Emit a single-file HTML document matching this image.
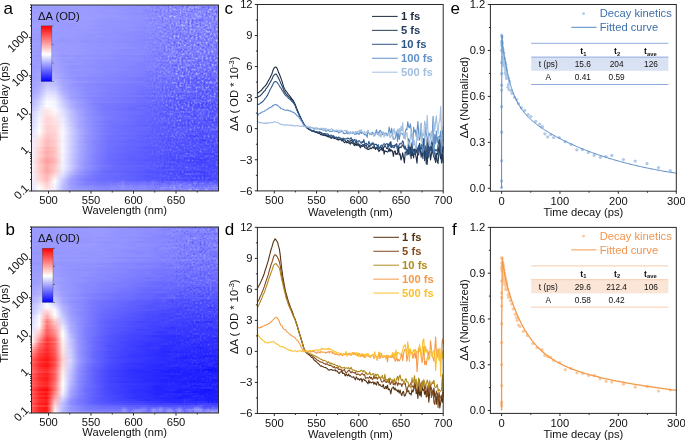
<!DOCTYPE html><html><head><meta charset="utf-8"><style>html,body{margin:0;padding:0;background:#fff;width:685px;height:441px;overflow:hidden}svg{display:block;will-change:transform}</style></head><body><svg width="685" height="441" viewBox="0 0 685 441" font-family='"Liberation Sans", sans-serif'>
<rect width="685" height="441" fill="#fff"/>
<defs><linearGradient id="ha0"><stop offset="0" stop-color="#9e9eff"/><stop offset=".042" stop-color="#9d9dff"/><stop offset=".083" stop-color="#9d9dff"/><stop offset=".125" stop-color="#9c9cff"/><stop offset=".167" stop-color="#9c9cff"/><stop offset=".208" stop-color="#9e9eff"/><stop offset=".25" stop-color="#9b9bff"/><stop offset=".292" stop-color="#9a9aff"/><stop offset=".333" stop-color="#9a9aff"/><stop offset=".375" stop-color="#9999ff"/><stop offset=".417" stop-color="#9797ff"/><stop offset=".458" stop-color="#9595ff"/><stop offset=".5" stop-color="#9595ff"/><stop offset=".542" stop-color="#9494ff"/><stop offset=".583" stop-color="#8e8eff"/><stop offset=".625" stop-color="#8e8eff"/><stop offset=".667" stop-color="#8787ff"/><stop offset=".708" stop-color="#8787ff"/><stop offset=".75" stop-color="#8383ff"/><stop offset=".792" stop-color="#8888ff"/><stop offset=".833" stop-color="#8282ff"/><stop offset=".875" stop-color="#8989ff"/><stop offset=".917" stop-color="#8888ff"/><stop offset=".958" stop-color="#8686ff"/><stop offset="1" stop-color="#7a7aff"/></linearGradient><linearGradient id="ha1"><stop offset="0" stop-color="#9d9dff"/><stop offset=".042" stop-color="#9b9bff"/><stop offset=".083" stop-color="#9c9cff"/><stop offset=".125" stop-color="#9b9bff"/><stop offset=".167" stop-color="#9a9aff"/><stop offset=".208" stop-color="#9c9cff"/><stop offset=".25" stop-color="#9a9aff"/><stop offset=".292" stop-color="#9a9aff"/><stop offset=".333" stop-color="#9a9aff"/><stop offset=".375" stop-color="#9797ff"/><stop offset=".417" stop-color="#9696ff"/><stop offset=".458" stop-color="#9595ff"/><stop offset=".5" stop-color="#9494ff"/><stop offset=".542" stop-color="#9090ff"/><stop offset=".583" stop-color="#9090ff"/><stop offset=".625" stop-color="#9191ff"/><stop offset=".667" stop-color="#8787ff"/><stop offset=".708" stop-color="#8d8dff"/><stop offset=".75" stop-color="#8a8aff"/><stop offset=".792" stop-color="#8585ff"/><stop offset=".833" stop-color="#9191ff"/><stop offset=".875" stop-color="#8a8aff"/><stop offset=".917" stop-color="#8080ff"/><stop offset=".958" stop-color="#8686ff"/><stop offset="1" stop-color="#8989ff"/></linearGradient><linearGradient id="ha2"><stop offset="0" stop-color="#9e9eff"/><stop offset=".042" stop-color="#9e9eff"/><stop offset=".083" stop-color="#9f9fff"/><stop offset=".125" stop-color="#9c9cff"/><stop offset=".167" stop-color="#9c9cff"/><stop offset=".208" stop-color="#9b9bff"/><stop offset=".25" stop-color="#9b9bff"/><stop offset=".292" stop-color="#9999ff"/><stop offset=".333" stop-color="#9898ff"/><stop offset=".375" stop-color="#9797ff"/><stop offset=".417" stop-color="#9898ff"/><stop offset=".458" stop-color="#9797ff"/><stop offset=".5" stop-color="#9292ff"/><stop offset=".542" stop-color="#9191ff"/><stop offset=".583" stop-color="#9191ff"/><stop offset=".625" stop-color="#8989ff"/><stop offset=".667" stop-color="#8b8bff"/><stop offset=".708" stop-color="#8a8aff"/><stop offset=".75" stop-color="#8e8eff"/><stop offset=".792" stop-color="#8b8bff"/><stop offset=".833" stop-color="#8686ff"/><stop offset=".875" stop-color="#8585ff"/><stop offset=".917" stop-color="#8484ff"/><stop offset=".958" stop-color="#8e8eff"/><stop offset="1" stop-color="#8484ff"/></linearGradient><linearGradient id="ha3"><stop offset="0" stop-color="#9d9dff"/><stop offset=".042" stop-color="#9d9dff"/><stop offset=".083" stop-color="#9b9bff"/><stop offset=".125" stop-color="#9c9cff"/><stop offset=".167" stop-color="#9b9bff"/><stop offset=".208" stop-color="#9d9dff"/><stop offset=".25" stop-color="#9c9cff"/><stop offset=".292" stop-color="#9a9aff"/><stop offset=".333" stop-color="#9999ff"/><stop offset=".375" stop-color="#9797ff"/><stop offset=".417" stop-color="#9797ff"/><stop offset=".458" stop-color="#9595ff"/><stop offset=".5" stop-color="#9494ff"/><stop offset=".542" stop-color="#9090ff"/><stop offset=".583" stop-color="#9090ff"/><stop offset=".625" stop-color="#8989ff"/><stop offset=".667" stop-color="#8585ff"/><stop offset=".708" stop-color="#8989ff"/><stop offset=".75" stop-color="#8585ff"/><stop offset=".792" stop-color="#8888ff"/><stop offset=".833" stop-color="#9292ff"/><stop offset=".875" stop-color="#8282ff"/><stop offset=".917" stop-color="#8282ff"/><stop offset=".958" stop-color="#8686ff"/><stop offset="1" stop-color="#8888ff"/></linearGradient><linearGradient id="ha4"><stop offset="0" stop-color="#9f9fff"/><stop offset=".042" stop-color="#9e9eff"/><stop offset=".083" stop-color="#9b9bff"/><stop offset=".125" stop-color="#9c9cff"/><stop offset=".167" stop-color="#9c9cff"/><stop offset=".208" stop-color="#9a9aff"/><stop offset=".25" stop-color="#9b9bff"/><stop offset=".292" stop-color="#9999ff"/><stop offset=".333" stop-color="#9a9aff"/><stop offset=".375" stop-color="#9797ff"/><stop offset=".417" stop-color="#9696ff"/><stop offset=".458" stop-color="#9494ff"/><stop offset=".5" stop-color="#9393ff"/><stop offset=".542" stop-color="#8e8eff"/><stop offset=".583" stop-color="#8d8dff"/><stop offset=".625" stop-color="#8e8eff"/><stop offset=".667" stop-color="#8585ff"/><stop offset=".708" stop-color="#8c8cff"/><stop offset=".75" stop-color="#8282ff"/><stop offset=".792" stop-color="#8b8bff"/><stop offset=".833" stop-color="#8282ff"/><stop offset=".875" stop-color="#8989ff"/><stop offset=".917" stop-color="#8686ff"/><stop offset=".958" stop-color="#7d7dff"/><stop offset="1" stop-color="#8b8bff"/></linearGradient><linearGradient id="ha5"><stop offset="0" stop-color="#a0a0ff"/><stop offset=".042" stop-color="#a0a0ff"/><stop offset=".083" stop-color="#9e9eff"/><stop offset=".125" stop-color="#a0a0ff"/><stop offset=".167" stop-color="#9d9dff"/><stop offset=".208" stop-color="#9e9eff"/><stop offset=".25" stop-color="#9c9cff"/><stop offset=".292" stop-color="#9b9bff"/><stop offset=".333" stop-color="#9999ff"/><stop offset=".375" stop-color="#9b9bff"/><stop offset=".417" stop-color="#9898ff"/><stop offset=".458" stop-color="#9898ff"/><stop offset=".5" stop-color="#9595ff"/><stop offset=".542" stop-color="#9393ff"/><stop offset=".583" stop-color="#9191ff"/><stop offset=".625" stop-color="#8e8eff"/><stop offset=".667" stop-color="#8d8dff"/><stop offset=".708" stop-color="#8a8aff"/><stop offset=".75" stop-color="#8989ff"/><stop offset=".792" stop-color="#8383ff"/><stop offset=".833" stop-color="#8585ff"/><stop offset=".875" stop-color="#9090ff"/><stop offset=".917" stop-color="#8484ff"/><stop offset=".958" stop-color="#8282ff"/><stop offset="1" stop-color="#8989ff"/></linearGradient><linearGradient id="ha6"><stop offset="0" stop-color="#a0a0ff"/><stop offset=".042" stop-color="#9f9fff"/><stop offset=".083" stop-color="#9d9dff"/><stop offset=".125" stop-color="#9f9fff"/><stop offset=".167" stop-color="#9e9eff"/><stop offset=".208" stop-color="#9e9eff"/><stop offset=".25" stop-color="#9c9cff"/><stop offset=".292" stop-color="#9c9cff"/><stop offset=".333" stop-color="#9a9aff"/><stop offset=".375" stop-color="#9999ff"/><stop offset=".417" stop-color="#9696ff"/><stop offset=".458" stop-color="#9595ff"/><stop offset=".5" stop-color="#9797ff"/><stop offset=".542" stop-color="#9393ff"/><stop offset=".583" stop-color="#9292ff"/><stop offset=".625" stop-color="#8f8fff"/><stop offset=".667" stop-color="#8b8bff"/><stop offset=".708" stop-color="#8989ff"/><stop offset=".75" stop-color="#8d8dff"/><stop offset=".792" stop-color="#8888ff"/><stop offset=".833" stop-color="#8787ff"/><stop offset=".875" stop-color="#8787ff"/><stop offset=".917" stop-color="#8c8cff"/><stop offset=".958" stop-color="#8a8aff"/><stop offset="1" stop-color="#8888ff"/></linearGradient><linearGradient id="ha7"><stop offset="0" stop-color="#9e9eff"/><stop offset=".042" stop-color="#9e9eff"/><stop offset=".083" stop-color="#9c9cff"/><stop offset=".125" stop-color="#9c9cff"/><stop offset=".167" stop-color="#9c9cff"/><stop offset=".208" stop-color="#9b9bff"/><stop offset=".25" stop-color="#9b9bff"/><stop offset=".292" stop-color="#9898ff"/><stop offset=".333" stop-color="#9999ff"/><stop offset=".375" stop-color="#9494ff"/><stop offset=".417" stop-color="#9595ff"/><stop offset=".458" stop-color="#9494ff"/><stop offset=".5" stop-color="#9393ff"/><stop offset=".542" stop-color="#9393ff"/><stop offset=".583" stop-color="#9191ff"/><stop offset=".625" stop-color="#8989ff"/><stop offset=".667" stop-color="#8484ff"/><stop offset=".708" stop-color="#8a8aff"/><stop offset=".75" stop-color="#8383ff"/><stop offset=".792" stop-color="#8686ff"/><stop offset=".833" stop-color="#8989ff"/><stop offset=".875" stop-color="#7b7bff"/><stop offset=".917" stop-color="#7878ff"/><stop offset=".958" stop-color="#8484ff"/><stop offset="1" stop-color="#8383ff"/></linearGradient><linearGradient id="ha8"><stop offset="0" stop-color="#9d9dff"/><stop offset=".042" stop-color="#9b9bff"/><stop offset=".083" stop-color="#9c9cff"/><stop offset=".125" stop-color="#9b9bff"/><stop offset=".167" stop-color="#9999ff"/><stop offset=".208" stop-color="#9b9bff"/><stop offset=".25" stop-color="#9a9aff"/><stop offset=".292" stop-color="#9999ff"/><stop offset=".333" stop-color="#9696ff"/><stop offset=".375" stop-color="#9595ff"/><stop offset=".417" stop-color="#9393ff"/><stop offset=".458" stop-color="#9292ff"/><stop offset=".5" stop-color="#9292ff"/><stop offset=".542" stop-color="#8f8fff"/><stop offset=".583" stop-color="#8f8fff"/><stop offset=".625" stop-color="#8c8cff"/><stop offset=".667" stop-color="#8f8fff"/><stop offset=".708" stop-color="#8383ff"/><stop offset=".75" stop-color="#8a8aff"/><stop offset=".792" stop-color="#8585ff"/><stop offset=".833" stop-color="#8585ff"/><stop offset=".875" stop-color="#7c7cff"/><stop offset=".917" stop-color="#8181ff"/><stop offset=".958" stop-color="#8787ff"/><stop offset="1" stop-color="#8383ff"/></linearGradient><linearGradient id="ha9"><stop offset="0" stop-color="#a0a0ff"/><stop offset=".042" stop-color="#9e9eff"/><stop offset=".083" stop-color="#9a9aff"/><stop offset=".125" stop-color="#9b9bff"/><stop offset=".167" stop-color="#9999ff"/><stop offset=".208" stop-color="#9797ff"/><stop offset=".25" stop-color="#9a9aff"/><stop offset=".292" stop-color="#9b9bff"/><stop offset=".333" stop-color="#9898ff"/><stop offset=".375" stop-color="#9595ff"/><stop offset=".417" stop-color="#9494ff"/><stop offset=".458" stop-color="#9595ff"/><stop offset=".5" stop-color="#9292ff"/><stop offset=".542" stop-color="#9090ff"/><stop offset=".583" stop-color="#8e8eff"/><stop offset=".625" stop-color="#8c8cff"/><stop offset=".667" stop-color="#8c8cff"/><stop offset=".708" stop-color="#8a8aff"/><stop offset=".75" stop-color="#8888ff"/><stop offset=".792" stop-color="#8181ff"/><stop offset=".833" stop-color="#8787ff"/><stop offset=".875" stop-color="#8080ff"/><stop offset=".917" stop-color="#8989ff"/><stop offset=".958" stop-color="#7d7dff"/><stop offset="1" stop-color="#8282ff"/></linearGradient><linearGradient id="ha10"><stop offset="0" stop-color="#a0a0ff"/><stop offset=".042" stop-color="#9f9fff"/><stop offset=".083" stop-color="#9c9cff"/><stop offset=".125" stop-color="#9d9dff"/><stop offset=".167" stop-color="#9c9cff"/><stop offset=".208" stop-color="#9797ff"/><stop offset=".25" stop-color="#9a9aff"/><stop offset=".292" stop-color="#9999ff"/><stop offset=".333" stop-color="#9797ff"/><stop offset=".375" stop-color="#9494ff"/><stop offset=".417" stop-color="#9494ff"/><stop offset=".458" stop-color="#9393ff"/><stop offset=".5" stop-color="#9393ff"/><stop offset=".542" stop-color="#9090ff"/><stop offset=".583" stop-color="#8e8eff"/><stop offset=".625" stop-color="#8f8fff"/><stop offset=".667" stop-color="#8787ff"/><stop offset=".708" stop-color="#8686ff"/><stop offset=".75" stop-color="#7f7fff"/><stop offset=".792" stop-color="#8c8cff"/><stop offset=".833" stop-color="#8989ff"/><stop offset=".875" stop-color="#8888ff"/><stop offset=".917" stop-color="#8686ff"/><stop offset=".958" stop-color="#8383ff"/><stop offset="1" stop-color="#8484ff"/></linearGradient><linearGradient id="ha11"><stop offset="0" stop-color="#9e9eff"/><stop offset=".042" stop-color="#9f9fff"/><stop offset=".083" stop-color="#9d9dff"/><stop offset=".125" stop-color="#9c9cff"/><stop offset=".167" stop-color="#9a9aff"/><stop offset=".208" stop-color="#9a9aff"/><stop offset=".25" stop-color="#9c9cff"/><stop offset=".292" stop-color="#9999ff"/><stop offset=".333" stop-color="#9797ff"/><stop offset=".375" stop-color="#9595ff"/><stop offset=".417" stop-color="#9292ff"/><stop offset=".458" stop-color="#9292ff"/><stop offset=".5" stop-color="#9292ff"/><stop offset=".542" stop-color="#8f8fff"/><stop offset=".583" stop-color="#8c8cff"/><stop offset=".625" stop-color="#8a8aff"/><stop offset=".667" stop-color="#8888ff"/><stop offset=".708" stop-color="#8181ff"/><stop offset=".75" stop-color="#8484ff"/><stop offset=".792" stop-color="#8181ff"/><stop offset=".833" stop-color="#8888ff"/><stop offset=".875" stop-color="#7e7eff"/><stop offset=".917" stop-color="#8585ff"/><stop offset=".958" stop-color="#8a8aff"/><stop offset="1" stop-color="#8080ff"/></linearGradient><linearGradient id="ha12"><stop offset="0" stop-color="#9d9dff"/><stop offset=".042" stop-color="#9b9bff"/><stop offset=".083" stop-color="#9c9cff"/><stop offset=".125" stop-color="#9e9eff"/><stop offset=".167" stop-color="#9a9aff"/><stop offset=".208" stop-color="#9999ff"/><stop offset=".25" stop-color="#9898ff"/><stop offset=".292" stop-color="#9898ff"/><stop offset=".333" stop-color="#9494ff"/><stop offset=".375" stop-color="#9393ff"/><stop offset=".417" stop-color="#9494ff"/><stop offset=".458" stop-color="#9090ff"/><stop offset=".5" stop-color="#9292ff"/><stop offset=".542" stop-color="#9191ff"/><stop offset=".583" stop-color="#8c8cff"/><stop offset=".625" stop-color="#8b8bff"/><stop offset=".667" stop-color="#8d8dff"/><stop offset=".708" stop-color="#8585ff"/><stop offset=".75" stop-color="#8282ff"/><stop offset=".792" stop-color="#7d7dff"/><stop offset=".833" stop-color="#8383ff"/><stop offset=".875" stop-color="#8989ff"/><stop offset=".917" stop-color="#8686ff"/><stop offset=".958" stop-color="#7c7cff"/><stop offset="1" stop-color="#7c7cff"/></linearGradient><linearGradient id="ha13"><stop offset="0" stop-color="#9d9dff"/><stop offset=".042" stop-color="#9d9dff"/><stop offset=".083" stop-color="#9c9cff"/><stop offset=".125" stop-color="#9b9bff"/><stop offset=".167" stop-color="#9a9aff"/><stop offset=".208" stop-color="#9a9aff"/><stop offset=".25" stop-color="#9999ff"/><stop offset=".292" stop-color="#9898ff"/><stop offset=".333" stop-color="#9898ff"/><stop offset=".375" stop-color="#9595ff"/><stop offset=".417" stop-color="#9393ff"/><stop offset=".458" stop-color="#8f8fff"/><stop offset=".5" stop-color="#9191ff"/><stop offset=".542" stop-color="#8b8bff"/><stop offset=".583" stop-color="#8989ff"/><stop offset=".625" stop-color="#8b8bff"/><stop offset=".667" stop-color="#8989ff"/><stop offset=".708" stop-color="#8585ff"/><stop offset=".75" stop-color="#7d7dff"/><stop offset=".792" stop-color="#8181ff"/><stop offset=".833" stop-color="#7f7fff"/><stop offset=".875" stop-color="#8484ff"/><stop offset=".917" stop-color="#8c8cff"/><stop offset=".958" stop-color="#8282ff"/><stop offset="1" stop-color="#7d7dff"/></linearGradient><linearGradient id="ha14"><stop offset="0" stop-color="#9c9cff"/><stop offset=".042" stop-color="#9a9aff"/><stop offset=".083" stop-color="#9b9bff"/><stop offset=".125" stop-color="#9999ff"/><stop offset=".167" stop-color="#9b9bff"/><stop offset=".208" stop-color="#9a9aff"/><stop offset=".25" stop-color="#9999ff"/><stop offset=".292" stop-color="#9696ff"/><stop offset=".333" stop-color="#9595ff"/><stop offset=".375" stop-color="#9393ff"/><stop offset=".417" stop-color="#9191ff"/><stop offset=".458" stop-color="#9090ff"/><stop offset=".5" stop-color="#8d8dff"/><stop offset=".542" stop-color="#8b8bff"/><stop offset=".583" stop-color="#8c8cff"/><stop offset=".625" stop-color="#8787ff"/><stop offset=".667" stop-color="#8686ff"/><stop offset=".708" stop-color="#8787ff"/><stop offset=".75" stop-color="#7c7cff"/><stop offset=".792" stop-color="#7e7eff"/><stop offset=".833" stop-color="#8181ff"/><stop offset=".875" stop-color="#8282ff"/><stop offset=".917" stop-color="#7d7dff"/><stop offset=".958" stop-color="#8484ff"/><stop offset="1" stop-color="#8080ff"/></linearGradient><linearGradient id="ha15"><stop offset="0" stop-color="#9d9dff"/><stop offset=".042" stop-color="#9c9cff"/><stop offset=".083" stop-color="#9898ff"/><stop offset=".125" stop-color="#9c9cff"/><stop offset=".167" stop-color="#9a9aff"/><stop offset=".208" stop-color="#9a9aff"/><stop offset=".25" stop-color="#9797ff"/><stop offset=".292" stop-color="#9696ff"/><stop offset=".333" stop-color="#9393ff"/><stop offset=".375" stop-color="#9696ff"/><stop offset=".417" stop-color="#9191ff"/><stop offset=".458" stop-color="#9292ff"/><stop offset=".5" stop-color="#8e8eff"/><stop offset=".542" stop-color="#8d8dff"/><stop offset=".583" stop-color="#8787ff"/><stop offset=".625" stop-color="#8787ff"/><stop offset=".667" stop-color="#8888ff"/><stop offset=".708" stop-color="#7f7fff"/><stop offset=".75" stop-color="#8686ff"/><stop offset=".792" stop-color="#8383ff"/><stop offset=".833" stop-color="#7b7bff"/><stop offset=".875" stop-color="#7d7dff"/><stop offset=".917" stop-color="#7c7cff"/><stop offset=".958" stop-color="#7e7eff"/><stop offset="1" stop-color="#7c7cff"/></linearGradient><linearGradient id="ha16"><stop offset="0" stop-color="#9b9bff"/><stop offset=".042" stop-color="#9a9aff"/><stop offset=".083" stop-color="#9b9bff"/><stop offset=".125" stop-color="#9c9cff"/><stop offset=".167" stop-color="#9898ff"/><stop offset=".208" stop-color="#9999ff"/><stop offset=".25" stop-color="#9797ff"/><stop offset=".292" stop-color="#9595ff"/><stop offset=".333" stop-color="#9696ff"/><stop offset=".375" stop-color="#9292ff"/><stop offset=".417" stop-color="#9393ff"/><stop offset=".458" stop-color="#8f8fff"/><stop offset=".5" stop-color="#8f8fff"/><stop offset=".542" stop-color="#8d8dff"/><stop offset=".583" stop-color="#8989ff"/><stop offset=".625" stop-color="#8989ff"/><stop offset=".667" stop-color="#8585ff"/><stop offset=".708" stop-color="#8585ff"/><stop offset=".75" stop-color="#8282ff"/><stop offset=".792" stop-color="#7c7cff"/><stop offset=".833" stop-color="#8080ff"/><stop offset=".875" stop-color="#8080ff"/><stop offset=".917" stop-color="#8484ff"/><stop offset=".958" stop-color="#7a7aff"/><stop offset="1" stop-color="#7e7eff"/></linearGradient><linearGradient id="ha17"><stop offset="0" stop-color="#9a9aff"/><stop offset=".042" stop-color="#9898ff"/><stop offset=".083" stop-color="#9a9aff"/><stop offset=".125" stop-color="#9a9aff"/><stop offset=".167" stop-color="#9696ff"/><stop offset=".208" stop-color="#9696ff"/><stop offset=".25" stop-color="#9696ff"/><stop offset=".292" stop-color="#9393ff"/><stop offset=".333" stop-color="#9393ff"/><stop offset=".375" stop-color="#9090ff"/><stop offset=".417" stop-color="#8f8fff"/><stop offset=".458" stop-color="#8f8fff"/><stop offset=".5" stop-color="#8c8cff"/><stop offset=".542" stop-color="#8c8cff"/><stop offset=".583" stop-color="#8787ff"/><stop offset=".625" stop-color="#8383ff"/><stop offset=".667" stop-color="#7e7eff"/><stop offset=".708" stop-color="#8888ff"/><stop offset=".75" stop-color="#7f7fff"/><stop offset=".792" stop-color="#8181ff"/><stop offset=".833" stop-color="#7e7eff"/><stop offset=".875" stop-color="#7e7eff"/><stop offset=".917" stop-color="#7d7dff"/><stop offset=".958" stop-color="#8787ff"/><stop offset="1" stop-color="#7878ff"/></linearGradient><linearGradient id="ha18"><stop offset="0" stop-color="#9a9aff"/><stop offset=".042" stop-color="#9b9bff"/><stop offset=".083" stop-color="#9b9bff"/><stop offset=".125" stop-color="#9898ff"/><stop offset=".167" stop-color="#9696ff"/><stop offset=".208" stop-color="#9797ff"/><stop offset=".25" stop-color="#9898ff"/><stop offset=".292" stop-color="#9191ff"/><stop offset=".333" stop-color="#9393ff"/><stop offset=".375" stop-color="#8f8fff"/><stop offset=".417" stop-color="#9191ff"/><stop offset=".458" stop-color="#8d8dff"/><stop offset=".5" stop-color="#8c8cff"/><stop offset=".542" stop-color="#8888ff"/><stop offset=".583" stop-color="#8686ff"/><stop offset=".625" stop-color="#8989ff"/><stop offset=".667" stop-color="#8585ff"/><stop offset=".708" stop-color="#8080ff"/><stop offset=".75" stop-color="#7c7cff"/><stop offset=".792" stop-color="#7676ff"/><stop offset=".833" stop-color="#7c7cff"/><stop offset=".875" stop-color="#7d7dff"/><stop offset=".917" stop-color="#7c7cff"/><stop offset=".958" stop-color="#7c7cff"/><stop offset="1" stop-color="#7676ff"/></linearGradient><linearGradient id="ha19"><stop offset="0" stop-color="#9f9fff"/><stop offset=".042" stop-color="#9f9fff"/><stop offset=".083" stop-color="#9c9cff"/><stop offset=".125" stop-color="#9a9aff"/><stop offset=".167" stop-color="#9a9aff"/><stop offset=".208" stop-color="#9898ff"/><stop offset=".25" stop-color="#9797ff"/><stop offset=".292" stop-color="#9797ff"/><stop offset=".333" stop-color="#9393ff"/><stop offset=".375" stop-color="#9393ff"/><stop offset=".417" stop-color="#9191ff"/><stop offset=".458" stop-color="#9090ff"/><stop offset=".5" stop-color="#8e8eff"/><stop offset=".542" stop-color="#8b8bff"/><stop offset=".583" stop-color="#8888ff"/><stop offset=".625" stop-color="#8787ff"/><stop offset=".667" stop-color="#8383ff"/><stop offset=".708" stop-color="#8383ff"/><stop offset=".75" stop-color="#8181ff"/><stop offset=".792" stop-color="#7a7aff"/><stop offset=".833" stop-color="#8080ff"/><stop offset=".875" stop-color="#7777ff"/><stop offset=".917" stop-color="#7a7aff"/><stop offset=".958" stop-color="#7c7cff"/><stop offset="1" stop-color="#7373ff"/></linearGradient><linearGradient id="ha20"><stop offset="0" stop-color="#9d9dff"/><stop offset=".042" stop-color="#9c9cff"/><stop offset=".083" stop-color="#9d9dff"/><stop offset=".125" stop-color="#9a9aff"/><stop offset=".167" stop-color="#9a9aff"/><stop offset=".208" stop-color="#9898ff"/><stop offset=".25" stop-color="#9898ff"/><stop offset=".292" stop-color="#9595ff"/><stop offset=".333" stop-color="#9595ff"/><stop offset=".375" stop-color="#9292ff"/><stop offset=".417" stop-color="#9191ff"/><stop offset=".458" stop-color="#8f8fff"/><stop offset=".5" stop-color="#8f8fff"/><stop offset=".542" stop-color="#8989ff"/><stop offset=".583" stop-color="#8a8aff"/><stop offset=".625" stop-color="#8787ff"/><stop offset=".667" stop-color="#8585ff"/><stop offset=".708" stop-color="#8383ff"/><stop offset=".75" stop-color="#7e7eff"/><stop offset=".792" stop-color="#7f7fff"/><stop offset=".833" stop-color="#8282ff"/><stop offset=".875" stop-color="#8080ff"/><stop offset=".917" stop-color="#7e7eff"/><stop offset=".958" stop-color="#7575ff"/><stop offset="1" stop-color="#7f7fff"/></linearGradient><linearGradient id="ha21"><stop offset="0" stop-color="#9f9fff"/><stop offset=".042" stop-color="#9c9cff"/><stop offset=".083" stop-color="#a1a1ff"/><stop offset=".125" stop-color="#9e9eff"/><stop offset=".167" stop-color="#9898ff"/><stop offset=".208" stop-color="#9b9bff"/><stop offset=".25" stop-color="#9898ff"/><stop offset=".292" stop-color="#9696ff"/><stop offset=".333" stop-color="#9595ff"/><stop offset=".375" stop-color="#9595ff"/><stop offset=".417" stop-color="#9191ff"/><stop offset=".458" stop-color="#9191ff"/><stop offset=".5" stop-color="#9191ff"/><stop offset=".542" stop-color="#8f8fff"/><stop offset=".583" stop-color="#8a8aff"/><stop offset=".625" stop-color="#8787ff"/><stop offset=".667" stop-color="#8181ff"/><stop offset=".708" stop-color="#8181ff"/><stop offset=".75" stop-color="#8383ff"/><stop offset=".792" stop-color="#8282ff"/><stop offset=".833" stop-color="#8080ff"/><stop offset=".875" stop-color="#8383ff"/><stop offset=".917" stop-color="#7979ff"/><stop offset=".958" stop-color="#7d7dff"/><stop offset="1" stop-color="#8181ff"/></linearGradient><linearGradient id="ha22"><stop offset="0" stop-color="#9e9eff"/><stop offset=".042" stop-color="#9c9cff"/><stop offset=".083" stop-color="#a0a0ff"/><stop offset=".125" stop-color="#9d9dff"/><stop offset=".167" stop-color="#9898ff"/><stop offset=".208" stop-color="#9a9aff"/><stop offset=".25" stop-color="#9898ff"/><stop offset=".292" stop-color="#9797ff"/><stop offset=".333" stop-color="#9292ff"/><stop offset=".375" stop-color="#9191ff"/><stop offset=".417" stop-color="#9090ff"/><stop offset=".458" stop-color="#8e8eff"/><stop offset=".5" stop-color="#8a8aff"/><stop offset=".542" stop-color="#8b8bff"/><stop offset=".583" stop-color="#8a8aff"/><stop offset=".625" stop-color="#8787ff"/><stop offset=".667" stop-color="#8282ff"/><stop offset=".708" stop-color="#8181ff"/><stop offset=".75" stop-color="#8383ff"/><stop offset=".792" stop-color="#7272ff"/><stop offset=".833" stop-color="#7d7dff"/><stop offset=".875" stop-color="#7f7fff"/><stop offset=".917" stop-color="#7f7fff"/><stop offset=".958" stop-color="#8484ff"/><stop offset="1" stop-color="#8181ff"/></linearGradient><linearGradient id="ha23"><stop offset="0" stop-color="#9d9dff"/><stop offset=".042" stop-color="#9b9bff"/><stop offset=".083" stop-color="#a0a0ff"/><stop offset=".125" stop-color="#a0a0ff"/><stop offset=".167" stop-color="#9c9cff"/><stop offset=".208" stop-color="#9898ff"/><stop offset=".25" stop-color="#9898ff"/><stop offset=".292" stop-color="#9696ff"/><stop offset=".333" stop-color="#9595ff"/><stop offset=".375" stop-color="#9191ff"/><stop offset=".417" stop-color="#9191ff"/><stop offset=".458" stop-color="#8d8dff"/><stop offset=".5" stop-color="#8c8cff"/><stop offset=".542" stop-color="#8a8aff"/><stop offset=".583" stop-color="#8989ff"/><stop offset=".625" stop-color="#8787ff"/><stop offset=".667" stop-color="#7e7eff"/><stop offset=".708" stop-color="#7d7dff"/><stop offset=".75" stop-color="#8080ff"/><stop offset=".792" stop-color="#7b7bff"/><stop offset=".833" stop-color="#7575ff"/><stop offset=".875" stop-color="#8080ff"/><stop offset=".917" stop-color="#7c7cff"/><stop offset=".958" stop-color="#7c7cff"/><stop offset="1" stop-color="#7777ff"/></linearGradient><linearGradient id="ha24"><stop offset="0" stop-color="#9f9fff"/><stop offset=".042" stop-color="#9b9bff"/><stop offset=".083" stop-color="#a1a1ff"/><stop offset=".125" stop-color="#a1a1ff"/><stop offset=".167" stop-color="#9999ff"/><stop offset=".208" stop-color="#9a9aff"/><stop offset=".25" stop-color="#9999ff"/><stop offset=".292" stop-color="#9595ff"/><stop offset=".333" stop-color="#9494ff"/><stop offset=".375" stop-color="#9191ff"/><stop offset=".417" stop-color="#9191ff"/><stop offset=".458" stop-color="#8d8dff"/><stop offset=".5" stop-color="#8c8cff"/><stop offset=".542" stop-color="#8d8dff"/><stop offset=".583" stop-color="#8c8cff"/><stop offset=".625" stop-color="#8a8aff"/><stop offset=".667" stop-color="#8383ff"/><stop offset=".708" stop-color="#8181ff"/><stop offset=".75" stop-color="#8585ff"/><stop offset=".792" stop-color="#7d7dff"/><stop offset=".833" stop-color="#7878ff"/><stop offset=".875" stop-color="#7b7bff"/><stop offset=".917" stop-color="#7c7cff"/><stop offset=".958" stop-color="#7676ff"/><stop offset="1" stop-color="#7272ff"/></linearGradient><linearGradient id="ha25"><stop offset="0" stop-color="#9898ff"/><stop offset=".042" stop-color="#9898ff"/><stop offset=".083" stop-color="#a0a0ff"/><stop offset=".125" stop-color="#9e9eff"/><stop offset=".167" stop-color="#9595ff"/><stop offset=".208" stop-color="#9696ff"/><stop offset=".25" stop-color="#9393ff"/><stop offset=".292" stop-color="#9292ff"/><stop offset=".333" stop-color="#8e8eff"/><stop offset=".375" stop-color="#8f8fff"/><stop offset=".417" stop-color="#8c8cff"/><stop offset=".458" stop-color="#8989ff"/><stop offset=".5" stop-color="#8888ff"/><stop offset=".542" stop-color="#8686ff"/><stop offset=".583" stop-color="#8585ff"/><stop offset=".625" stop-color="#7d7dff"/><stop offset=".667" stop-color="#7b7bff"/><stop offset=".708" stop-color="#7b7bff"/><stop offset=".75" stop-color="#8585ff"/><stop offset=".792" stop-color="#7d7dff"/><stop offset=".833" stop-color="#7777ff"/><stop offset=".875" stop-color="#7a7aff"/><stop offset=".917" stop-color="#8080ff"/><stop offset=".958" stop-color="#7474ff"/><stop offset="1" stop-color="#7373ff"/></linearGradient><linearGradient id="ha26"><stop offset="0" stop-color="#9e9eff"/><stop offset=".042" stop-color="#9d9dff"/><stop offset=".083" stop-color="#a7a7ff"/><stop offset=".125" stop-color="#a5a5ff"/><stop offset=".167" stop-color="#9b9bff"/><stop offset=".208" stop-color="#9a9aff"/><stop offset=".25" stop-color="#9595ff"/><stop offset=".292" stop-color="#9797ff"/><stop offset=".333" stop-color="#9393ff"/><stop offset=".375" stop-color="#9191ff"/><stop offset=".417" stop-color="#9090ff"/><stop offset=".458" stop-color="#8d8dff"/><stop offset=".5" stop-color="#8989ff"/><stop offset=".542" stop-color="#8a8aff"/><stop offset=".583" stop-color="#8686ff"/><stop offset=".625" stop-color="#8484ff"/><stop offset=".667" stop-color="#8080ff"/><stop offset=".708" stop-color="#7e7eff"/><stop offset=".75" stop-color="#7575ff"/><stop offset=".792" stop-color="#8282ff"/><stop offset=".833" stop-color="#7c7cff"/><stop offset=".875" stop-color="#7f7fff"/><stop offset=".917" stop-color="#8282ff"/><stop offset=".958" stop-color="#7878ff"/><stop offset="1" stop-color="#6f6fff"/></linearGradient><linearGradient id="ha27"><stop offset="0" stop-color="#9999ff"/><stop offset=".042" stop-color="#9b9bff"/><stop offset=".083" stop-color="#9f9fff"/><stop offset=".125" stop-color="#a1a1ff"/><stop offset=".167" stop-color="#9696ff"/><stop offset=".208" stop-color="#9696ff"/><stop offset=".25" stop-color="#9494ff"/><stop offset=".292" stop-color="#9292ff"/><stop offset=".333" stop-color="#8f8fff"/><stop offset=".375" stop-color="#8c8cff"/><stop offset=".417" stop-color="#8b8bff"/><stop offset=".458" stop-color="#8787ff"/><stop offset=".5" stop-color="#8888ff"/><stop offset=".542" stop-color="#8989ff"/><stop offset=".583" stop-color="#8787ff"/><stop offset=".625" stop-color="#8484ff"/><stop offset=".667" stop-color="#8080ff"/><stop offset=".708" stop-color="#7979ff"/><stop offset=".75" stop-color="#8080ff"/><stop offset=".792" stop-color="#7878ff"/><stop offset=".833" stop-color="#7676ff"/><stop offset=".875" stop-color="#7373ff"/><stop offset=".917" stop-color="#7474ff"/><stop offset=".958" stop-color="#7272ff"/><stop offset="1" stop-color="#7474ff"/></linearGradient><linearGradient id="ha28"><stop offset="0" stop-color="#9c9cff"/><stop offset=".042" stop-color="#9b9bff"/><stop offset=".083" stop-color="#a2a2ff"/><stop offset=".125" stop-color="#a2a2ff"/><stop offset=".167" stop-color="#9999ff"/><stop offset=".208" stop-color="#9393ff"/><stop offset=".25" stop-color="#9494ff"/><stop offset=".292" stop-color="#9393ff"/><stop offset=".333" stop-color="#8f8fff"/><stop offset=".375" stop-color="#8c8cff"/><stop offset=".417" stop-color="#8c8cff"/><stop offset=".458" stop-color="#8888ff"/><stop offset=".5" stop-color="#8787ff"/><stop offset=".542" stop-color="#8484ff"/><stop offset=".583" stop-color="#8585ff"/><stop offset=".625" stop-color="#7b7bff"/><stop offset=".667" stop-color="#7b7bff"/><stop offset=".708" stop-color="#7979ff"/><stop offset=".75" stop-color="#7c7cff"/><stop offset=".792" stop-color="#7a7aff"/><stop offset=".833" stop-color="#7c7cff"/><stop offset=".875" stop-color="#6c6cff"/><stop offset=".917" stop-color="#7676ff"/><stop offset=".958" stop-color="#7171ff"/><stop offset="1" stop-color="#6f6fff"/></linearGradient><linearGradient id="ha29"><stop offset="0" stop-color="#9898ff"/><stop offset=".042" stop-color="#9e9eff"/><stop offset=".083" stop-color="#a4a4ff"/><stop offset=".125" stop-color="#a3a3ff"/><stop offset=".167" stop-color="#9c9cff"/><stop offset=".208" stop-color="#9797ff"/><stop offset=".25" stop-color="#9898ff"/><stop offset=".292" stop-color="#9393ff"/><stop offset=".333" stop-color="#8f8fff"/><stop offset=".375" stop-color="#8d8dff"/><stop offset=".417" stop-color="#8b8bff"/><stop offset=".458" stop-color="#8989ff"/><stop offset=".5" stop-color="#8989ff"/><stop offset=".542" stop-color="#8686ff"/><stop offset=".583" stop-color="#8080ff"/><stop offset=".625" stop-color="#8383ff"/><stop offset=".667" stop-color="#7e7eff"/><stop offset=".708" stop-color="#7e7eff"/><stop offset=".75" stop-color="#7b7bff"/><stop offset=".792" stop-color="#7c7cff"/><stop offset=".833" stop-color="#7777ff"/><stop offset=".875" stop-color="#7b7bff"/><stop offset=".917" stop-color="#7676ff"/><stop offset=".958" stop-color="#7676ff"/><stop offset="1" stop-color="#7676ff"/></linearGradient><linearGradient id="ha30"><stop offset="0" stop-color="#9797ff"/><stop offset=".042" stop-color="#9d9dff"/><stop offset=".083" stop-color="#a2a2ff"/><stop offset=".125" stop-color="#a4a4ff"/><stop offset=".167" stop-color="#9a9aff"/><stop offset=".208" stop-color="#9292ff"/><stop offset=".25" stop-color="#9090ff"/><stop offset=".292" stop-color="#9090ff"/><stop offset=".333" stop-color="#8d8dff"/><stop offset=".375" stop-color="#8a8aff"/><stop offset=".417" stop-color="#8989ff"/><stop offset=".458" stop-color="#8686ff"/><stop offset=".5" stop-color="#8686ff"/><stop offset=".542" stop-color="#8282ff"/><stop offset=".583" stop-color="#8080ff"/><stop offset=".625" stop-color="#8080ff"/><stop offset=".667" stop-color="#8282ff"/><stop offset=".708" stop-color="#7575ff"/><stop offset=".75" stop-color="#7575ff"/><stop offset=".792" stop-color="#7171ff"/><stop offset=".833" stop-color="#7777ff"/><stop offset=".875" stop-color="#6b6bff"/><stop offset=".917" stop-color="#6e6eff"/><stop offset=".958" stop-color="#7070ff"/><stop offset="1" stop-color="#6b6bff"/></linearGradient><linearGradient id="ha31"><stop offset="0" stop-color="#9595ff"/><stop offset=".042" stop-color="#9d9dff"/><stop offset=".083" stop-color="#a5a5ff"/><stop offset=".125" stop-color="#a4a4ff"/><stop offset=".167" stop-color="#9b9bff"/><stop offset=".208" stop-color="#9292ff"/><stop offset=".25" stop-color="#9292ff"/><stop offset=".292" stop-color="#9292ff"/><stop offset=".333" stop-color="#8e8eff"/><stop offset=".375" stop-color="#8b8bff"/><stop offset=".417" stop-color="#8888ff"/><stop offset=".458" stop-color="#8888ff"/><stop offset=".5" stop-color="#8484ff"/><stop offset=".542" stop-color="#8181ff"/><stop offset=".583" stop-color="#7f7fff"/><stop offset=".625" stop-color="#8181ff"/><stop offset=".667" stop-color="#7c7cff"/><stop offset=".708" stop-color="#7d7dff"/><stop offset=".75" stop-color="#7575ff"/><stop offset=".792" stop-color="#7979ff"/><stop offset=".833" stop-color="#7070ff"/><stop offset=".875" stop-color="#7070ff"/><stop offset=".917" stop-color="#7c7cff"/><stop offset=".958" stop-color="#7474ff"/><stop offset="1" stop-color="#6d6dff"/></linearGradient><linearGradient id="ha32"><stop offset="0" stop-color="#9b9bff"/><stop offset=".042" stop-color="#a0a0ff"/><stop offset=".083" stop-color="#a7a7ff"/><stop offset=".125" stop-color="#a6a6ff"/><stop offset=".167" stop-color="#9e9eff"/><stop offset=".208" stop-color="#9595ff"/><stop offset=".25" stop-color="#9696ff"/><stop offset=".292" stop-color="#9292ff"/><stop offset=".333" stop-color="#9090ff"/><stop offset=".375" stop-color="#8a8aff"/><stop offset=".417" stop-color="#8b8bff"/><stop offset=".458" stop-color="#8a8aff"/><stop offset=".5" stop-color="#8787ff"/><stop offset=".542" stop-color="#8484ff"/><stop offset=".583" stop-color="#8181ff"/><stop offset=".625" stop-color="#8282ff"/><stop offset=".667" stop-color="#7979ff"/><stop offset=".708" stop-color="#7979ff"/><stop offset=".75" stop-color="#7979ff"/><stop offset=".792" stop-color="#7979ff"/><stop offset=".833" stop-color="#7171ff"/><stop offset=".875" stop-color="#7373ff"/><stop offset=".917" stop-color="#6f6fff"/><stop offset=".958" stop-color="#7171ff"/><stop offset="1" stop-color="#6f6fff"/></linearGradient><linearGradient id="ha33"><stop offset="0" stop-color="#9a9aff"/><stop offset=".042" stop-color="#9f9fff"/><stop offset=".083" stop-color="#aaaaff"/><stop offset=".125" stop-color="#a8a8ff"/><stop offset=".167" stop-color="#9b9bff"/><stop offset=".208" stop-color="#9494ff"/><stop offset=".25" stop-color="#9090ff"/><stop offset=".292" stop-color="#9191ff"/><stop offset=".333" stop-color="#8f8fff"/><stop offset=".375" stop-color="#8c8cff"/><stop offset=".417" stop-color="#8787ff"/><stop offset=".458" stop-color="#8686ff"/><stop offset=".5" stop-color="#8383ff"/><stop offset=".542" stop-color="#8181ff"/><stop offset=".583" stop-color="#8181ff"/><stop offset=".625" stop-color="#7878ff"/><stop offset=".667" stop-color="#7c7cff"/><stop offset=".708" stop-color="#7676ff"/><stop offset=".75" stop-color="#7a7aff"/><stop offset=".792" stop-color="#7373ff"/><stop offset=".833" stop-color="#6d6dff"/><stop offset=".875" stop-color="#7070ff"/><stop offset=".917" stop-color="#7171ff"/><stop offset=".958" stop-color="#6d6dff"/><stop offset="1" stop-color="#7070ff"/></linearGradient><linearGradient id="ha34"><stop offset="0" stop-color="#9c9cff"/><stop offset=".042" stop-color="#a3a3ff"/><stop offset=".083" stop-color="#afafff"/><stop offset=".125" stop-color="#ababff"/><stop offset=".167" stop-color="#a0a0ff"/><stop offset=".208" stop-color="#9595ff"/><stop offset=".25" stop-color="#9191ff"/><stop offset=".292" stop-color="#8f8fff"/><stop offset=".333" stop-color="#8e8eff"/><stop offset=".375" stop-color="#8888ff"/><stop offset=".417" stop-color="#8989ff"/><stop offset=".458" stop-color="#8484ff"/><stop offset=".5" stop-color="#8181ff"/><stop offset=".542" stop-color="#8282ff"/><stop offset=".583" stop-color="#7e7eff"/><stop offset=".625" stop-color="#7878ff"/><stop offset=".667" stop-color="#7777ff"/><stop offset=".708" stop-color="#7979ff"/><stop offset=".75" stop-color="#7979ff"/><stop offset=".792" stop-color="#7070ff"/><stop offset=".833" stop-color="#7272ff"/><stop offset=".875" stop-color="#7272ff"/><stop offset=".917" stop-color="#6969ff"/><stop offset=".958" stop-color="#6e6eff"/><stop offset="1" stop-color="#6d6dff"/></linearGradient><linearGradient id="ha35"><stop offset="0" stop-color="#9c9cff"/><stop offset=".042" stop-color="#a3a3ff"/><stop offset=".083" stop-color="#b1b1ff"/><stop offset=".125" stop-color="#aeaeff"/><stop offset=".167" stop-color="#a1a1ff"/><stop offset=".208" stop-color="#9797ff"/><stop offset=".25" stop-color="#9393ff"/><stop offset=".292" stop-color="#9090ff"/><stop offset=".333" stop-color="#8c8cff"/><stop offset=".375" stop-color="#8b8bff"/><stop offset=".417" stop-color="#8585ff"/><stop offset=".458" stop-color="#8585ff"/><stop offset=".5" stop-color="#8181ff"/><stop offset=".542" stop-color="#8282ff"/><stop offset=".583" stop-color="#8080ff"/><stop offset=".625" stop-color="#7575ff"/><stop offset=".667" stop-color="#7474ff"/><stop offset=".708" stop-color="#7777ff"/><stop offset=".75" stop-color="#7676ff"/><stop offset=".792" stop-color="#7474ff"/><stop offset=".833" stop-color="#6e6eff"/><stop offset=".875" stop-color="#6f6fff"/><stop offset=".917" stop-color="#6f6fff"/><stop offset=".958" stop-color="#6b6bff"/><stop offset="1" stop-color="#7171ff"/></linearGradient><linearGradient id="ha36"><stop offset="0" stop-color="#9999ff"/><stop offset=".042" stop-color="#a2a2ff"/><stop offset=".083" stop-color="#b1b1ff"/><stop offset=".125" stop-color="#adadff"/><stop offset=".167" stop-color="#9e9eff"/><stop offset=".208" stop-color="#9393ff"/><stop offset=".25" stop-color="#8d8dff"/><stop offset=".292" stop-color="#8a8aff"/><stop offset=".333" stop-color="#8888ff"/><stop offset=".375" stop-color="#8686ff"/><stop offset=".417" stop-color="#8484ff"/><stop offset=".458" stop-color="#8080ff"/><stop offset=".5" stop-color="#7f7fff"/><stop offset=".542" stop-color="#7b7bff"/><stop offset=".583" stop-color="#7878ff"/><stop offset=".625" stop-color="#7777ff"/><stop offset=".667" stop-color="#7676ff"/><stop offset=".708" stop-color="#6f6fff"/><stop offset=".75" stop-color="#6e6eff"/><stop offset=".792" stop-color="#6c6cff"/><stop offset=".833" stop-color="#6b6bff"/><stop offset=".875" stop-color="#6464ff"/><stop offset=".917" stop-color="#6d6dff"/><stop offset=".958" stop-color="#6565ff"/><stop offset="1" stop-color="#6a6aff"/></linearGradient><linearGradient id="ha37"><stop offset="0" stop-color="#9e9eff"/><stop offset=".042" stop-color="#a4a4ff"/><stop offset=".083" stop-color="#babaff"/><stop offset=".125" stop-color="#b4b4ff"/><stop offset=".167" stop-color="#a3a3ff"/><stop offset=".208" stop-color="#9999ff"/><stop offset=".25" stop-color="#8f8fff"/><stop offset=".292" stop-color="#8d8dff"/><stop offset=".333" stop-color="#8a8aff"/><stop offset=".375" stop-color="#8686ff"/><stop offset=".417" stop-color="#8484ff"/><stop offset=".458" stop-color="#8181ff"/><stop offset=".5" stop-color="#7d7dff"/><stop offset=".542" stop-color="#7c7cff"/><stop offset=".583" stop-color="#7575ff"/><stop offset=".625" stop-color="#7878ff"/><stop offset=".667" stop-color="#7272ff"/><stop offset=".708" stop-color="#6f6fff"/><stop offset=".75" stop-color="#6e6eff"/><stop offset=".792" stop-color="#6f6fff"/><stop offset=".833" stop-color="#6464ff"/><stop offset=".875" stop-color="#6161ff"/><stop offset=".917" stop-color="#6363ff"/><stop offset=".958" stop-color="#5e5eff"/><stop offset="1" stop-color="#6363ff"/></linearGradient><linearGradient id="ha38"><stop offset="0" stop-color="#a3a3ff"/><stop offset=".042" stop-color="#a8a8ff"/><stop offset=".083" stop-color="#c1c1ff"/><stop offset=".125" stop-color="#bbbbff"/><stop offset=".167" stop-color="#a5a5ff"/><stop offset=".208" stop-color="#9d9dff"/><stop offset=".25" stop-color="#9696ff"/><stop offset=".292" stop-color="#9191ff"/><stop offset=".333" stop-color="#8d8dff"/><stop offset=".375" stop-color="#8888ff"/><stop offset=".417" stop-color="#8787ff"/><stop offset=".458" stop-color="#8484ff"/><stop offset=".5" stop-color="#8383ff"/><stop offset=".542" stop-color="#7f7fff"/><stop offset=".583" stop-color="#7f7fff"/><stop offset=".625" stop-color="#7474ff"/><stop offset=".667" stop-color="#7575ff"/><stop offset=".708" stop-color="#7777ff"/><stop offset=".75" stop-color="#7070ff"/><stop offset=".792" stop-color="#6c6cff"/><stop offset=".833" stop-color="#6c6cff"/><stop offset=".875" stop-color="#6565ff"/><stop offset=".917" stop-color="#6b6bff"/><stop offset=".958" stop-color="#7777ff"/><stop offset="1" stop-color="#7070ff"/></linearGradient><linearGradient id="ha39"><stop offset="0" stop-color="#9e9eff"/><stop offset=".042" stop-color="#aaaaff"/><stop offset=".083" stop-color="#c2c2ff"/><stop offset=".125" stop-color="#bcbcff"/><stop offset=".167" stop-color="#a5a5ff"/><stop offset=".208" stop-color="#9a9aff"/><stop offset=".25" stop-color="#8f8fff"/><stop offset=".292" stop-color="#8a8aff"/><stop offset=".333" stop-color="#8686ff"/><stop offset=".375" stop-color="#8383ff"/><stop offset=".417" stop-color="#7f7fff"/><stop offset=".458" stop-color="#8080ff"/><stop offset=".5" stop-color="#7b7bff"/><stop offset=".542" stop-color="#7a7aff"/><stop offset=".583" stop-color="#7a7aff"/><stop offset=".625" stop-color="#7676ff"/><stop offset=".667" stop-color="#6d6dff"/><stop offset=".708" stop-color="#7171ff"/><stop offset=".75" stop-color="#7171ff"/><stop offset=".792" stop-color="#6767ff"/><stop offset=".833" stop-color="#6464ff"/><stop offset=".875" stop-color="#6666ff"/><stop offset=".917" stop-color="#5d5dff"/><stop offset=".958" stop-color="#6c6cff"/><stop offset="1" stop-color="#5959ff"/></linearGradient><linearGradient id="ha40"><stop offset="0" stop-color="#9f9fff"/><stop offset=".042" stop-color="#acacff"/><stop offset=".083" stop-color="#c9c9ff"/><stop offset=".125" stop-color="#c3c3ff"/><stop offset=".167" stop-color="#a8a8ff"/><stop offset=".208" stop-color="#9797ff"/><stop offset=".25" stop-color="#9090ff"/><stop offset=".292" stop-color="#8a8aff"/><stop offset=".333" stop-color="#8787ff"/><stop offset=".375" stop-color="#8383ff"/><stop offset=".417" stop-color="#7f7fff"/><stop offset=".458" stop-color="#7d7dff"/><stop offset=".5" stop-color="#7c7cff"/><stop offset=".542" stop-color="#7979ff"/><stop offset=".583" stop-color="#7474ff"/><stop offset=".625" stop-color="#7777ff"/><stop offset=".667" stop-color="#7676ff"/><stop offset=".708" stop-color="#6868ff"/><stop offset=".75" stop-color="#6c6cff"/><stop offset=".792" stop-color="#7474ff"/><stop offset=".833" stop-color="#6b6bff"/><stop offset=".875" stop-color="#6666ff"/><stop offset=".917" stop-color="#6363ff"/><stop offset=".958" stop-color="#6161ff"/><stop offset="1" stop-color="#6363ff"/></linearGradient><linearGradient id="ha41"><stop offset="0" stop-color="#a1a1ff"/><stop offset=".042" stop-color="#afafff"/><stop offset=".083" stop-color="#ceceff"/><stop offset=".125" stop-color="#cacaff"/><stop offset=".167" stop-color="#a9a9ff"/><stop offset=".208" stop-color="#9b9bff"/><stop offset=".25" stop-color="#9494ff"/><stop offset=".292" stop-color="#8c8cff"/><stop offset=".333" stop-color="#8888ff"/><stop offset=".375" stop-color="#8484ff"/><stop offset=".417" stop-color="#8080ff"/><stop offset=".458" stop-color="#7d7dff"/><stop offset=".5" stop-color="#7a7aff"/><stop offset=".542" stop-color="#7979ff"/><stop offset=".583" stop-color="#7373ff"/><stop offset=".625" stop-color="#7575ff"/><stop offset=".667" stop-color="#6f6fff"/><stop offset=".708" stop-color="#6a6aff"/><stop offset=".75" stop-color="#6868ff"/><stop offset=".792" stop-color="#6565ff"/><stop offset=".833" stop-color="#6767ff"/><stop offset=".875" stop-color="#6161ff"/><stop offset=".917" stop-color="#6969ff"/><stop offset=".958" stop-color="#5f5fff"/><stop offset="1" stop-color="#5858ff"/></linearGradient><linearGradient id="ha42"><stop offset="0" stop-color="#a2a2ff"/><stop offset=".042" stop-color="#b3b3ff"/><stop offset=".083" stop-color="#d5d5ff"/><stop offset=".125" stop-color="#ceceff"/><stop offset=".167" stop-color="#acacff"/><stop offset=".208" stop-color="#9e9eff"/><stop offset=".25" stop-color="#9393ff"/><stop offset=".292" stop-color="#8a8aff"/><stop offset=".333" stop-color="#8787ff"/><stop offset=".375" stop-color="#8585ff"/><stop offset=".417" stop-color="#8181ff"/><stop offset=".458" stop-color="#7c7cff"/><stop offset=".5" stop-color="#7a7aff"/><stop offset=".542" stop-color="#7777ff"/><stop offset=".583" stop-color="#7272ff"/><stop offset=".625" stop-color="#6e6eff"/><stop offset=".667" stop-color="#6d6dff"/><stop offset=".708" stop-color="#6767ff"/><stop offset=".75" stop-color="#6868ff"/><stop offset=".792" stop-color="#6767ff"/><stop offset=".833" stop-color="#7070ff"/><stop offset=".875" stop-color="#5e5eff"/><stop offset=".917" stop-color="#6161ff"/><stop offset=".958" stop-color="#6161ff"/><stop offset="1" stop-color="#6464ff"/></linearGradient><linearGradient id="ha43"><stop offset="0" stop-color="#a5a5ff"/><stop offset=".042" stop-color="#b6b6ff"/><stop offset=".083" stop-color="#dcdcff"/><stop offset=".125" stop-color="#d9d9ff"/><stop offset=".167" stop-color="#b3b3ff"/><stop offset=".208" stop-color="#9f9fff"/><stop offset=".25" stop-color="#9696ff"/><stop offset=".292" stop-color="#8c8cff"/><stop offset=".333" stop-color="#8989ff"/><stop offset=".375" stop-color="#8383ff"/><stop offset=".417" stop-color="#8181ff"/><stop offset=".458" stop-color="#7c7cff"/><stop offset=".5" stop-color="#7979ff"/><stop offset=".542" stop-color="#7a7aff"/><stop offset=".583" stop-color="#7171ff"/><stop offset=".625" stop-color="#7171ff"/><stop offset=".667" stop-color="#6f6fff"/><stop offset=".708" stop-color="#6b6bff"/><stop offset=".75" stop-color="#6767ff"/><stop offset=".792" stop-color="#6868ff"/><stop offset=".833" stop-color="#6666ff"/><stop offset=".875" stop-color="#6464ff"/><stop offset=".917" stop-color="#5959ff"/><stop offset=".958" stop-color="#6262ff"/><stop offset="1" stop-color="#5e5eff"/></linearGradient><linearGradient id="ha44"><stop offset="0" stop-color="#a5a5ff"/><stop offset=".042" stop-color="#bcbcff"/><stop offset=".083" stop-color="#e1e1ff"/><stop offset=".125" stop-color="#ddddff"/><stop offset=".167" stop-color="#b5b5ff"/><stop offset=".208" stop-color="#a0a0ff"/><stop offset=".25" stop-color="#9797ff"/><stop offset=".292" stop-color="#8989ff"/><stop offset=".333" stop-color="#8585ff"/><stop offset=".375" stop-color="#8282ff"/><stop offset=".417" stop-color="#7c7cff"/><stop offset=".458" stop-color="#7b7bff"/><stop offset=".5" stop-color="#7777ff"/><stop offset=".542" stop-color="#7474ff"/><stop offset=".583" stop-color="#6e6eff"/><stop offset=".625" stop-color="#6c6cff"/><stop offset=".667" stop-color="#6b6bff"/><stop offset=".708" stop-color="#6b6bff"/><stop offset=".75" stop-color="#6a6aff"/><stop offset=".792" stop-color="#6464ff"/><stop offset=".833" stop-color="#6161ff"/><stop offset=".875" stop-color="#5c5cff"/><stop offset=".917" stop-color="#6161ff"/><stop offset=".958" stop-color="#5e5eff"/><stop offset="1" stop-color="#6262ff"/></linearGradient><linearGradient id="ha45"><stop offset="0" stop-color="#a9a9ff"/><stop offset=".042" stop-color="#c3c3ff"/><stop offset=".083" stop-color="#eaeaff"/><stop offset=".125" stop-color="#e4e4ff"/><stop offset=".167" stop-color="#bfbfff"/><stop offset=".208" stop-color="#a4a4ff"/><stop offset=".25" stop-color="#9797ff"/><stop offset=".292" stop-color="#8e8eff"/><stop offset=".333" stop-color="#8989ff"/><stop offset=".375" stop-color="#8383ff"/><stop offset=".417" stop-color="#7f7fff"/><stop offset=".458" stop-color="#7d7dff"/><stop offset=".5" stop-color="#7a7aff"/><stop offset=".542" stop-color="#7878ff"/><stop offset=".583" stop-color="#7676ff"/><stop offset=".625" stop-color="#7373ff"/><stop offset=".667" stop-color="#7070ff"/><stop offset=".708" stop-color="#6f6fff"/><stop offset=".75" stop-color="#6b6bff"/><stop offset=".792" stop-color="#6060ff"/><stop offset=".833" stop-color="#6464ff"/><stop offset=".875" stop-color="#6464ff"/><stop offset=".917" stop-color="#5f5fff"/><stop offset=".958" stop-color="#6666ff"/><stop offset="1" stop-color="#5f5fff"/></linearGradient><linearGradient id="ha46"><stop offset="0" stop-color="#ababff"/><stop offset=".042" stop-color="#c7c7ff"/><stop offset=".083" stop-color="#efefff"/><stop offset=".125" stop-color="#eaeaff"/><stop offset=".167" stop-color="#c0c0ff"/><stop offset=".208" stop-color="#a0a0ff"/><stop offset=".25" stop-color="#9595ff"/><stop offset=".292" stop-color="#8989ff"/><stop offset=".333" stop-color="#8282ff"/><stop offset=".375" stop-color="#7f7fff"/><stop offset=".417" stop-color="#7d7dff"/><stop offset=".458" stop-color="#7777ff"/><stop offset=".5" stop-color="#7373ff"/><stop offset=".542" stop-color="#7474ff"/><stop offset=".583" stop-color="#6d6dff"/><stop offset=".625" stop-color="#6868ff"/><stop offset=".667" stop-color="#6868ff"/><stop offset=".708" stop-color="#6666ff"/><stop offset=".75" stop-color="#6060ff"/><stop offset=".792" stop-color="#6464ff"/><stop offset=".833" stop-color="#5d5dff"/><stop offset=".875" stop-color="#5858ff"/><stop offset=".917" stop-color="#5d5dff"/><stop offset=".958" stop-color="#6060ff"/><stop offset="1" stop-color="#5959ff"/></linearGradient><linearGradient id="ha47"><stop offset="0" stop-color="#b3b3ff"/><stop offset=".042" stop-color="#cdcdff"/><stop offset=".083" stop-color="#f7f7ff"/><stop offset=".125" stop-color="#efefff"/><stop offset=".167" stop-color="#c7c7ff"/><stop offset=".208" stop-color="#a9a9ff"/><stop offset=".25" stop-color="#9b9bff"/><stop offset=".292" stop-color="#8f8fff"/><stop offset=".333" stop-color="#8484ff"/><stop offset=".375" stop-color="#7f7fff"/><stop offset=".417" stop-color="#7b7bff"/><stop offset=".458" stop-color="#7979ff"/><stop offset=".5" stop-color="#7676ff"/><stop offset=".542" stop-color="#7474ff"/><stop offset=".583" stop-color="#7070ff"/><stop offset=".625" stop-color="#6e6eff"/><stop offset=".667" stop-color="#6d6dff"/><stop offset=".708" stop-color="#6666ff"/><stop offset=".75" stop-color="#5e5eff"/><stop offset=".792" stop-color="#5c5cff"/><stop offset=".833" stop-color="#5959ff"/><stop offset=".875" stop-color="#6666ff"/><stop offset=".917" stop-color="#5858ff"/><stop offset=".958" stop-color="#6363ff"/><stop offset="1" stop-color="#5f5fff"/></linearGradient><linearGradient id="ha48"><stop offset="0" stop-color="#b5b5ff"/><stop offset=".042" stop-color="#d5d5ff"/><stop offset=".083" stop-color="#fcfcff"/><stop offset=".125" stop-color="#f6f6ff"/><stop offset=".167" stop-color="#ceceff"/><stop offset=".208" stop-color="#aeaeff"/><stop offset=".25" stop-color="#9f9fff"/><stop offset=".292" stop-color="#8f8fff"/><stop offset=".333" stop-color="#8686ff"/><stop offset=".375" stop-color="#8080ff"/><stop offset=".417" stop-color="#7e7eff"/><stop offset=".458" stop-color="#7b7bff"/><stop offset=".5" stop-color="#7777ff"/><stop offset=".542" stop-color="#7575ff"/><stop offset=".583" stop-color="#6d6dff"/><stop offset=".625" stop-color="#7070ff"/><stop offset=".667" stop-color="#6868ff"/><stop offset=".708" stop-color="#6969ff"/><stop offset=".75" stop-color="#6666ff"/><stop offset=".792" stop-color="#5858ff"/><stop offset=".833" stop-color="#5d5dff"/><stop offset=".875" stop-color="#6060ff"/><stop offset=".917" stop-color="#6666ff"/><stop offset=".958" stop-color="#5f5fff"/><stop offset="1" stop-color="#5f5fff"/></linearGradient><linearGradient id="ha49"><stop offset="0" stop-color="#b6b6ff"/><stop offset=".042" stop-color="#d5d5ff"/><stop offset=".083" stop-color="#fafaff"/><stop offset=".125" stop-color="#f3f3ff"/><stop offset=".167" stop-color="#cfcfff"/><stop offset=".208" stop-color="#b0b0ff"/><stop offset=".25" stop-color="#9b9bff"/><stop offset=".292" stop-color="#9090ff"/><stop offset=".333" stop-color="#8282ff"/><stop offset=".375" stop-color="#7a7aff"/><stop offset=".417" stop-color="#7a7aff"/><stop offset=".458" stop-color="#7373ff"/><stop offset=".5" stop-color="#7171ff"/><stop offset=".542" stop-color="#6f6fff"/><stop offset=".583" stop-color="#6d6dff"/><stop offset=".625" stop-color="#6969ff"/><stop offset=".667" stop-color="#6666ff"/><stop offset=".708" stop-color="#5f5fff"/><stop offset=".75" stop-color="#5b5bff"/><stop offset=".792" stop-color="#5e5eff"/><stop offset=".833" stop-color="#5858ff"/><stop offset=".875" stop-color="#5353ff"/><stop offset=".917" stop-color="#5252ff"/><stop offset=".958" stop-color="#5656ff"/><stop offset="1" stop-color="#4f4fff"/></linearGradient><linearGradient id="ha50"><stop offset="0" stop-color="#bbbbff"/><stop offset=".042" stop-color="#dbdbff"/><stop offset=".083" stop-color="#ffffff"/><stop offset=".125" stop-color="#f6f6ff"/><stop offset=".167" stop-color="#d2d2ff"/><stop offset=".208" stop-color="#b1b1ff"/><stop offset=".25" stop-color="#9c9cff"/><stop offset=".292" stop-color="#8f8fff"/><stop offset=".333" stop-color="#8686ff"/><stop offset=".375" stop-color="#7b7bff"/><stop offset=".417" stop-color="#7676ff"/><stop offset=".458" stop-color="#7373ff"/><stop offset=".5" stop-color="#7272ff"/><stop offset=".542" stop-color="#6e6eff"/><stop offset=".583" stop-color="#6868ff"/><stop offset=".625" stop-color="#6565ff"/><stop offset=".667" stop-color="#6666ff"/><stop offset=".708" stop-color="#6363ff"/><stop offset=".75" stop-color="#5d5dff"/><stop offset=".792" stop-color="#6060ff"/><stop offset=".833" stop-color="#5e5eff"/><stop offset=".875" stop-color="#5050ff"/><stop offset=".917" stop-color="#5757ff"/><stop offset=".958" stop-color="#5a5aff"/><stop offset="1" stop-color="#5555ff"/></linearGradient><linearGradient id="ha51"><stop offset="0" stop-color="#c0c0ff"/><stop offset=".042" stop-color="#e1e1ff"/><stop offset=".083" stop-color="#fff2f2"/><stop offset=".125" stop-color="#f7f7ff"/><stop offset=".167" stop-color="#dadaff"/><stop offset=".208" stop-color="#b4b4ff"/><stop offset=".25" stop-color="#a0a0ff"/><stop offset=".292" stop-color="#9292ff"/><stop offset=".333" stop-color="#8686ff"/><stop offset=".375" stop-color="#7a7aff"/><stop offset=".417" stop-color="#7575ff"/><stop offset=".458" stop-color="#7474ff"/><stop offset=".5" stop-color="#6f6fff"/><stop offset=".542" stop-color="#6868ff"/><stop offset=".583" stop-color="#6e6eff"/><stop offset=".625" stop-color="#6767ff"/><stop offset=".667" stop-color="#6868ff"/><stop offset=".708" stop-color="#5d5dff"/><stop offset=".75" stop-color="#6464ff"/><stop offset=".792" stop-color="#6363ff"/><stop offset=".833" stop-color="#6161ff"/><stop offset=".875" stop-color="#5858ff"/><stop offset=".917" stop-color="#5050ff"/><stop offset=".958" stop-color="#5656ff"/><stop offset="1" stop-color="#4b4bff"/></linearGradient><linearGradient id="ha52"><stop offset="0" stop-color="#c4c4ff"/><stop offset=".042" stop-color="#e4e4ff"/><stop offset=".083" stop-color="#ffe8e8"/><stop offset=".125" stop-color="#fcfcff"/><stop offset=".167" stop-color="#dedeff"/><stop offset=".208" stop-color="#bdbdff"/><stop offset=".25" stop-color="#a3a3ff"/><stop offset=".292" stop-color="#9494ff"/><stop offset=".333" stop-color="#8686ff"/><stop offset=".375" stop-color="#7a7aff"/><stop offset=".417" stop-color="#7878ff"/><stop offset=".458" stop-color="#7171ff"/><stop offset=".5" stop-color="#6f6fff"/><stop offset=".542" stop-color="#6a6aff"/><stop offset=".583" stop-color="#6969ff"/><stop offset=".625" stop-color="#6a6aff"/><stop offset=".667" stop-color="#6060ff"/><stop offset=".708" stop-color="#6161ff"/><stop offset=".75" stop-color="#5a5aff"/><stop offset=".792" stop-color="#5757ff"/><stop offset=".833" stop-color="#5454ff"/><stop offset=".875" stop-color="#5f5fff"/><stop offset=".917" stop-color="#6363ff"/><stop offset=".958" stop-color="#5959ff"/><stop offset="1" stop-color="#5353ff"/></linearGradient><linearGradient id="ha53"><stop offset="0" stop-color="#cdcdff"/><stop offset=".042" stop-color="#ececff"/><stop offset=".083" stop-color="#ffe2e2"/><stop offset=".125" stop-color="#fff7f7"/><stop offset=".167" stop-color="#e3e3ff"/><stop offset=".208" stop-color="#c2c2ff"/><stop offset=".25" stop-color="#a7a7ff"/><stop offset=".292" stop-color="#9696ff"/><stop offset=".333" stop-color="#8888ff"/><stop offset=".375" stop-color="#7e7eff"/><stop offset=".417" stop-color="#7878ff"/><stop offset=".458" stop-color="#7676ff"/><stop offset=".5" stop-color="#7272ff"/><stop offset=".542" stop-color="#7070ff"/><stop offset=".583" stop-color="#6d6dff"/><stop offset=".625" stop-color="#6666ff"/><stop offset=".667" stop-color="#6363ff"/><stop offset=".708" stop-color="#6060ff"/><stop offset=".75" stop-color="#6464ff"/><stop offset=".792" stop-color="#6767ff"/><stop offset=".833" stop-color="#6161ff"/><stop offset=".875" stop-color="#5959ff"/><stop offset=".917" stop-color="#6161ff"/><stop offset=".958" stop-color="#5252ff"/><stop offset="1" stop-color="#6161ff"/></linearGradient><linearGradient id="ha54"><stop offset="0" stop-color="#d0d0ff"/><stop offset=".042" stop-color="#eeeeff"/><stop offset=".083" stop-color="#ffe2e2"/><stop offset=".125" stop-color="#fff1f1"/><stop offset=".167" stop-color="#e2e2ff"/><stop offset=".208" stop-color="#c2c2ff"/><stop offset=".25" stop-color="#a6a6ff"/><stop offset=".292" stop-color="#9494ff"/><stop offset=".333" stop-color="#8787ff"/><stop offset=".375" stop-color="#7c7cff"/><stop offset=".417" stop-color="#7878ff"/><stop offset=".458" stop-color="#7474ff"/><stop offset=".5" stop-color="#7272ff"/><stop offset=".542" stop-color="#6d6dff"/><stop offset=".583" stop-color="#6e6eff"/><stop offset=".625" stop-color="#6565ff"/><stop offset=".667" stop-color="#6464ff"/><stop offset=".708" stop-color="#5a5aff"/><stop offset=".75" stop-color="#5959ff"/><stop offset=".792" stop-color="#6262ff"/><stop offset=".833" stop-color="#5656ff"/><stop offset=".875" stop-color="#5b5bff"/><stop offset=".917" stop-color="#5757ff"/><stop offset=".958" stop-color="#5252ff"/><stop offset="1" stop-color="#5555ff"/></linearGradient><linearGradient id="ha55"><stop offset="0" stop-color="#cfcfff"/><stop offset=".042" stop-color="#efefff"/><stop offset=".083" stop-color="#ffdcdc"/><stop offset=".125" stop-color="#ffebeb"/><stop offset=".167" stop-color="#e5e5ff"/><stop offset=".208" stop-color="#c3c3ff"/><stop offset=".25" stop-color="#a8a8ff"/><stop offset=".292" stop-color="#9494ff"/><stop offset=".333" stop-color="#8a8aff"/><stop offset=".375" stop-color="#8080ff"/><stop offset=".417" stop-color="#7878ff"/><stop offset=".458" stop-color="#7373ff"/><stop offset=".5" stop-color="#7070ff"/><stop offset=".542" stop-color="#6b6bff"/><stop offset=".583" stop-color="#6868ff"/><stop offset=".625" stop-color="#6464ff"/><stop offset=".667" stop-color="#6262ff"/><stop offset=".708" stop-color="#5f5fff"/><stop offset=".75" stop-color="#6161ff"/><stop offset=".792" stop-color="#5a5aff"/><stop offset=".833" stop-color="#5959ff"/><stop offset=".875" stop-color="#5252ff"/><stop offset=".917" stop-color="#5f5fff"/><stop offset=".958" stop-color="#5a5aff"/><stop offset="1" stop-color="#6060ff"/></linearGradient><linearGradient id="ha56"><stop offset="0" stop-color="#d2d2ff"/><stop offset=".042" stop-color="#f4f4ff"/><stop offset=".083" stop-color="#ffd6d6"/><stop offset=".125" stop-color="#ffe5e5"/><stop offset=".167" stop-color="#ededff"/><stop offset=".208" stop-color="#c6c6ff"/><stop offset=".25" stop-color="#acacff"/><stop offset=".292" stop-color="#9999ff"/><stop offset=".333" stop-color="#8b8bff"/><stop offset=".375" stop-color="#8080ff"/><stop offset=".417" stop-color="#7a7aff"/><stop offset=".458" stop-color="#7474ff"/><stop offset=".5" stop-color="#7272ff"/><stop offset=".542" stop-color="#6d6dff"/><stop offset=".583" stop-color="#6a6aff"/><stop offset=".625" stop-color="#6666ff"/><stop offset=".667" stop-color="#6464ff"/><stop offset=".708" stop-color="#6262ff"/><stop offset=".75" stop-color="#6161ff"/><stop offset=".792" stop-color="#5757ff"/><stop offset=".833" stop-color="#6565ff"/><stop offset=".875" stop-color="#6060ff"/><stop offset=".917" stop-color="#5c5cff"/><stop offset=".958" stop-color="#5757ff"/><stop offset="1" stop-color="#5858ff"/></linearGradient><linearGradient id="ha57"><stop offset="0" stop-color="#d1d1ff"/><stop offset=".042" stop-color="#f6f6ff"/><stop offset=".083" stop-color="#ffd5d5"/><stop offset=".125" stop-color="#ffe2e2"/><stop offset=".167" stop-color="#efefff"/><stop offset=".208" stop-color="#c7c7ff"/><stop offset=".25" stop-color="#acacff"/><stop offset=".292" stop-color="#9797ff"/><stop offset=".333" stop-color="#8a8aff"/><stop offset=".375" stop-color="#8080ff"/><stop offset=".417" stop-color="#7676ff"/><stop offset=".458" stop-color="#7474ff"/><stop offset=".5" stop-color="#7373ff"/><stop offset=".542" stop-color="#6d6dff"/><stop offset=".583" stop-color="#6969ff"/><stop offset=".625" stop-color="#6767ff"/><stop offset=".667" stop-color="#6262ff"/><stop offset=".708" stop-color="#6666ff"/><stop offset=".75" stop-color="#5b5bff"/><stop offset=".792" stop-color="#6161ff"/><stop offset=".833" stop-color="#5555ff"/><stop offset=".875" stop-color="#5c5cff"/><stop offset=".917" stop-color="#5757ff"/><stop offset=".958" stop-color="#4a4aff"/><stop offset="1" stop-color="#5858ff"/></linearGradient><linearGradient id="ha58"><stop offset="0" stop-color="#d5d5ff"/><stop offset=".042" stop-color="#f3f3ff"/><stop offset=".083" stop-color="#ffd5d5"/><stop offset=".125" stop-color="#ffe0e0"/><stop offset=".167" stop-color="#eaeaff"/><stop offset=".208" stop-color="#cacaff"/><stop offset=".25" stop-color="#a9a9ff"/><stop offset=".292" stop-color="#9696ff"/><stop offset=".333" stop-color="#8888ff"/><stop offset=".375" stop-color="#7b7bff"/><stop offset=".417" stop-color="#7474ff"/><stop offset=".458" stop-color="#7373ff"/><stop offset=".5" stop-color="#6f6fff"/><stop offset=".542" stop-color="#6a6aff"/><stop offset=".583" stop-color="#6767ff"/><stop offset=".625" stop-color="#6363ff"/><stop offset=".667" stop-color="#5f5fff"/><stop offset=".708" stop-color="#6565ff"/><stop offset=".75" stop-color="#5c5cff"/><stop offset=".792" stop-color="#5555ff"/><stop offset=".833" stop-color="#5555ff"/><stop offset=".875" stop-color="#5a5aff"/><stop offset=".917" stop-color="#5858ff"/><stop offset=".958" stop-color="#5454ff"/><stop offset="1" stop-color="#5151ff"/></linearGradient><linearGradient id="ha59"><stop offset="0" stop-color="#d4d4ff"/><stop offset=".042" stop-color="#fafaff"/><stop offset=".083" stop-color="#ffd5d5"/><stop offset=".125" stop-color="#ffdfdf"/><stop offset=".167" stop-color="#efefff"/><stop offset=".208" stop-color="#cdcdff"/><stop offset=".25" stop-color="#adadff"/><stop offset=".292" stop-color="#9797ff"/><stop offset=".333" stop-color="#8a8aff"/><stop offset=".375" stop-color="#8181ff"/><stop offset=".417" stop-color="#7676ff"/><stop offset=".458" stop-color="#7272ff"/><stop offset=".5" stop-color="#7070ff"/><stop offset=".542" stop-color="#6c6cff"/><stop offset=".583" stop-color="#6666ff"/><stop offset=".625" stop-color="#6565ff"/><stop offset=".667" stop-color="#6161ff"/><stop offset=".708" stop-color="#5858ff"/><stop offset=".75" stop-color="#5c5cff"/><stop offset=".792" stop-color="#5a5aff"/><stop offset=".833" stop-color="#5757ff"/><stop offset=".875" stop-color="#4e4eff"/><stop offset=".917" stop-color="#5454ff"/><stop offset=".958" stop-color="#5656ff"/><stop offset="1" stop-color="#5656ff"/></linearGradient><linearGradient id="ha60"><stop offset="0" stop-color="#d5d5ff"/><stop offset=".042" stop-color="#f8f8ff"/><stop offset=".083" stop-color="#ffcfcf"/><stop offset=".125" stop-color="#ffd8d8"/><stop offset=".167" stop-color="#f2f2ff"/><stop offset=".208" stop-color="#cbcbff"/><stop offset=".25" stop-color="#aaaaff"/><stop offset=".292" stop-color="#9797ff"/><stop offset=".333" stop-color="#8888ff"/><stop offset=".375" stop-color="#7c7cff"/><stop offset=".417" stop-color="#7373ff"/><stop offset=".458" stop-color="#7171ff"/><stop offset=".5" stop-color="#6969ff"/><stop offset=".542" stop-color="#6868ff"/><stop offset=".583" stop-color="#6464ff"/><stop offset=".625" stop-color="#6060ff"/><stop offset=".667" stop-color="#5d5dff"/><stop offset=".708" stop-color="#5a5aff"/><stop offset=".75" stop-color="#5c5cff"/><stop offset=".792" stop-color="#5555ff"/><stop offset=".833" stop-color="#5757ff"/><stop offset=".875" stop-color="#5757ff"/><stop offset=".917" stop-color="#5050ff"/><stop offset=".958" stop-color="#5454ff"/><stop offset="1" stop-color="#5c5cff"/></linearGradient><linearGradient id="ha61"><stop offset="0" stop-color="#dadaff"/><stop offset=".042" stop-color="#fbfbff"/><stop offset=".083" stop-color="#ffd0d0"/><stop offset=".125" stop-color="#ffd8d8"/><stop offset=".167" stop-color="#f5f5ff"/><stop offset=".208" stop-color="#d2d2ff"/><stop offset=".25" stop-color="#adadff"/><stop offset=".292" stop-color="#9898ff"/><stop offset=".333" stop-color="#8c8cff"/><stop offset=".375" stop-color="#7e7eff"/><stop offset=".417" stop-color="#7575ff"/><stop offset=".458" stop-color="#7070ff"/><stop offset=".5" stop-color="#6d6dff"/><stop offset=".542" stop-color="#6a6aff"/><stop offset=".583" stop-color="#6c6cff"/><stop offset=".625" stop-color="#6363ff"/><stop offset=".667" stop-color="#5f5fff"/><stop offset=".708" stop-color="#5c5cff"/><stop offset=".75" stop-color="#5c5cff"/><stop offset=".792" stop-color="#5d5dff"/><stop offset=".833" stop-color="#5959ff"/><stop offset=".875" stop-color="#6161ff"/><stop offset=".917" stop-color="#5656ff"/><stop offset=".958" stop-color="#5d5dff"/><stop offset="1" stop-color="#5757ff"/></linearGradient><linearGradient id="ha62"><stop offset="0" stop-color="#ddddff"/><stop offset=".042" stop-color="#fefeff"/><stop offset=".083" stop-color="#ffd0d0"/><stop offset=".125" stop-color="#ffd7d7"/><stop offset=".167" stop-color="#f7f7ff"/><stop offset=".208" stop-color="#d0d0ff"/><stop offset=".25" stop-color="#b2b2ff"/><stop offset=".292" stop-color="#9999ff"/><stop offset=".333" stop-color="#8a8aff"/><stop offset=".375" stop-color="#7e7eff"/><stop offset=".417" stop-color="#7474ff"/><stop offset=".458" stop-color="#7272ff"/><stop offset=".5" stop-color="#6c6cff"/><stop offset=".542" stop-color="#6969ff"/><stop offset=".583" stop-color="#6868ff"/><stop offset=".625" stop-color="#6565ff"/><stop offset=".667" stop-color="#6060ff"/><stop offset=".708" stop-color="#5c5cff"/><stop offset=".75" stop-color="#5959ff"/><stop offset=".792" stop-color="#5a5aff"/><stop offset=".833" stop-color="#5e5eff"/><stop offset=".875" stop-color="#5151ff"/><stop offset=".917" stop-color="#5d5dff"/><stop offset=".958" stop-color="#5959ff"/><stop offset="1" stop-color="#5353ff"/></linearGradient><linearGradient id="ha63"><stop offset="0" stop-color="#dedeff"/><stop offset=".042" stop-color="#fffefe"/><stop offset=".083" stop-color="#ffcece"/><stop offset=".125" stop-color="#ffd6d6"/><stop offset=".167" stop-color="#f8f8ff"/><stop offset=".208" stop-color="#d4d4ff"/><stop offset=".25" stop-color="#b2b2ff"/><stop offset=".292" stop-color="#9a9aff"/><stop offset=".333" stop-color="#8b8bff"/><stop offset=".375" stop-color="#7c7cff"/><stop offset=".417" stop-color="#7575ff"/><stop offset=".458" stop-color="#6f6fff"/><stop offset=".5" stop-color="#6d6dff"/><stop offset=".542" stop-color="#6a6aff"/><stop offset=".583" stop-color="#6565ff"/><stop offset=".625" stop-color="#6161ff"/><stop offset=".667" stop-color="#5e5eff"/><stop offset=".708" stop-color="#5e5eff"/><stop offset=".75" stop-color="#5e5eff"/><stop offset=".792" stop-color="#5c5cff"/><stop offset=".833" stop-color="#5353ff"/><stop offset=".875" stop-color="#5252ff"/><stop offset=".917" stop-color="#5050ff"/><stop offset=".958" stop-color="#5757ff"/><stop offset="1" stop-color="#4a4aff"/></linearGradient><linearGradient id="ha64"><stop offset="0" stop-color="#e3e3ff"/><stop offset=".042" stop-color="#fff7f7"/><stop offset=".083" stop-color="#ffc8c8"/><stop offset=".125" stop-color="#ffd3d3"/><stop offset=".167" stop-color="#fafaff"/><stop offset=".208" stop-color="#d6d6ff"/><stop offset=".25" stop-color="#b3b3ff"/><stop offset=".292" stop-color="#9c9cff"/><stop offset=".333" stop-color="#8b8bff"/><stop offset=".375" stop-color="#8181ff"/><stop offset=".417" stop-color="#7676ff"/><stop offset=".458" stop-color="#7171ff"/><stop offset=".5" stop-color="#7070ff"/><stop offset=".542" stop-color="#6b6bff"/><stop offset=".583" stop-color="#6767ff"/><stop offset=".625" stop-color="#6262ff"/><stop offset=".667" stop-color="#6060ff"/><stop offset=".708" stop-color="#6161ff"/><stop offset=".75" stop-color="#5757ff"/><stop offset=".792" stop-color="#5d5dff"/><stop offset=".833" stop-color="#5959ff"/><stop offset=".875" stop-color="#5757ff"/><stop offset=".917" stop-color="#4949ff"/><stop offset=".958" stop-color="#5454ff"/><stop offset="1" stop-color="#5858ff"/></linearGradient><linearGradient id="ha65"><stop offset="0" stop-color="#e1e1ff"/><stop offset=".042" stop-color="#fff0f0"/><stop offset=".083" stop-color="#ffc4c4"/><stop offset=".125" stop-color="#ffd0d0"/><stop offset=".167" stop-color="#f7f7ff"/><stop offset=".208" stop-color="#d0d0ff"/><stop offset=".25" stop-color="#b0b0ff"/><stop offset=".292" stop-color="#9595ff"/><stop offset=".333" stop-color="#8989ff"/><stop offset=".375" stop-color="#7b7bff"/><stop offset=".417" stop-color="#7272ff"/><stop offset=".458" stop-color="#6c6cff"/><stop offset=".5" stop-color="#6969ff"/><stop offset=".542" stop-color="#6a6aff"/><stop offset=".583" stop-color="#6262ff"/><stop offset=".625" stop-color="#5e5eff"/><stop offset=".667" stop-color="#5c5cff"/><stop offset=".708" stop-color="#5757ff"/><stop offset=".75" stop-color="#5d5dff"/><stop offset=".792" stop-color="#5e5eff"/><stop offset=".833" stop-color="#5050ff"/><stop offset=".875" stop-color="#4949ff"/><stop offset=".917" stop-color="#5656ff"/><stop offset=".958" stop-color="#5656ff"/><stop offset="1" stop-color="#5555ff"/></linearGradient><linearGradient id="ha66"><stop offset="0" stop-color="#ebebff"/><stop offset=".042" stop-color="#ffeaea"/><stop offset=".083" stop-color="#ffc3c3"/><stop offset=".125" stop-color="#ffd1d1"/><stop offset=".167" stop-color="#f7f7ff"/><stop offset=".208" stop-color="#d2d2ff"/><stop offset=".25" stop-color="#b3b3ff"/><stop offset=".292" stop-color="#9999ff"/><stop offset=".333" stop-color="#8d8dff"/><stop offset=".375" stop-color="#7e7eff"/><stop offset=".417" stop-color="#7373ff"/><stop offset=".458" stop-color="#7171ff"/><stop offset=".5" stop-color="#6f6fff"/><stop offset=".542" stop-color="#6a6aff"/><stop offset=".583" stop-color="#6363ff"/><stop offset=".625" stop-color="#6363ff"/><stop offset=".667" stop-color="#6363ff"/><stop offset=".708" stop-color="#5b5bff"/><stop offset=".75" stop-color="#5757ff"/><stop offset=".792" stop-color="#5d5dff"/><stop offset=".833" stop-color="#5757ff"/><stop offset=".875" stop-color="#4e4eff"/><stop offset=".917" stop-color="#5151ff"/><stop offset=".958" stop-color="#4f4fff"/><stop offset="1" stop-color="#5454ff"/></linearGradient><linearGradient id="ha67"><stop offset="0" stop-color="#eeeeff"/><stop offset=".042" stop-color="#ffe1e1"/><stop offset=".083" stop-color="#ffbbbb"/><stop offset=".125" stop-color="#ffcccc"/><stop offset=".167" stop-color="#f5f5ff"/><stop offset=".208" stop-color="#d2d2ff"/><stop offset=".25" stop-color="#b1b1ff"/><stop offset=".292" stop-color="#9898ff"/><stop offset=".333" stop-color="#8989ff"/><stop offset=".375" stop-color="#7b7bff"/><stop offset=".417" stop-color="#7070ff"/><stop offset=".458" stop-color="#6f6fff"/><stop offset=".5" stop-color="#6969ff"/><stop offset=".542" stop-color="#6363ff"/><stop offset=".583" stop-color="#6565ff"/><stop offset=".625" stop-color="#5e5eff"/><stop offset=".667" stop-color="#5c5cff"/><stop offset=".708" stop-color="#5555ff"/><stop offset=".75" stop-color="#5353ff"/><stop offset=".792" stop-color="#5151ff"/><stop offset=".833" stop-color="#5252ff"/><stop offset=".875" stop-color="#5353ff"/><stop offset=".917" stop-color="#4444ff"/><stop offset=".958" stop-color="#5454ff"/><stop offset="1" stop-color="#4a4aff"/></linearGradient><linearGradient id="ha68"><stop offset="0" stop-color="#ececff"/><stop offset=".042" stop-color="#ffdfdf"/><stop offset=".083" stop-color="#ffb9b9"/><stop offset=".125" stop-color="#ffcbcb"/><stop offset=".167" stop-color="#f3f3ff"/><stop offset=".208" stop-color="#d2d2ff"/><stop offset=".25" stop-color="#acacff"/><stop offset=".292" stop-color="#9696ff"/><stop offset=".333" stop-color="#8686ff"/><stop offset=".375" stop-color="#7b7bff"/><stop offset=".417" stop-color="#6e6eff"/><stop offset=".458" stop-color="#6d6dff"/><stop offset=".5" stop-color="#6767ff"/><stop offset=".542" stop-color="#6666ff"/><stop offset=".583" stop-color="#5f5fff"/><stop offset=".625" stop-color="#5d5dff"/><stop offset=".667" stop-color="#6060ff"/><stop offset=".708" stop-color="#5959ff"/><stop offset=".75" stop-color="#5656ff"/><stop offset=".792" stop-color="#5d5dff"/><stop offset=".833" stop-color="#5353ff"/><stop offset=".875" stop-color="#4b4bff"/><stop offset=".917" stop-color="#5151ff"/><stop offset=".958" stop-color="#4747ff"/><stop offset="1" stop-color="#5353ff"/></linearGradient><linearGradient id="ha69"><stop offset="0" stop-color="#f0f0ff"/><stop offset=".042" stop-color="#ffdfdf"/><stop offset=".083" stop-color="#ffbaba"/><stop offset=".125" stop-color="#ffcccc"/><stop offset=".167" stop-color="#f9f9ff"/><stop offset=".208" stop-color="#d3d3ff"/><stop offset=".25" stop-color="#b0b0ff"/><stop offset=".292" stop-color="#9999ff"/><stop offset=".333" stop-color="#8686ff"/><stop offset=".375" stop-color="#7c7cff"/><stop offset=".417" stop-color="#7171ff"/><stop offset=".458" stop-color="#6e6eff"/><stop offset=".5" stop-color="#6b6bff"/><stop offset=".542" stop-color="#6565ff"/><stop offset=".583" stop-color="#6565ff"/><stop offset=".625" stop-color="#6060ff"/><stop offset=".667" stop-color="#5b5bff"/><stop offset=".708" stop-color="#5656ff"/><stop offset=".75" stop-color="#5353ff"/><stop offset=".792" stop-color="#5757ff"/><stop offset=".833" stop-color="#4f4fff"/><stop offset=".875" stop-color="#5252ff"/><stop offset=".917" stop-color="#5555ff"/><stop offset=".958" stop-color="#5555ff"/><stop offset="1" stop-color="#5858ff"/></linearGradient><linearGradient id="ha70"><stop offset="0" stop-color="#f0f0ff"/><stop offset=".042" stop-color="#ffdddd"/><stop offset=".083" stop-color="#ffb9b9"/><stop offset=".125" stop-color="#ffcbcb"/><stop offset=".167" stop-color="#f7f7ff"/><stop offset=".208" stop-color="#d2d2ff"/><stop offset=".25" stop-color="#aeaeff"/><stop offset=".292" stop-color="#9898ff"/><stop offset=".333" stop-color="#8787ff"/><stop offset=".375" stop-color="#7a7aff"/><stop offset=".417" stop-color="#7070ff"/><stop offset=".458" stop-color="#6c6cff"/><stop offset=".5" stop-color="#6868ff"/><stop offset=".542" stop-color="#6464ff"/><stop offset=".583" stop-color="#6363ff"/><stop offset=".625" stop-color="#5c5cff"/><stop offset=".667" stop-color="#5f5fff"/><stop offset=".708" stop-color="#5757ff"/><stop offset=".75" stop-color="#5959ff"/><stop offset=".792" stop-color="#5252ff"/><stop offset=".833" stop-color="#4f4fff"/><stop offset=".875" stop-color="#5959ff"/><stop offset=".917" stop-color="#4b4bff"/><stop offset=".958" stop-color="#4646ff"/><stop offset="1" stop-color="#4949ff"/></linearGradient><linearGradient id="ha71"><stop offset="0" stop-color="#f0f0ff"/><stop offset=".042" stop-color="#ffd5d5"/><stop offset=".083" stop-color="#ffacac"/><stop offset=".125" stop-color="#ffc1c1"/><stop offset=".167" stop-color="#f8f8ff"/><stop offset=".208" stop-color="#cfcfff"/><stop offset=".25" stop-color="#aeaeff"/><stop offset=".292" stop-color="#9797ff"/><stop offset=".333" stop-color="#8888ff"/><stop offset=".375" stop-color="#7878ff"/><stop offset=".417" stop-color="#6f6fff"/><stop offset=".458" stop-color="#6b6bff"/><stop offset=".5" stop-color="#6666ff"/><stop offset=".542" stop-color="#6363ff"/><stop offset=".583" stop-color="#5f5fff"/><stop offset=".625" stop-color="#5757ff"/><stop offset=".667" stop-color="#5b5bff"/><stop offset=".708" stop-color="#5858ff"/><stop offset=".75" stop-color="#5353ff"/><stop offset=".792" stop-color="#4c4cff"/><stop offset=".833" stop-color="#5757ff"/><stop offset=".875" stop-color="#4f4fff"/><stop offset=".917" stop-color="#5151ff"/><stop offset=".958" stop-color="#5353ff"/><stop offset="1" stop-color="#4949ff"/></linearGradient><linearGradient id="ha72"><stop offset="0" stop-color="#f3f3ff"/><stop offset=".042" stop-color="#ffd6d6"/><stop offset=".083" stop-color="#ffb1b1"/><stop offset=".125" stop-color="#ffc5c5"/><stop offset=".167" stop-color="#f8f8ff"/><stop offset=".208" stop-color="#d2d2ff"/><stop offset=".25" stop-color="#b1b1ff"/><stop offset=".292" stop-color="#9797ff"/><stop offset=".333" stop-color="#8787ff"/><stop offset=".375" stop-color="#7a7aff"/><stop offset=".417" stop-color="#7070ff"/><stop offset=".458" stop-color="#6b6bff"/><stop offset=".5" stop-color="#6767ff"/><stop offset=".542" stop-color="#6464ff"/><stop offset=".583" stop-color="#6060ff"/><stop offset=".625" stop-color="#5d5dff"/><stop offset=".667" stop-color="#5959ff"/><stop offset=".708" stop-color="#5f5fff"/><stop offset=".75" stop-color="#5b5bff"/><stop offset=".792" stop-color="#5555ff"/><stop offset=".833" stop-color="#5050ff"/><stop offset=".875" stop-color="#5959ff"/><stop offset=".917" stop-color="#4f4fff"/><stop offset=".958" stop-color="#4c4cff"/><stop offset="1" stop-color="#4e4eff"/></linearGradient><linearGradient id="ha73"><stop offset="0" stop-color="#f3f3ff"/><stop offset=".042" stop-color="#ffd0d0"/><stop offset=".083" stop-color="#ffa8a8"/><stop offset=".125" stop-color="#ffbfbf"/><stop offset=".167" stop-color="#fafaff"/><stop offset=".208" stop-color="#d0d0ff"/><stop offset=".25" stop-color="#afafff"/><stop offset=".292" stop-color="#9595ff"/><stop offset=".333" stop-color="#8888ff"/><stop offset=".375" stop-color="#7979ff"/><stop offset=".417" stop-color="#6e6eff"/><stop offset=".458" stop-color="#6c6cff"/><stop offset=".5" stop-color="#6868ff"/><stop offset=".542" stop-color="#6161ff"/><stop offset=".583" stop-color="#5f5fff"/><stop offset=".625" stop-color="#5959ff"/><stop offset=".667" stop-color="#5959ff"/><stop offset=".708" stop-color="#5656ff"/><stop offset=".75" stop-color="#5252ff"/><stop offset=".792" stop-color="#4e4eff"/><stop offset=".833" stop-color="#4d4dff"/><stop offset=".875" stop-color="#4949ff"/><stop offset=".917" stop-color="#4e4eff"/><stop offset=".958" stop-color="#5353ff"/><stop offset="1" stop-color="#4141ff"/></linearGradient><linearGradient id="ha74"><stop offset="0" stop-color="#f4f4ff"/><stop offset=".042" stop-color="#ffd1d1"/><stop offset=".083" stop-color="#ffacac"/><stop offset=".125" stop-color="#ffc2c2"/><stop offset=".167" stop-color="#f5f5ff"/><stop offset=".208" stop-color="#d0d0ff"/><stop offset=".25" stop-color="#acacff"/><stop offset=".292" stop-color="#9696ff"/><stop offset=".333" stop-color="#8585ff"/><stop offset=".375" stop-color="#7878ff"/><stop offset=".417" stop-color="#6d6dff"/><stop offset=".458" stop-color="#6969ff"/><stop offset=".5" stop-color="#6363ff"/><stop offset=".542" stop-color="#6262ff"/><stop offset=".583" stop-color="#5f5fff"/><stop offset=".625" stop-color="#5b5bff"/><stop offset=".667" stop-color="#5b5bff"/><stop offset=".708" stop-color="#5959ff"/><stop offset=".75" stop-color="#4e4eff"/><stop offset=".792" stop-color="#4d4dff"/><stop offset=".833" stop-color="#5555ff"/><stop offset=".875" stop-color="#5252ff"/><stop offset=".917" stop-color="#4646ff"/><stop offset=".958" stop-color="#4444ff"/><stop offset="1" stop-color="#4747ff"/></linearGradient><linearGradient id="ha75"><stop offset="0" stop-color="#f4f4ff"/><stop offset=".042" stop-color="#ffd1d1"/><stop offset=".083" stop-color="#ffaeae"/><stop offset=".125" stop-color="#ffc3c3"/><stop offset=".167" stop-color="#f4f4ff"/><stop offset=".208" stop-color="#ceceff"/><stop offset=".25" stop-color="#aeaeff"/><stop offset=".292" stop-color="#9393ff"/><stop offset=".333" stop-color="#8484ff"/><stop offset=".375" stop-color="#7878ff"/><stop offset=".417" stop-color="#6d6dff"/><stop offset=".458" stop-color="#6767ff"/><stop offset=".5" stop-color="#6464ff"/><stop offset=".542" stop-color="#5f5fff"/><stop offset=".583" stop-color="#6060ff"/><stop offset=".625" stop-color="#5b5bff"/><stop offset=".667" stop-color="#5353ff"/><stop offset=".708" stop-color="#5454ff"/><stop offset=".75" stop-color="#5454ff"/><stop offset=".792" stop-color="#5151ff"/><stop offset=".833" stop-color="#5555ff"/><stop offset=".875" stop-color="#5151ff"/><stop offset=".917" stop-color="#4646ff"/><stop offset=".958" stop-color="#4848ff"/><stop offset="1" stop-color="#4242ff"/></linearGradient><linearGradient id="ha76"><stop offset="0" stop-color="#f9f9ff"/><stop offset=".042" stop-color="#ffcbcb"/><stop offset=".083" stop-color="#ffa4a4"/><stop offset=".125" stop-color="#ffbcbc"/><stop offset=".167" stop-color="#f7f7ff"/><stop offset=".208" stop-color="#ceceff"/><stop offset=".25" stop-color="#adadff"/><stop offset=".292" stop-color="#9595ff"/><stop offset=".333" stop-color="#8383ff"/><stop offset=".375" stop-color="#7676ff"/><stop offset=".417" stop-color="#6c6cff"/><stop offset=".458" stop-color="#6969ff"/><stop offset=".5" stop-color="#6464ff"/><stop offset=".542" stop-color="#5f5fff"/><stop offset=".583" stop-color="#5f5fff"/><stop offset=".625" stop-color="#5959ff"/><stop offset=".667" stop-color="#5555ff"/><stop offset=".708" stop-color="#4f4fff"/><stop offset=".75" stop-color="#4e4eff"/><stop offset=".792" stop-color="#5252ff"/><stop offset=".833" stop-color="#4545ff"/><stop offset=".875" stop-color="#4a4aff"/><stop offset=".917" stop-color="#4c4cff"/><stop offset=".958" stop-color="#4747ff"/><stop offset="1" stop-color="#4a4aff"/></linearGradient><linearGradient id="ha77"><stop offset="0" stop-color="#f6f6ff"/><stop offset=".042" stop-color="#ffc5c5"/><stop offset=".083" stop-color="#ff9d9d"/><stop offset=".125" stop-color="#ffb7b7"/><stop offset=".167" stop-color="#f5f5ff"/><stop offset=".208" stop-color="#ccccff"/><stop offset=".25" stop-color="#aaaaff"/><stop offset=".292" stop-color="#9494ff"/><stop offset=".333" stop-color="#8484ff"/><stop offset=".375" stop-color="#7575ff"/><stop offset=".417" stop-color="#6b6bff"/><stop offset=".458" stop-color="#6565ff"/><stop offset=".5" stop-color="#6161ff"/><stop offset=".542" stop-color="#5e5eff"/><stop offset=".583" stop-color="#5b5bff"/><stop offset=".625" stop-color="#5454ff"/><stop offset=".667" stop-color="#5757ff"/><stop offset=".708" stop-color="#5656ff"/><stop offset=".75" stop-color="#4a4aff"/><stop offset=".792" stop-color="#4646ff"/><stop offset=".833" stop-color="#4b4bff"/><stop offset=".875" stop-color="#4444ff"/><stop offset=".917" stop-color="#3a3aff"/><stop offset=".958" stop-color="#4a4aff"/><stop offset="1" stop-color="#4646ff"/></linearGradient><linearGradient id="ha78"><stop offset="0" stop-color="#f6f6ff"/><stop offset=".042" stop-color="#ffc4c4"/><stop offset=".083" stop-color="#ff9b9b"/><stop offset=".125" stop-color="#ffb7b7"/><stop offset=".167" stop-color="#f3f3ff"/><stop offset=".208" stop-color="#ceceff"/><stop offset=".25" stop-color="#a9a9ff"/><stop offset=".292" stop-color="#9292ff"/><stop offset=".333" stop-color="#8383ff"/><stop offset=".375" stop-color="#7575ff"/><stop offset=".417" stop-color="#6a6aff"/><stop offset=".458" stop-color="#6969ff"/><stop offset=".5" stop-color="#6464ff"/><stop offset=".542" stop-color="#6060ff"/><stop offset=".583" stop-color="#5d5dff"/><stop offset=".625" stop-color="#5a5aff"/><stop offset=".667" stop-color="#5959ff"/><stop offset=".708" stop-color="#5252ff"/><stop offset=".75" stop-color="#5757ff"/><stop offset=".792" stop-color="#4949ff"/><stop offset=".833" stop-color="#4949ff"/><stop offset=".875" stop-color="#4141ff"/><stop offset=".917" stop-color="#4545ff"/><stop offset=".958" stop-color="#4949ff"/><stop offset="1" stop-color="#4e4eff"/></linearGradient><linearGradient id="ha79"><stop offset="0" stop-color="#f5f5ff"/><stop offset=".042" stop-color="#ffcaca"/><stop offset=".083" stop-color="#ffa4a4"/><stop offset=".125" stop-color="#ffc0c0"/><stop offset=".167" stop-color="#f2f2ff"/><stop offset=".208" stop-color="#cbcbff"/><stop offset=".25" stop-color="#a9a9ff"/><stop offset=".292" stop-color="#8f8fff"/><stop offset=".333" stop-color="#8282ff"/><stop offset=".375" stop-color="#7575ff"/><stop offset=".417" stop-color="#6a6aff"/><stop offset=".458" stop-color="#6565ff"/><stop offset=".5" stop-color="#6161ff"/><stop offset=".542" stop-color="#6262ff"/><stop offset=".583" stop-color="#5959ff"/><stop offset=".625" stop-color="#5c5cff"/><stop offset=".667" stop-color="#5757ff"/><stop offset=".708" stop-color="#5151ff"/><stop offset=".75" stop-color="#4b4bff"/><stop offset=".792" stop-color="#5252ff"/><stop offset=".833" stop-color="#5353ff"/><stop offset=".875" stop-color="#4343ff"/><stop offset=".917" stop-color="#4545ff"/><stop offset=".958" stop-color="#4c4cff"/><stop offset="1" stop-color="#4848ff"/></linearGradient><linearGradient id="ha80"><stop offset="0" stop-color="#fafaff"/><stop offset=".042" stop-color="#ffcccc"/><stop offset=".083" stop-color="#ffa8a8"/><stop offset=".125" stop-color="#ffc4c4"/><stop offset=".167" stop-color="#f4f4ff"/><stop offset=".208" stop-color="#d2d2ff"/><stop offset=".25" stop-color="#ababff"/><stop offset=".292" stop-color="#9292ff"/><stop offset=".333" stop-color="#8686ff"/><stop offset=".375" stop-color="#7878ff"/><stop offset=".417" stop-color="#7171ff"/><stop offset=".458" stop-color="#6a6aff"/><stop offset=".5" stop-color="#6666ff"/><stop offset=".542" stop-color="#6464ff"/><stop offset=".583" stop-color="#6262ff"/><stop offset=".625" stop-color="#5c5cff"/><stop offset=".667" stop-color="#5c5cff"/><stop offset=".708" stop-color="#5858ff"/><stop offset=".75" stop-color="#5252ff"/><stop offset=".792" stop-color="#5151ff"/><stop offset=".833" stop-color="#4f4fff"/><stop offset=".875" stop-color="#4747ff"/><stop offset=".917" stop-color="#5151ff"/><stop offset=".958" stop-color="#4343ff"/><stop offset="1" stop-color="#5050ff"/></linearGradient><linearGradient id="ha81"><stop offset="0" stop-color="#f6f6ff"/><stop offset=".042" stop-color="#ffcbcb"/><stop offset=".083" stop-color="#ffa7a7"/><stop offset=".125" stop-color="#ffc6c6"/><stop offset=".167" stop-color="#f1f1ff"/><stop offset=".208" stop-color="#ccccff"/><stop offset=".25" stop-color="#a9a9ff"/><stop offset=".292" stop-color="#9191ff"/><stop offset=".333" stop-color="#8484ff"/><stop offset=".375" stop-color="#7575ff"/><stop offset=".417" stop-color="#6d6dff"/><stop offset=".458" stop-color="#6767ff"/><stop offset=".5" stop-color="#6666ff"/><stop offset=".542" stop-color="#6161ff"/><stop offset=".583" stop-color="#5d5dff"/><stop offset=".625" stop-color="#5d5dff"/><stop offset=".667" stop-color="#5959ff"/><stop offset=".708" stop-color="#4b4bff"/><stop offset=".75" stop-color="#5252ff"/><stop offset=".792" stop-color="#4949ff"/><stop offset=".833" stop-color="#5252ff"/><stop offset=".875" stop-color="#5757ff"/><stop offset=".917" stop-color="#4646ff"/><stop offset=".958" stop-color="#4949ff"/><stop offset="1" stop-color="#4848ff"/></linearGradient><linearGradient id="ha82"><stop offset="0" stop-color="#f8f8ff"/><stop offset=".042" stop-color="#ffcbcb"/><stop offset=".083" stop-color="#ffa5a5"/><stop offset=".125" stop-color="#ffc7c7"/><stop offset=".167" stop-color="#ededff"/><stop offset=".208" stop-color="#c9c9ff"/><stop offset=".25" stop-color="#a3a3ff"/><stop offset=".292" stop-color="#8e8eff"/><stop offset=".333" stop-color="#8282ff"/><stop offset=".375" stop-color="#7373ff"/><stop offset=".417" stop-color="#6b6bff"/><stop offset=".458" stop-color="#6767ff"/><stop offset=".5" stop-color="#6363ff"/><stop offset=".542" stop-color="#6060ff"/><stop offset=".583" stop-color="#5f5fff"/><stop offset=".625" stop-color="#5757ff"/><stop offset=".667" stop-color="#5858ff"/><stop offset=".708" stop-color="#5656ff"/><stop offset=".75" stop-color="#5353ff"/><stop offset=".792" stop-color="#5151ff"/><stop offset=".833" stop-color="#5353ff"/><stop offset=".875" stop-color="#4c4cff"/><stop offset=".917" stop-color="#4c4cff"/><stop offset=".958" stop-color="#4b4bff"/><stop offset="1" stop-color="#5151ff"/></linearGradient><linearGradient id="ha83"><stop offset="0" stop-color="#f2f2ff"/><stop offset=".042" stop-color="#ffcaca"/><stop offset=".083" stop-color="#ffa4a4"/><stop offset=".125" stop-color="#ffc9c9"/><stop offset=".167" stop-color="#e8e8ff"/><stop offset=".208" stop-color="#bdbdff"/><stop offset=".25" stop-color="#9b9bff"/><stop offset=".292" stop-color="#8888ff"/><stop offset=".333" stop-color="#7979ff"/><stop offset=".375" stop-color="#6d6dff"/><stop offset=".417" stop-color="#6767ff"/><stop offset=".458" stop-color="#6666ff"/><stop offset=".5" stop-color="#6161ff"/><stop offset=".542" stop-color="#5c5cff"/><stop offset=".583" stop-color="#5858ff"/><stop offset=".625" stop-color="#5454ff"/><stop offset=".667" stop-color="#5050ff"/><stop offset=".708" stop-color="#4e4eff"/><stop offset=".75" stop-color="#4e4eff"/><stop offset=".792" stop-color="#4a4aff"/><stop offset=".833" stop-color="#4242ff"/><stop offset=".875" stop-color="#4545ff"/><stop offset=".917" stop-color="#4040ff"/><stop offset=".958" stop-color="#4545ff"/><stop offset="1" stop-color="#4e4eff"/></linearGradient><linearGradient id="ha84"><stop offset="0" stop-color="#f3f3ff"/><stop offset=".042" stop-color="#ffd1d1"/><stop offset=".083" stop-color="#ffafaf"/><stop offset=".125" stop-color="#ffd6d6"/><stop offset=".167" stop-color="#e3e3ff"/><stop offset=".208" stop-color="#b7b7ff"/><stop offset=".25" stop-color="#9c9cff"/><stop offset=".292" stop-color="#8888ff"/><stop offset=".333" stop-color="#7a7aff"/><stop offset=".375" stop-color="#7070ff"/><stop offset=".417" stop-color="#6c6cff"/><stop offset=".458" stop-color="#6a6aff"/><stop offset=".5" stop-color="#6464ff"/><stop offset=".542" stop-color="#6060ff"/><stop offset=".583" stop-color="#5c5cff"/><stop offset=".625" stop-color="#5c5cff"/><stop offset=".667" stop-color="#5454ff"/><stop offset=".708" stop-color="#5050ff"/><stop offset=".75" stop-color="#4c4cff"/><stop offset=".792" stop-color="#4949ff"/><stop offset=".833" stop-color="#4f4fff"/><stop offset=".875" stop-color="#5757ff"/><stop offset=".917" stop-color="#4343ff"/><stop offset=".958" stop-color="#4d4dff"/><stop offset="1" stop-color="#4a4aff"/></linearGradient><linearGradient id="ha85"><stop offset="0" stop-color="#f2f2ff"/><stop offset=".042" stop-color="#ffd4d4"/><stop offset=".083" stop-color="#ffb4b4"/><stop offset=".125" stop-color="#ffe1e1"/><stop offset=".167" stop-color="#dadaff"/><stop offset=".208" stop-color="#b0b0ff"/><stop offset=".25" stop-color="#8f8fff"/><stop offset=".292" stop-color="#8383ff"/><stop offset=".333" stop-color="#7474ff"/><stop offset=".375" stop-color="#6d6dff"/><stop offset=".417" stop-color="#6a6aff"/><stop offset=".458" stop-color="#6767ff"/><stop offset=".5" stop-color="#6262ff"/><stop offset=".542" stop-color="#5f5fff"/><stop offset=".583" stop-color="#5c5cff"/><stop offset=".625" stop-color="#5353ff"/><stop offset=".667" stop-color="#5858ff"/><stop offset=".708" stop-color="#5959ff"/><stop offset=".75" stop-color="#5353ff"/><stop offset=".792" stop-color="#5151ff"/><stop offset=".833" stop-color="#4343ff"/><stop offset=".875" stop-color="#4747ff"/><stop offset=".917" stop-color="#4242ff"/><stop offset=".958" stop-color="#4343ff"/><stop offset="1" stop-color="#4b4bff"/></linearGradient><linearGradient id="ha86"><stop offset="0" stop-color="#efefff"/><stop offset=".042" stop-color="#ffd6d6"/><stop offset=".083" stop-color="#ffb8b8"/><stop offset=".125" stop-color="#ffeded"/><stop offset=".167" stop-color="#d3d3ff"/><stop offset=".208" stop-color="#a5a5ff"/><stop offset=".25" stop-color="#8e8eff"/><stop offset=".292" stop-color="#7f7fff"/><stop offset=".333" stop-color="#7676ff"/><stop offset=".375" stop-color="#6d6dff"/><stop offset=".417" stop-color="#6969ff"/><stop offset=".458" stop-color="#6565ff"/><stop offset=".5" stop-color="#6464ff"/><stop offset=".542" stop-color="#6262ff"/><stop offset=".583" stop-color="#5c5cff"/><stop offset=".625" stop-color="#5656ff"/><stop offset=".667" stop-color="#5353ff"/><stop offset=".708" stop-color="#5555ff"/><stop offset=".75" stop-color="#4c4cff"/><stop offset=".792" stop-color="#5353ff"/><stop offset=".833" stop-color="#5151ff"/><stop offset=".875" stop-color="#4848ff"/><stop offset=".917" stop-color="#4949ff"/><stop offset=".958" stop-color="#4a4aff"/><stop offset="1" stop-color="#4e4eff"/></linearGradient><linearGradient id="ha87"><stop offset="0" stop-color="#f0f0ff"/><stop offset=".042" stop-color="#ffd7d7"/><stop offset=".083" stop-color="#ffb9b9"/><stop offset=".125" stop-color="#fff9f9"/><stop offset=".167" stop-color="#cacaff"/><stop offset=".208" stop-color="#9f9fff"/><stop offset=".25" stop-color="#8b8bff"/><stop offset=".292" stop-color="#7a7aff"/><stop offset=".333" stop-color="#7171ff"/><stop offset=".375" stop-color="#6d6dff"/><stop offset=".417" stop-color="#6c6cff"/><stop offset=".458" stop-color="#6868ff"/><stop offset=".5" stop-color="#6363ff"/><stop offset=".542" stop-color="#6060ff"/><stop offset=".583" stop-color="#5a5aff"/><stop offset=".625" stop-color="#5757ff"/><stop offset=".667" stop-color="#5555ff"/><stop offset=".708" stop-color="#4e4eff"/><stop offset=".75" stop-color="#4b4bff"/><stop offset=".792" stop-color="#4d4dff"/><stop offset=".833" stop-color="#4848ff"/><stop offset=".875" stop-color="#4242ff"/><stop offset=".917" stop-color="#4848ff"/><stop offset=".958" stop-color="#4444ff"/><stop offset="1" stop-color="#4b4bff"/></linearGradient><linearGradient id="ha88"><stop offset="0" stop-color="#ededff"/><stop offset=".042" stop-color="#ffe3e3"/><stop offset=".083" stop-color="#ffc6c6"/><stop offset=".125" stop-color="#fdfdff"/><stop offset=".167" stop-color="#c7c7ff"/><stop offset=".208" stop-color="#9e9eff"/><stop offset=".25" stop-color="#8f8fff"/><stop offset=".292" stop-color="#8080ff"/><stop offset=".333" stop-color="#7b7bff"/><stop offset=".375" stop-color="#7272ff"/><stop offset=".417" stop-color="#7171ff"/><stop offset=".458" stop-color="#6e6eff"/><stop offset=".5" stop-color="#6c6cff"/><stop offset=".542" stop-color="#6868ff"/><stop offset=".583" stop-color="#6565ff"/><stop offset=".625" stop-color="#6565ff"/><stop offset=".667" stop-color="#6161ff"/><stop offset=".708" stop-color="#5a5aff"/><stop offset=".75" stop-color="#6262ff"/><stop offset=".792" stop-color="#5f5fff"/><stop offset=".833" stop-color="#5555ff"/><stop offset=".875" stop-color="#5a5aff"/><stop offset=".917" stop-color="#5151ff"/><stop offset=".958" stop-color="#5b5bff"/><stop offset="1" stop-color="#5454ff"/></linearGradient><linearGradient id="ha89"><stop offset="0" stop-color="#e7e7ff"/><stop offset=".042" stop-color="#ffeded"/><stop offset=".083" stop-color="#ffcece"/><stop offset=".125" stop-color="#f9f9ff"/><stop offset=".167" stop-color="#c2c2ff"/><stop offset=".208" stop-color="#9c9cff"/><stop offset=".25" stop-color="#8d8dff"/><stop offset=".292" stop-color="#7e7eff"/><stop offset=".333" stop-color="#7d7dff"/><stop offset=".375" stop-color="#7676ff"/><stop offset=".417" stop-color="#7777ff"/><stop offset=".458" stop-color="#7676ff"/><stop offset=".5" stop-color="#7272ff"/><stop offset=".542" stop-color="#6f6fff"/><stop offset=".583" stop-color="#6e6eff"/><stop offset=".625" stop-color="#6c6cff"/><stop offset=".667" stop-color="#6868ff"/><stop offset=".708" stop-color="#6666ff"/><stop offset=".75" stop-color="#6363ff"/><stop offset=".792" stop-color="#6b6bff"/><stop offset=".833" stop-color="#6464ff"/><stop offset=".875" stop-color="#6767ff"/><stop offset=".917" stop-color="#6060ff"/><stop offset=".958" stop-color="#6262ff"/><stop offset="1" stop-color="#6161ff"/></linearGradient><linearGradient id="ha90"><stop offset="0" stop-color="#e7e7ff"/><stop offset=".042" stop-color="#fff6f6"/><stop offset=".083" stop-color="#ffd4d4"/><stop offset=".125" stop-color="#f5f5ff"/><stop offset=".167" stop-color="#bebeff"/><stop offset=".208" stop-color="#a1a1ff"/><stop offset=".25" stop-color="#9191ff"/><stop offset=".292" stop-color="#8989ff"/><stop offset=".333" stop-color="#8686ff"/><stop offset=".375" stop-color="#8181ff"/><stop offset=".417" stop-color="#7f7fff"/><stop offset=".458" stop-color="#7d7dff"/><stop offset=".5" stop-color="#7f7fff"/><stop offset=".542" stop-color="#7b7bff"/><stop offset=".583" stop-color="#7a7aff"/><stop offset=".625" stop-color="#7878ff"/><stop offset=".667" stop-color="#7373ff"/><stop offset=".708" stop-color="#7171ff"/><stop offset=".75" stop-color="#7676ff"/><stop offset=".792" stop-color="#7575ff"/><stop offset=".833" stop-color="#7171ff"/><stop offset=".875" stop-color="#6c6cff"/><stop offset=".917" stop-color="#6a6aff"/><stop offset=".958" stop-color="#6f6fff"/><stop offset="1" stop-color="#6969ff"/></linearGradient><linearGradient id="ha91"><stop offset="0" stop-color="#e8e8ff"/><stop offset=".042" stop-color="#ffffff"/><stop offset=".083" stop-color="#ffdcdc"/><stop offset=".125" stop-color="#f2f2ff"/><stop offset=".167" stop-color="#bcbcff"/><stop offset=".208" stop-color="#9f9fff"/><stop offset=".25" stop-color="#9696ff"/><stop offset=".292" stop-color="#9090ff"/><stop offset=".333" stop-color="#8c8cff"/><stop offset=".375" stop-color="#8787ff"/><stop offset=".417" stop-color="#8686ff"/><stop offset=".458" stop-color="#8484ff"/><stop offset=".5" stop-color="#8484ff"/><stop offset=".542" stop-color="#8585ff"/><stop offset=".583" stop-color="#8080ff"/><stop offset=".625" stop-color="#8080ff"/><stop offset=".667" stop-color="#7c7cff"/><stop offset=".708" stop-color="#8585ff"/><stop offset=".75" stop-color="#8484ff"/><stop offset=".792" stop-color="#8282ff"/><stop offset=".833" stop-color="#7878ff"/><stop offset=".875" stop-color="#7e7eff"/><stop offset=".917" stop-color="#7c7cff"/><stop offset=".958" stop-color="#7d7dff"/><stop offset="1" stop-color="#7c7cff"/></linearGradient><linearGradient id="ha92"><stop offset="0" stop-color="#e1e1ff"/><stop offset=".042" stop-color="#fcfcff"/><stop offset=".083" stop-color="#ffe8e8"/><stop offset=".125" stop-color="#ececff"/><stop offset=".167" stop-color="#bcbcff"/><stop offset=".208" stop-color="#a7a7ff"/><stop offset=".25" stop-color="#9d9dff"/><stop offset=".292" stop-color="#9696ff"/><stop offset=".333" stop-color="#9090ff"/><stop offset=".375" stop-color="#8a8aff"/><stop offset=".417" stop-color="#8888ff"/><stop offset=".458" stop-color="#8b8bff"/><stop offset=".5" stop-color="#8888ff"/><stop offset=".542" stop-color="#8a8aff"/><stop offset=".583" stop-color="#8a8aff"/><stop offset=".625" stop-color="#8585ff"/><stop offset=".667" stop-color="#8686ff"/><stop offset=".708" stop-color="#8787ff"/><stop offset=".75" stop-color="#8585ff"/><stop offset=".792" stop-color="#8383ff"/><stop offset=".833" stop-color="#8b8bff"/><stop offset=".875" stop-color="#8686ff"/><stop offset=".917" stop-color="#8989ff"/><stop offset=".958" stop-color="#8585ff"/><stop offset="1" stop-color="#8989ff"/></linearGradient></defs>
<rect x="31.5" y="5" width="187" height="2" fill="url(#ha0)"/><rect x="31.5" y="7" width="187" height="2" fill="url(#ha1)"/><rect x="31.5" y="9" width="187" height="2" fill="url(#ha2)"/><rect x="31.5" y="11" width="187" height="2" fill="url(#ha3)"/><rect x="31.5" y="13" width="187" height="2" fill="url(#ha4)"/><rect x="31.5" y="15" width="187" height="2" fill="url(#ha5)"/><rect x="31.5" y="17" width="187" height="2" fill="url(#ha6)"/><rect x="31.5" y="19" width="187" height="2" fill="url(#ha7)"/><rect x="31.5" y="21" width="187" height="2" fill="url(#ha8)"/><rect x="31.5" y="23" width="187" height="2" fill="url(#ha9)"/><rect x="31.5" y="25" width="187" height="2" fill="url(#ha10)"/><rect x="31.5" y="27" width="187" height="2" fill="url(#ha11)"/><rect x="31.5" y="29" width="187" height="2" fill="url(#ha12)"/><rect x="31.5" y="31" width="187" height="2" fill="url(#ha13)"/><rect x="31.5" y="33" width="187" height="2" fill="url(#ha14)"/><rect x="31.5" y="35" width="187" height="2" fill="url(#ha15)"/><rect x="31.5" y="37" width="187" height="2" fill="url(#ha16)"/><rect x="31.5" y="39" width="187" height="2" fill="url(#ha17)"/><rect x="31.5" y="41" width="187" height="2" fill="url(#ha18)"/><rect x="31.5" y="43" width="187" height="2" fill="url(#ha19)"/><rect x="31.5" y="45" width="187" height="2" fill="url(#ha20)"/><rect x="31.5" y="47" width="187" height="2" fill="url(#ha21)"/><rect x="31.5" y="49" width="187" height="2" fill="url(#ha22)"/><rect x="31.5" y="51" width="187" height="2" fill="url(#ha23)"/><rect x="31.5" y="53" width="187" height="2" fill="url(#ha24)"/><rect x="31.5" y="55" width="187" height="2" fill="url(#ha25)"/><rect x="31.5" y="57" width="187" height="2" fill="url(#ha26)"/><rect x="31.5" y="59" width="187" height="2" fill="url(#ha27)"/><rect x="31.5" y="61" width="187" height="2" fill="url(#ha28)"/><rect x="31.5" y="63" width="187" height="2" fill="url(#ha29)"/><rect x="31.5" y="65" width="187" height="2" fill="url(#ha30)"/><rect x="31.5" y="67" width="187" height="2" fill="url(#ha31)"/><rect x="31.5" y="69" width="187" height="2" fill="url(#ha32)"/><rect x="31.5" y="71" width="187" height="2" fill="url(#ha33)"/><rect x="31.5" y="73" width="187" height="2" fill="url(#ha34)"/><rect x="31.5" y="75" width="187" height="2" fill="url(#ha35)"/><rect x="31.5" y="77" width="187" height="2" fill="url(#ha36)"/><rect x="31.5" y="79" width="187" height="2" fill="url(#ha37)"/><rect x="31.5" y="81" width="187" height="2" fill="url(#ha38)"/><rect x="31.5" y="83" width="187" height="2" fill="url(#ha39)"/><rect x="31.5" y="85" width="187" height="2" fill="url(#ha40)"/><rect x="31.5" y="87" width="187" height="2" fill="url(#ha41)"/><rect x="31.5" y="89" width="187" height="2" fill="url(#ha42)"/><rect x="31.5" y="91" width="187" height="2" fill="url(#ha43)"/><rect x="31.5" y="93" width="187" height="2" fill="url(#ha44)"/><rect x="31.5" y="95" width="187" height="2" fill="url(#ha45)"/><rect x="31.5" y="97" width="187" height="2" fill="url(#ha46)"/><rect x="31.5" y="99" width="187" height="2" fill="url(#ha47)"/><rect x="31.5" y="101" width="187" height="2" fill="url(#ha48)"/><rect x="31.5" y="103" width="187" height="2" fill="url(#ha49)"/><rect x="31.5" y="105" width="187" height="2" fill="url(#ha50)"/><rect x="31.5" y="107" width="187" height="2" fill="url(#ha51)"/><rect x="31.5" y="109" width="187" height="2" fill="url(#ha52)"/><rect x="31.5" y="111" width="187" height="2" fill="url(#ha53)"/><rect x="31.5" y="113" width="187" height="2" fill="url(#ha54)"/><rect x="31.5" y="115" width="187" height="2" fill="url(#ha55)"/><rect x="31.5" y="117" width="187" height="2" fill="url(#ha56)"/><rect x="31.5" y="119" width="187" height="2" fill="url(#ha57)"/><rect x="31.5" y="121" width="187" height="2" fill="url(#ha58)"/><rect x="31.5" y="123" width="187" height="2" fill="url(#ha59)"/><rect x="31.5" y="125" width="187" height="2" fill="url(#ha60)"/><rect x="31.5" y="127" width="187" height="2" fill="url(#ha61)"/><rect x="31.5" y="129" width="187" height="2" fill="url(#ha62)"/><rect x="31.5" y="131" width="187" height="2" fill="url(#ha63)"/><rect x="31.5" y="133" width="187" height="2" fill="url(#ha64)"/><rect x="31.5" y="135" width="187" height="2" fill="url(#ha65)"/><rect x="31.5" y="137" width="187" height="2" fill="url(#ha66)"/><rect x="31.5" y="139" width="187" height="2" fill="url(#ha67)"/><rect x="31.5" y="141" width="187" height="2" fill="url(#ha68)"/><rect x="31.5" y="143" width="187" height="2" fill="url(#ha69)"/><rect x="31.5" y="145" width="187" height="2" fill="url(#ha70)"/><rect x="31.5" y="147" width="187" height="2" fill="url(#ha71)"/><rect x="31.5" y="149" width="187" height="2" fill="url(#ha72)"/><rect x="31.5" y="151" width="187" height="2" fill="url(#ha73)"/><rect x="31.5" y="153" width="187" height="2" fill="url(#ha74)"/><rect x="31.5" y="155" width="187" height="2" fill="url(#ha75)"/><rect x="31.5" y="157" width="187" height="2" fill="url(#ha76)"/><rect x="31.5" y="159" width="187" height="2" fill="url(#ha77)"/><rect x="31.5" y="161" width="187" height="2" fill="url(#ha78)"/><rect x="31.5" y="163" width="187" height="2" fill="url(#ha79)"/><rect x="31.5" y="165" width="187" height="2" fill="url(#ha80)"/><rect x="31.5" y="167" width="187" height="2" fill="url(#ha81)"/><rect x="31.5" y="169" width="187" height="2" fill="url(#ha82)"/><rect x="31.5" y="171" width="187" height="2" fill="url(#ha83)"/><rect x="31.5" y="173" width="187" height="2" fill="url(#ha84)"/><rect x="31.5" y="175" width="187" height="2" fill="url(#ha85)"/><rect x="31.5" y="177" width="187" height="2" fill="url(#ha86)"/><rect x="31.5" y="179" width="187" height="2" fill="url(#ha87)"/><rect x="31.5" y="181" width="187" height="2" fill="url(#ha88)"/><rect x="31.5" y="183" width="187" height="2" fill="url(#ha89)"/><rect x="31.5" y="185" width="187" height="2" fill="url(#ha90)"/><rect x="31.5" y="187" width="187" height="2" fill="url(#ha91)"/><rect x="31.5" y="189" width="187" height="2" fill="url(#ha92)"/>
<defs><linearGradient id="tma"><stop offset="0" stop-color="#fff" stop-opacity="0"/><stop offset="0.58" stop-color="#fff" stop-opacity="0"/><stop offset="0.78" stop-color="#fff" stop-opacity="1"/><stop offset="1" stop-color="#fff" stop-opacity="1"/></linearGradient><filter id="tla" x="0" y="0" width="1" height="1" color-interpolation-filters="sRGB"><feTurbulence type="fractalNoise" baseFrequency="0.5 0.45" numOctaves="2" seed="3"/><feColorMatrix type="matrix" values="0 0 0 0 1 0 0 0 0 1 0 0 0 0 1 1.6 0 0 0 -0.8320000000000001"/><feComposite in2="SourceGraphic" operator="in"/></filter><filter id="tda" x="0" y="0" width="1" height="1" color-interpolation-filters="sRGB"><feTurbulence type="fractalNoise" baseFrequency="0.5 0.45" numOctaves="2" seed="3"/><feColorMatrix type="matrix" values="0 0 0 0 0.1 0 0 0 0 0.1 0 0 0 0 0.9 -1.5 0 0 0 0.675"/><feComposite in2="SourceGraphic" operator="in"/></filter></defs>
<defs><linearGradient id="vga" x1="0" y1="0" x2="0" y2="1"><stop offset="0" stop-color="#fff" stop-opacity="1"/><stop offset="0.45" stop-color="#fff" stop-opacity="0.9"/><stop offset="0.75" stop-color="#fff" stop-opacity="0.55"/><stop offset="0.95" stop-color="#fff" stop-opacity="0.4"/><stop offset="1" stop-color="#fff" stop-opacity="0.6"/></linearGradient><mask id="vma" maskUnits="userSpaceOnUse" x="31.5" y="5" width="187" height="186"><rect x="31.5" y="5" width="187" height="186" fill="url(#vga)"/></mask></defs>
<g mask="url(#vma)">
<rect x="31.5" y="5" width="187" height="186" fill="url(#tma)" filter="url(#tla)"/>
<rect x="31.5" y="5" width="187" height="186" fill="url(#tma)" filter="url(#tda)"/>
</g>
<defs><filter id="bba" x="-0.5" y="-1" width="2" height="3"><feGaussianBlur stdDeviation="1.2"/></filter><clipPath id="cpa"><rect x="31.5" y="5" width="187" height="186"/></clipPath></defs>
<g clip-path="url(#cpa)"><g filter="url(#bba)"><rect x="110.6" y="182.4" width="1.2" height="7.5" fill="#fff" opacity="0.12"/><rect x="113.8" y="183.9" width="1.2" height="6.1" fill="#fff" opacity="0.12"/><rect x="117.9" y="182.7" width="1.2" height="5.0" fill="#fff" opacity="0.23"/><rect x="121.5" y="180.8" width="1.2" height="8.3" fill="#fff" opacity="0.24"/><rect x="123.4" y="180.7" width="1.2" height="8.8" fill="#fff" opacity="0.17"/><rect x="127.4" y="182.6" width="1.2" height="6.2" fill="#fff" opacity="0.10"/><rect x="130.5" y="181.9" width="1.2" height="7.8" fill="#fff" opacity="0.22"/><rect x="134.4" y="180.8" width="1.2" height="7.9" fill="#fff" opacity="0.14"/><rect x="138.4" y="182.0" width="1.2" height="6.8" fill="#fff" opacity="0.18"/><rect x="140.9" y="180.7" width="1.2" height="7.2" fill="#fff" opacity="0.16"/><rect x="144.0" y="180.8" width="1.2" height="8.6" fill="#fff" opacity="0.24"/><rect x="148.7" y="181.6" width="1.2" height="8.1" fill="#fff" opacity="0.15"/><rect x="152.3" y="180.0" width="1.2" height="7.2" fill="#fff" opacity="0.29"/><rect x="155.9" y="180.3" width="1.2" height="7.0" fill="#fff" opacity="0.16"/><rect x="159.8" y="180.1" width="1.2" height="4.1" fill="#fff" opacity="0.12"/><rect x="162.2" y="183.5" width="1.2" height="6.8" fill="#fff" opacity="0.23"/><rect x="165.1" y="180.7" width="1.2" height="5.9" fill="#fff" opacity="0.23"/><rect x="170.0" y="182.3" width="1.2" height="5.4" fill="#fff" opacity="0.14"/><rect x="172.8" y="181.0" width="1.2" height="7.8" fill="#fff" opacity="0.28"/><rect x="177.1" y="180.5" width="1.2" height="7.9" fill="#fff" opacity="0.10"/><rect x="179.3" y="182.8" width="1.2" height="5.6" fill="#fff" opacity="0.27"/><rect x="183.9" y="182.6" width="1.2" height="7.0" fill="#fff" opacity="0.28"/><rect x="187.7" y="180.1" width="1.2" height="8.9" fill="#fff" opacity="0.19"/><rect x="190.1" y="183.5" width="1.2" height="8.6" fill="#fff" opacity="0.25"/><rect x="194.4" y="180.0" width="1.2" height="5.4" fill="#fff" opacity="0.26"/><rect x="198.5" y="181.1" width="1.2" height="7.8" fill="#fff" opacity="0.12"/><rect x="201.5" y="181.4" width="1.2" height="4.4" fill="#fff" opacity="0.14"/><rect x="204.6" y="181.9" width="1.2" height="7.4" fill="#fff" opacity="0.17"/><rect x="208.2" y="181.5" width="1.2" height="7.8" fill="#fff" opacity="0.10"/><rect x="211.7" y="182.4" width="1.2" height="4.3" fill="#fff" opacity="0.25"/><rect x="215.3" y="183.8" width="1.2" height="4.9" fill="#fff" opacity="0.18"/></g></g>
<defs><linearGradient id="cba" x1="0" y1="0" x2="0" y2="1"><stop offset="0" stop-color="#ff0000"/><stop offset="0.51" stop-color="#ffffff"/><stop offset="1" stop-color="#0000ff"/></linearGradient></defs>
<rect x="41.1" y="25.9" width="10.8" height="55.6" fill="url(#cba)" stroke="#333" stroke-width="0.3"/>
<line x1="51.9" y1="25.9" x2="53.9" y2="25.9" stroke="#555" stroke-width="0.6" />
<line x1="51.9" y1="44.41" x2="53.9" y2="44.41" stroke="#555" stroke-width="0.6" />
<line x1="51.9" y1="62.99" x2="53.9" y2="62.99" stroke="#555" stroke-width="0.6" />
<line x1="51.9" y1="81.5" x2="53.9" y2="81.5" stroke="#555" stroke-width="0.6" />
<text x="38" y="19.6" font-size="11.2" fill="#111" >ΔA (OD)</text>
<rect x="31.5" y="5.0" width="187.0" height="186.0" fill="none" stroke="#2a2a2a" stroke-width="1"/>
<line x1="48.5" y1="191" x2="48.5" y2="193.6" stroke="#2a2a2a" stroke-width="1.0" />
<text x="48.5" y="204.2" font-size="11.2" text-anchor="middle" fill="#111" >500</text>
<line x1="69.75" y1="191" x2="69.75" y2="192.5" stroke="#2a2a2a" stroke-width="1.0" />
<line x1="91" y1="191" x2="91" y2="193.6" stroke="#2a2a2a" stroke-width="1.0" />
<text x="91" y="204.2" font-size="11.2" text-anchor="middle" fill="#111" >550</text>
<line x1="112.25" y1="191" x2="112.25" y2="192.5" stroke="#2a2a2a" stroke-width="1.0" />
<line x1="133.5" y1="191" x2="133.5" y2="193.6" stroke="#2a2a2a" stroke-width="1.0" />
<text x="133.5" y="204.2" font-size="11.2" text-anchor="middle" fill="#111" >600</text>
<line x1="154.75" y1="191" x2="154.75" y2="192.5" stroke="#2a2a2a" stroke-width="1.0" />
<line x1="176" y1="191" x2="176" y2="193.6" stroke="#2a2a2a" stroke-width="1.0" />
<text x="176" y="204.2" font-size="11.2" text-anchor="middle" fill="#111" >650</text>
<line x1="197.25" y1="191" x2="197.25" y2="192.5" stroke="#2a2a2a" stroke-width="1.0" />
<text x="124.7" y="214.4" font-size="11.2" text-anchor="middle" fill="#111" >Wavelength (nm)</text>
<line x1="28.9" y1="191" x2="31.5" y2="191" stroke="#2a2a2a" stroke-width="1.0" />
<line x1="30" y1="179.44" x2="31.5" y2="179.44" stroke="#2a2a2a" stroke-width="1.0" />
<line x1="30" y1="172.68" x2="31.5" y2="172.68" stroke="#2a2a2a" stroke-width="1.0" />
<line x1="30" y1="167.88" x2="31.5" y2="167.88" stroke="#2a2a2a" stroke-width="1.0" />
<line x1="30" y1="164.16" x2="31.5" y2="164.16" stroke="#2a2a2a" stroke-width="1.0" />
<line x1="30" y1="161.12" x2="31.5" y2="161.12" stroke="#2a2a2a" stroke-width="1.0" />
<line x1="30" y1="158.55" x2="31.5" y2="158.55" stroke="#2a2a2a" stroke-width="1.0" />
<line x1="30" y1="156.32" x2="31.5" y2="156.32" stroke="#2a2a2a" stroke-width="1.0" />
<line x1="30" y1="154.36" x2="31.5" y2="154.36" stroke="#2a2a2a" stroke-width="1.0" />
<line x1="28.9" y1="152.6" x2="31.5" y2="152.6" stroke="#2a2a2a" stroke-width="1.0" />
<line x1="30" y1="141.04" x2="31.5" y2="141.04" stroke="#2a2a2a" stroke-width="1.0" />
<line x1="30" y1="134.28" x2="31.5" y2="134.28" stroke="#2a2a2a" stroke-width="1.0" />
<line x1="30" y1="129.48" x2="31.5" y2="129.48" stroke="#2a2a2a" stroke-width="1.0" />
<line x1="30" y1="125.76" x2="31.5" y2="125.76" stroke="#2a2a2a" stroke-width="1.0" />
<line x1="30" y1="122.72" x2="31.5" y2="122.72" stroke="#2a2a2a" stroke-width="1.0" />
<line x1="30" y1="120.15" x2="31.5" y2="120.15" stroke="#2a2a2a" stroke-width="1.0" />
<line x1="30" y1="117.92" x2="31.5" y2="117.92" stroke="#2a2a2a" stroke-width="1.0" />
<line x1="30" y1="115.96" x2="31.5" y2="115.96" stroke="#2a2a2a" stroke-width="1.0" />
<line x1="28.9" y1="114.2" x2="31.5" y2="114.2" stroke="#2a2a2a" stroke-width="1.0" />
<line x1="30" y1="102.64" x2="31.5" y2="102.64" stroke="#2a2a2a" stroke-width="1.0" />
<line x1="30" y1="95.88" x2="31.5" y2="95.88" stroke="#2a2a2a" stroke-width="1.0" />
<line x1="30" y1="91.08" x2="31.5" y2="91.08" stroke="#2a2a2a" stroke-width="1.0" />
<line x1="30" y1="87.36" x2="31.5" y2="87.36" stroke="#2a2a2a" stroke-width="1.0" />
<line x1="30" y1="84.32" x2="31.5" y2="84.32" stroke="#2a2a2a" stroke-width="1.0" />
<line x1="30" y1="81.75" x2="31.5" y2="81.75" stroke="#2a2a2a" stroke-width="1.0" />
<line x1="30" y1="79.52" x2="31.5" y2="79.52" stroke="#2a2a2a" stroke-width="1.0" />
<line x1="30" y1="77.56" x2="31.5" y2="77.56" stroke="#2a2a2a" stroke-width="1.0" />
<line x1="28.9" y1="75.8" x2="31.5" y2="75.8" stroke="#2a2a2a" stroke-width="1.0" />
<line x1="30" y1="64.24" x2="31.5" y2="64.24" stroke="#2a2a2a" stroke-width="1.0" />
<line x1="30" y1="57.48" x2="31.5" y2="57.48" stroke="#2a2a2a" stroke-width="1.0" />
<line x1="30" y1="52.68" x2="31.5" y2="52.68" stroke="#2a2a2a" stroke-width="1.0" />
<line x1="30" y1="48.96" x2="31.5" y2="48.96" stroke="#2a2a2a" stroke-width="1.0" />
<line x1="30" y1="45.92" x2="31.5" y2="45.92" stroke="#2a2a2a" stroke-width="1.0" />
<line x1="30" y1="43.35" x2="31.5" y2="43.35" stroke="#2a2a2a" stroke-width="1.0" />
<line x1="30" y1="41.12" x2="31.5" y2="41.12" stroke="#2a2a2a" stroke-width="1.0" />
<line x1="30" y1="39.16" x2="31.5" y2="39.16" stroke="#2a2a2a" stroke-width="1.0" />
<line x1="28.9" y1="37.4" x2="31.5" y2="37.4" stroke="#2a2a2a" stroke-width="1.0" />
<line x1="30" y1="25.84" x2="31.5" y2="25.84" stroke="#2a2a2a" stroke-width="1.0" />
<line x1="30" y1="19.08" x2="31.5" y2="19.08" stroke="#2a2a2a" stroke-width="1.0" />
<line x1="30" y1="14.28" x2="31.5" y2="14.28" stroke="#2a2a2a" stroke-width="1.0" />
<line x1="30" y1="10.56" x2="31.5" y2="10.56" stroke="#2a2a2a" stroke-width="1.0" />
<line x1="30" y1="7.52" x2="31.5" y2="7.52" stroke="#2a2a2a" stroke-width="1.0" />
<line x1="30" y1="4.95" x2="31.5" y2="4.95" stroke="#2a2a2a" stroke-width="1.0" />
<text x="29.5" y="189" font-size="11.2" text-anchor="end" fill="#111" transform="rotate(-45 29.5 189)">0.1</text>
<text x="29.5" y="150.6" font-size="11.2" text-anchor="end" fill="#111" transform="rotate(-45 29.5 150.6)">1</text>
<text x="29.5" y="112.2" font-size="11.2" text-anchor="end" fill="#111" transform="rotate(-45 29.5 112.2)">10</text>
<text x="29.5" y="73.8" font-size="11.2" text-anchor="end" fill="#111" transform="rotate(-45 29.5 73.8)">100</text>
<text x="29.5" y="35.4" font-size="11.2" text-anchor="end" fill="#111" transform="rotate(-45 29.5 35.4)">1000</text>
<text x="8" y="101.4" font-size="11.2" text-anchor="middle" fill="#111" transform="rotate(-90 8 101.4)">Time Delay (ps)</text>
<defs><linearGradient id="hb0"><stop offset="0" stop-color="#9999ff"/><stop offset=".042" stop-color="#9898ff"/><stop offset=".083" stop-color="#9797ff"/><stop offset=".125" stop-color="#9696ff"/><stop offset=".167" stop-color="#9898ff"/><stop offset=".208" stop-color="#9898ff"/><stop offset=".25" stop-color="#9797ff"/><stop offset=".292" stop-color="#9797ff"/><stop offset=".333" stop-color="#9898ff"/><stop offset=".375" stop-color="#9b9bff"/><stop offset=".417" stop-color="#9696ff"/><stop offset=".458" stop-color="#9595ff"/><stop offset=".5" stop-color="#9494ff"/><stop offset=".542" stop-color="#8e8eff"/><stop offset=".583" stop-color="#9090ff"/><stop offset=".625" stop-color="#8c8cff"/><stop offset=".667" stop-color="#9090ff"/><stop offset=".708" stop-color="#8989ff"/><stop offset=".75" stop-color="#8484ff"/><stop offset=".792" stop-color="#8484ff"/><stop offset=".833" stop-color="#8383ff"/><stop offset=".875" stop-color="#7d7dff"/><stop offset=".917" stop-color="#7e7eff"/><stop offset=".958" stop-color="#7777ff"/><stop offset="1" stop-color="#7d7dff"/></linearGradient><linearGradient id="hb1"><stop offset="0" stop-color="#9b9bff"/><stop offset=".042" stop-color="#9a9aff"/><stop offset=".083" stop-color="#9c9cff"/><stop offset=".125" stop-color="#9b9bff"/><stop offset=".167" stop-color="#9c9cff"/><stop offset=".208" stop-color="#9b9bff"/><stop offset=".25" stop-color="#9a9aff"/><stop offset=".292" stop-color="#9a9aff"/><stop offset=".333" stop-color="#9a9aff"/><stop offset=".375" stop-color="#9a9aff"/><stop offset=".417" stop-color="#9898ff"/><stop offset=".458" stop-color="#9696ff"/><stop offset=".5" stop-color="#9393ff"/><stop offset=".542" stop-color="#9393ff"/><stop offset=".583" stop-color="#8e8eff"/><stop offset=".625" stop-color="#9090ff"/><stop offset=".667" stop-color="#8e8eff"/><stop offset=".708" stop-color="#8686ff"/><stop offset=".75" stop-color="#8c8cff"/><stop offset=".792" stop-color="#8b8bff"/><stop offset=".833" stop-color="#8585ff"/><stop offset=".875" stop-color="#8a8aff"/><stop offset=".917" stop-color="#8a8aff"/><stop offset=".958" stop-color="#7a7aff"/><stop offset="1" stop-color="#8686ff"/></linearGradient><linearGradient id="hb2"><stop offset="0" stop-color="#9b9bff"/><stop offset=".042" stop-color="#9999ff"/><stop offset=".083" stop-color="#9999ff"/><stop offset=".125" stop-color="#9898ff"/><stop offset=".167" stop-color="#9898ff"/><stop offset=".208" stop-color="#9999ff"/><stop offset=".25" stop-color="#9797ff"/><stop offset=".292" stop-color="#9898ff"/><stop offset=".333" stop-color="#9a9aff"/><stop offset=".375" stop-color="#9999ff"/><stop offset=".417" stop-color="#9898ff"/><stop offset=".458" stop-color="#9393ff"/><stop offset=".5" stop-color="#9393ff"/><stop offset=".542" stop-color="#9292ff"/><stop offset=".583" stop-color="#9191ff"/><stop offset=".625" stop-color="#8d8dff"/><stop offset=".667" stop-color="#8f8fff"/><stop offset=".708" stop-color="#8a8aff"/><stop offset=".75" stop-color="#8888ff"/><stop offset=".792" stop-color="#8686ff"/><stop offset=".833" stop-color="#8787ff"/><stop offset=".875" stop-color="#7f7fff"/><stop offset=".917" stop-color="#8585ff"/><stop offset=".958" stop-color="#8282ff"/><stop offset="1" stop-color="#8080ff"/></linearGradient><linearGradient id="hb3"><stop offset="0" stop-color="#9a9aff"/><stop offset=".042" stop-color="#9a9aff"/><stop offset=".083" stop-color="#9999ff"/><stop offset=".125" stop-color="#9a9aff"/><stop offset=".167" stop-color="#9999ff"/><stop offset=".208" stop-color="#9a9aff"/><stop offset=".25" stop-color="#9999ff"/><stop offset=".292" stop-color="#9696ff"/><stop offset=".333" stop-color="#9a9aff"/><stop offset=".375" stop-color="#9898ff"/><stop offset=".417" stop-color="#9595ff"/><stop offset=".458" stop-color="#9494ff"/><stop offset=".5" stop-color="#9292ff"/><stop offset=".542" stop-color="#9595ff"/><stop offset=".583" stop-color="#9191ff"/><stop offset=".625" stop-color="#8a8aff"/><stop offset=".667" stop-color="#8d8dff"/><stop offset=".708" stop-color="#8888ff"/><stop offset=".75" stop-color="#8f8fff"/><stop offset=".792" stop-color="#8080ff"/><stop offset=".833" stop-color="#7777ff"/><stop offset=".875" stop-color="#8080ff"/><stop offset=".917" stop-color="#7d7dff"/><stop offset=".958" stop-color="#7c7cff"/><stop offset="1" stop-color="#7474ff"/></linearGradient><linearGradient id="hb4"><stop offset="0" stop-color="#9797ff"/><stop offset=".042" stop-color="#9b9bff"/><stop offset=".083" stop-color="#9999ff"/><stop offset=".125" stop-color="#9c9cff"/><stop offset=".167" stop-color="#9a9aff"/><stop offset=".208" stop-color="#9999ff"/><stop offset=".25" stop-color="#9a9aff"/><stop offset=".292" stop-color="#9999ff"/><stop offset=".333" stop-color="#9898ff"/><stop offset=".375" stop-color="#9999ff"/><stop offset=".417" stop-color="#9696ff"/><stop offset=".458" stop-color="#9393ff"/><stop offset=".5" stop-color="#9696ff"/><stop offset=".542" stop-color="#9191ff"/><stop offset=".583" stop-color="#8f8fff"/><stop offset=".625" stop-color="#8f8fff"/><stop offset=".667" stop-color="#8787ff"/><stop offset=".708" stop-color="#8585ff"/><stop offset=".75" stop-color="#8585ff"/><stop offset=".792" stop-color="#8383ff"/><stop offset=".833" stop-color="#8383ff"/><stop offset=".875" stop-color="#8686ff"/><stop offset=".917" stop-color="#7c7cff"/><stop offset=".958" stop-color="#8181ff"/><stop offset="1" stop-color="#8282ff"/></linearGradient><linearGradient id="hb5"><stop offset="0" stop-color="#9696ff"/><stop offset=".042" stop-color="#9999ff"/><stop offset=".083" stop-color="#9898ff"/><stop offset=".125" stop-color="#9797ff"/><stop offset=".167" stop-color="#9595ff"/><stop offset=".208" stop-color="#9797ff"/><stop offset=".25" stop-color="#9696ff"/><stop offset=".292" stop-color="#9797ff"/><stop offset=".333" stop-color="#9696ff"/><stop offset=".375" stop-color="#9494ff"/><stop offset=".417" stop-color="#9595ff"/><stop offset=".458" stop-color="#9393ff"/><stop offset=".5" stop-color="#9090ff"/><stop offset=".542" stop-color="#9191ff"/><stop offset=".583" stop-color="#8c8cff"/><stop offset=".625" stop-color="#8a8aff"/><stop offset=".667" stop-color="#8989ff"/><stop offset=".708" stop-color="#8484ff"/><stop offset=".75" stop-color="#8383ff"/><stop offset=".792" stop-color="#8282ff"/><stop offset=".833" stop-color="#8787ff"/><stop offset=".875" stop-color="#8585ff"/><stop offset=".917" stop-color="#7b7bff"/><stop offset=".958" stop-color="#8484ff"/><stop offset="1" stop-color="#7c7cff"/></linearGradient><linearGradient id="hb6"><stop offset="0" stop-color="#9a9aff"/><stop offset=".042" stop-color="#9c9cff"/><stop offset=".083" stop-color="#9a9aff"/><stop offset=".125" stop-color="#9898ff"/><stop offset=".167" stop-color="#9b9bff"/><stop offset=".208" stop-color="#9898ff"/><stop offset=".25" stop-color="#9898ff"/><stop offset=".292" stop-color="#9494ff"/><stop offset=".333" stop-color="#9999ff"/><stop offset=".375" stop-color="#9898ff"/><stop offset=".417" stop-color="#9797ff"/><stop offset=".458" stop-color="#9595ff"/><stop offset=".5" stop-color="#9595ff"/><stop offset=".542" stop-color="#9191ff"/><stop offset=".583" stop-color="#9191ff"/><stop offset=".625" stop-color="#8b8bff"/><stop offset=".667" stop-color="#8a8aff"/><stop offset=".708" stop-color="#8c8cff"/><stop offset=".75" stop-color="#8888ff"/><stop offset=".792" stop-color="#7e7eff"/><stop offset=".833" stop-color="#8484ff"/><stop offset=".875" stop-color="#7f7fff"/><stop offset=".917" stop-color="#7a7aff"/><stop offset=".958" stop-color="#8080ff"/><stop offset="1" stop-color="#7c7cff"/></linearGradient><linearGradient id="hb7"><stop offset="0" stop-color="#9999ff"/><stop offset=".042" stop-color="#9494ff"/><stop offset=".083" stop-color="#9797ff"/><stop offset=".125" stop-color="#9797ff"/><stop offset=".167" stop-color="#9797ff"/><stop offset=".208" stop-color="#9494ff"/><stop offset=".25" stop-color="#9595ff"/><stop offset=".292" stop-color="#9595ff"/><stop offset=".333" stop-color="#9696ff"/><stop offset=".375" stop-color="#9393ff"/><stop offset=".417" stop-color="#9191ff"/><stop offset=".458" stop-color="#9292ff"/><stop offset=".5" stop-color="#9191ff"/><stop offset=".542" stop-color="#8e8eff"/><stop offset=".583" stop-color="#8a8aff"/><stop offset=".625" stop-color="#8a8aff"/><stop offset=".667" stop-color="#8888ff"/><stop offset=".708" stop-color="#8888ff"/><stop offset=".75" stop-color="#7e7eff"/><stop offset=".792" stop-color="#8181ff"/><stop offset=".833" stop-color="#7e7eff"/><stop offset=".875" stop-color="#7777ff"/><stop offset=".917" stop-color="#7c7cff"/><stop offset=".958" stop-color="#7b7bff"/><stop offset="1" stop-color="#7979ff"/></linearGradient><linearGradient id="hb8"><stop offset="0" stop-color="#9a9aff"/><stop offset=".042" stop-color="#9a9aff"/><stop offset=".083" stop-color="#9a9aff"/><stop offset=".125" stop-color="#9a9aff"/><stop offset=".167" stop-color="#9797ff"/><stop offset=".208" stop-color="#9797ff"/><stop offset=".25" stop-color="#9999ff"/><stop offset=".292" stop-color="#9898ff"/><stop offset=".333" stop-color="#9a9aff"/><stop offset=".375" stop-color="#9797ff"/><stop offset=".417" stop-color="#9494ff"/><stop offset=".458" stop-color="#9494ff"/><stop offset=".5" stop-color="#9191ff"/><stop offset=".542" stop-color="#8e8eff"/><stop offset=".583" stop-color="#9393ff"/><stop offset=".625" stop-color="#8d8dff"/><stop offset=".667" stop-color="#8c8cff"/><stop offset=".708" stop-color="#8a8aff"/><stop offset=".75" stop-color="#8d8dff"/><stop offset=".792" stop-color="#8585ff"/><stop offset=".833" stop-color="#8787ff"/><stop offset=".875" stop-color="#7a7aff"/><stop offset=".917" stop-color="#7676ff"/><stop offset=".958" stop-color="#8585ff"/><stop offset="1" stop-color="#8585ff"/></linearGradient><linearGradient id="hb9"><stop offset="0" stop-color="#9a9aff"/><stop offset=".042" stop-color="#9999ff"/><stop offset=".083" stop-color="#9b9bff"/><stop offset=".125" stop-color="#9a9aff"/><stop offset=".167" stop-color="#9999ff"/><stop offset=".208" stop-color="#9999ff"/><stop offset=".25" stop-color="#9a9aff"/><stop offset=".292" stop-color="#9999ff"/><stop offset=".333" stop-color="#9898ff"/><stop offset=".375" stop-color="#9595ff"/><stop offset=".417" stop-color="#9595ff"/><stop offset=".458" stop-color="#9696ff"/><stop offset=".5" stop-color="#9191ff"/><stop offset=".542" stop-color="#8f8fff"/><stop offset=".583" stop-color="#8f8fff"/><stop offset=".625" stop-color="#8e8eff"/><stop offset=".667" stop-color="#8b8bff"/><stop offset=".708" stop-color="#8282ff"/><stop offset=".75" stop-color="#8787ff"/><stop offset=".792" stop-color="#7e7eff"/><stop offset=".833" stop-color="#7d7dff"/><stop offset=".875" stop-color="#8181ff"/><stop offset=".917" stop-color="#7c7cff"/><stop offset=".958" stop-color="#8181ff"/><stop offset="1" stop-color="#8d8dff"/></linearGradient><linearGradient id="hb10"><stop offset="0" stop-color="#9999ff"/><stop offset=".042" stop-color="#9999ff"/><stop offset=".083" stop-color="#9898ff"/><stop offset=".125" stop-color="#9999ff"/><stop offset=".167" stop-color="#9898ff"/><stop offset=".208" stop-color="#9898ff"/><stop offset=".25" stop-color="#9898ff"/><stop offset=".292" stop-color="#9797ff"/><stop offset=".333" stop-color="#9696ff"/><stop offset=".375" stop-color="#9595ff"/><stop offset=".417" stop-color="#9595ff"/><stop offset=".458" stop-color="#9393ff"/><stop offset=".5" stop-color="#9393ff"/><stop offset=".542" stop-color="#9191ff"/><stop offset=".583" stop-color="#8d8dff"/><stop offset=".625" stop-color="#8d8dff"/><stop offset=".667" stop-color="#8585ff"/><stop offset=".708" stop-color="#8f8fff"/><stop offset=".75" stop-color="#8a8aff"/><stop offset=".792" stop-color="#8282ff"/><stop offset=".833" stop-color="#7b7bff"/><stop offset=".875" stop-color="#8181ff"/><stop offset=".917" stop-color="#7474ff"/><stop offset=".958" stop-color="#7979ff"/><stop offset="1" stop-color="#8181ff"/></linearGradient><linearGradient id="hb11"><stop offset="0" stop-color="#9a9aff"/><stop offset=".042" stop-color="#9797ff"/><stop offset=".083" stop-color="#9999ff"/><stop offset=".125" stop-color="#9898ff"/><stop offset=".167" stop-color="#9797ff"/><stop offset=".208" stop-color="#9898ff"/><stop offset=".25" stop-color="#9696ff"/><stop offset=".292" stop-color="#9999ff"/><stop offset=".333" stop-color="#9595ff"/><stop offset=".375" stop-color="#9898ff"/><stop offset=".417" stop-color="#9292ff"/><stop offset=".458" stop-color="#9292ff"/><stop offset=".5" stop-color="#8e8eff"/><stop offset=".542" stop-color="#8c8cff"/><stop offset=".583" stop-color="#8c8cff"/><stop offset=".625" stop-color="#8c8cff"/><stop offset=".667" stop-color="#8484ff"/><stop offset=".708" stop-color="#8a8aff"/><stop offset=".75" stop-color="#8181ff"/><stop offset=".792" stop-color="#8282ff"/><stop offset=".833" stop-color="#8181ff"/><stop offset=".875" stop-color="#8080ff"/><stop offset=".917" stop-color="#7373ff"/><stop offset=".958" stop-color="#8484ff"/><stop offset="1" stop-color="#7f7fff"/></linearGradient><linearGradient id="hb12"><stop offset="0" stop-color="#9696ff"/><stop offset=".042" stop-color="#9696ff"/><stop offset=".083" stop-color="#9a9aff"/><stop offset=".125" stop-color="#9797ff"/><stop offset=".167" stop-color="#9696ff"/><stop offset=".208" stop-color="#9696ff"/><stop offset=".25" stop-color="#9898ff"/><stop offset=".292" stop-color="#9595ff"/><stop offset=".333" stop-color="#9494ff"/><stop offset=".375" stop-color="#9696ff"/><stop offset=".417" stop-color="#9393ff"/><stop offset=".458" stop-color="#9191ff"/><stop offset=".5" stop-color="#8e8eff"/><stop offset=".542" stop-color="#8a8aff"/><stop offset=".583" stop-color="#8989ff"/><stop offset=".625" stop-color="#8888ff"/><stop offset=".667" stop-color="#8686ff"/><stop offset=".708" stop-color="#8686ff"/><stop offset=".75" stop-color="#8585ff"/><stop offset=".792" stop-color="#8282ff"/><stop offset=".833" stop-color="#7f7fff"/><stop offset=".875" stop-color="#7777ff"/><stop offset=".917" stop-color="#7070ff"/><stop offset=".958" stop-color="#7878ff"/><stop offset="1" stop-color="#7676ff"/></linearGradient><linearGradient id="hb13"><stop offset="0" stop-color="#9696ff"/><stop offset=".042" stop-color="#9696ff"/><stop offset=".083" stop-color="#9999ff"/><stop offset=".125" stop-color="#9797ff"/><stop offset=".167" stop-color="#9696ff"/><stop offset=".208" stop-color="#9797ff"/><stop offset=".25" stop-color="#9696ff"/><stop offset=".292" stop-color="#9494ff"/><stop offset=".333" stop-color="#9595ff"/><stop offset=".375" stop-color="#9696ff"/><stop offset=".417" stop-color="#9191ff"/><stop offset=".458" stop-color="#9191ff"/><stop offset=".5" stop-color="#9090ff"/><stop offset=".542" stop-color="#8e8eff"/><stop offset=".583" stop-color="#8888ff"/><stop offset=".625" stop-color="#8d8dff"/><stop offset=".667" stop-color="#8686ff"/><stop offset=".708" stop-color="#8383ff"/><stop offset=".75" stop-color="#8181ff"/><stop offset=".792" stop-color="#8282ff"/><stop offset=".833" stop-color="#7e7eff"/><stop offset=".875" stop-color="#7b7bff"/><stop offset=".917" stop-color="#8181ff"/><stop offset=".958" stop-color="#7777ff"/><stop offset="1" stop-color="#7575ff"/></linearGradient><linearGradient id="hb14"><stop offset="0" stop-color="#9c9cff"/><stop offset=".042" stop-color="#9999ff"/><stop offset=".083" stop-color="#9e9eff"/><stop offset=".125" stop-color="#9a9aff"/><stop offset=".167" stop-color="#9b9bff"/><stop offset=".208" stop-color="#9797ff"/><stop offset=".25" stop-color="#9898ff"/><stop offset=".292" stop-color="#9797ff"/><stop offset=".333" stop-color="#9494ff"/><stop offset=".375" stop-color="#9494ff"/><stop offset=".417" stop-color="#9595ff"/><stop offset=".458" stop-color="#9191ff"/><stop offset=".5" stop-color="#8f8fff"/><stop offset=".542" stop-color="#8f8fff"/><stop offset=".583" stop-color="#8e8eff"/><stop offset=".625" stop-color="#8c8cff"/><stop offset=".667" stop-color="#8585ff"/><stop offset=".708" stop-color="#8585ff"/><stop offset=".75" stop-color="#8888ff"/><stop offset=".792" stop-color="#7f7fff"/><stop offset=".833" stop-color="#7c7cff"/><stop offset=".875" stop-color="#8282ff"/><stop offset=".917" stop-color="#8484ff"/><stop offset=".958" stop-color="#7676ff"/><stop offset="1" stop-color="#6f6fff"/></linearGradient><linearGradient id="hb15"><stop offset="0" stop-color="#9797ff"/><stop offset=".042" stop-color="#9898ff"/><stop offset=".083" stop-color="#9a9aff"/><stop offset=".125" stop-color="#9696ff"/><stop offset=".167" stop-color="#9595ff"/><stop offset=".208" stop-color="#9494ff"/><stop offset=".25" stop-color="#9494ff"/><stop offset=".292" stop-color="#9393ff"/><stop offset=".333" stop-color="#9696ff"/><stop offset=".375" stop-color="#9393ff"/><stop offset=".417" stop-color="#8f8fff"/><stop offset=".458" stop-color="#8c8cff"/><stop offset=".5" stop-color="#8b8bff"/><stop offset=".542" stop-color="#8787ff"/><stop offset=".583" stop-color="#8686ff"/><stop offset=".625" stop-color="#8484ff"/><stop offset=".667" stop-color="#8686ff"/><stop offset=".708" stop-color="#8080ff"/><stop offset=".75" stop-color="#7d7dff"/><stop offset=".792" stop-color="#7878ff"/><stop offset=".833" stop-color="#7676ff"/><stop offset=".875" stop-color="#7979ff"/><stop offset=".917" stop-color="#7777ff"/><stop offset=".958" stop-color="#7e7eff"/><stop offset="1" stop-color="#7575ff"/></linearGradient><linearGradient id="hb16"><stop offset="0" stop-color="#9b9bff"/><stop offset=".042" stop-color="#9a9aff"/><stop offset=".083" stop-color="#9d9dff"/><stop offset=".125" stop-color="#9d9dff"/><stop offset=".167" stop-color="#9b9bff"/><stop offset=".208" stop-color="#9999ff"/><stop offset=".25" stop-color="#9999ff"/><stop offset=".292" stop-color="#9797ff"/><stop offset=".333" stop-color="#9696ff"/><stop offset=".375" stop-color="#9494ff"/><stop offset=".417" stop-color="#9494ff"/><stop offset=".458" stop-color="#9292ff"/><stop offset=".5" stop-color="#8f8fff"/><stop offset=".542" stop-color="#8d8dff"/><stop offset=".583" stop-color="#8c8cff"/><stop offset=".625" stop-color="#8a8aff"/><stop offset=".667" stop-color="#8585ff"/><stop offset=".708" stop-color="#8b8bff"/><stop offset=".75" stop-color="#8484ff"/><stop offset=".792" stop-color="#8181ff"/><stop offset=".833" stop-color="#8686ff"/><stop offset=".875" stop-color="#8282ff"/><stop offset=".917" stop-color="#7c7cff"/><stop offset=".958" stop-color="#7f7fff"/><stop offset="1" stop-color="#7777ff"/></linearGradient><linearGradient id="hb17"><stop offset="0" stop-color="#9999ff"/><stop offset=".042" stop-color="#9898ff"/><stop offset=".083" stop-color="#9d9dff"/><stop offset=".125" stop-color="#9898ff"/><stop offset=".167" stop-color="#9595ff"/><stop offset=".208" stop-color="#9595ff"/><stop offset=".25" stop-color="#9595ff"/><stop offset=".292" stop-color="#9595ff"/><stop offset=".333" stop-color="#9595ff"/><stop offset=".375" stop-color="#9292ff"/><stop offset=".417" stop-color="#9090ff"/><stop offset=".458" stop-color="#8c8cff"/><stop offset=".5" stop-color="#8c8cff"/><stop offset=".542" stop-color="#8989ff"/><stop offset=".583" stop-color="#8686ff"/><stop offset=".625" stop-color="#8484ff"/><stop offset=".667" stop-color="#8282ff"/><stop offset=".708" stop-color="#8181ff"/><stop offset=".75" stop-color="#8080ff"/><stop offset=".792" stop-color="#7a7aff"/><stop offset=".833" stop-color="#7777ff"/><stop offset=".875" stop-color="#7d7dff"/><stop offset=".917" stop-color="#6f6fff"/><stop offset=".958" stop-color="#7474ff"/><stop offset="1" stop-color="#7f7fff"/></linearGradient><linearGradient id="hb18"><stop offset="0" stop-color="#9696ff"/><stop offset=".042" stop-color="#9595ff"/><stop offset=".083" stop-color="#9d9dff"/><stop offset=".125" stop-color="#9393ff"/><stop offset=".167" stop-color="#9494ff"/><stop offset=".208" stop-color="#9494ff"/><stop offset=".25" stop-color="#9292ff"/><stop offset=".292" stop-color="#8f8fff"/><stop offset=".333" stop-color="#8f8fff"/><stop offset=".375" stop-color="#8b8bff"/><stop offset=".417" stop-color="#8b8bff"/><stop offset=".458" stop-color="#8787ff"/><stop offset=".5" stop-color="#8686ff"/><stop offset=".542" stop-color="#8585ff"/><stop offset=".583" stop-color="#8080ff"/><stop offset=".625" stop-color="#7f7fff"/><stop offset=".667" stop-color="#7e7eff"/><stop offset=".708" stop-color="#7777ff"/><stop offset=".75" stop-color="#7e7eff"/><stop offset=".792" stop-color="#7979ff"/><stop offset=".833" stop-color="#6e6eff"/><stop offset=".875" stop-color="#7373ff"/><stop offset=".917" stop-color="#6f6fff"/><stop offset=".958" stop-color="#6f6fff"/><stop offset="1" stop-color="#7373ff"/></linearGradient><linearGradient id="hb19"><stop offset="0" stop-color="#9898ff"/><stop offset=".042" stop-color="#9c9cff"/><stop offset=".083" stop-color="#9d9dff"/><stop offset=".125" stop-color="#9b9bff"/><stop offset=".167" stop-color="#9494ff"/><stop offset=".208" stop-color="#9393ff"/><stop offset=".25" stop-color="#9292ff"/><stop offset=".292" stop-color="#9393ff"/><stop offset=".333" stop-color="#9191ff"/><stop offset=".375" stop-color="#9191ff"/><stop offset=".417" stop-color="#8e8eff"/><stop offset=".458" stop-color="#8a8aff"/><stop offset=".5" stop-color="#8787ff"/><stop offset=".542" stop-color="#8686ff"/><stop offset=".583" stop-color="#8383ff"/><stop offset=".625" stop-color="#8484ff"/><stop offset=".667" stop-color="#8181ff"/><stop offset=".708" stop-color="#7a7aff"/><stop offset=".75" stop-color="#7878ff"/><stop offset=".792" stop-color="#7f7fff"/><stop offset=".833" stop-color="#7878ff"/><stop offset=".875" stop-color="#7474ff"/><stop offset=".917" stop-color="#7a7aff"/><stop offset=".958" stop-color="#7272ff"/><stop offset="1" stop-color="#7272ff"/></linearGradient><linearGradient id="hb20"><stop offset="0" stop-color="#9b9bff"/><stop offset=".042" stop-color="#9a9aff"/><stop offset=".083" stop-color="#9d9dff"/><stop offset=".125" stop-color="#9a9aff"/><stop offset=".167" stop-color="#9797ff"/><stop offset=".208" stop-color="#9494ff"/><stop offset=".25" stop-color="#9393ff"/><stop offset=".292" stop-color="#8f8fff"/><stop offset=".333" stop-color="#8f8fff"/><stop offset=".375" stop-color="#8b8bff"/><stop offset=".417" stop-color="#8b8bff"/><stop offset=".458" stop-color="#8989ff"/><stop offset=".5" stop-color="#8686ff"/><stop offset=".542" stop-color="#8787ff"/><stop offset=".583" stop-color="#8383ff"/><stop offset=".625" stop-color="#8181ff"/><stop offset=".667" stop-color="#7d7dff"/><stop offset=".708" stop-color="#7a7aff"/><stop offset=".75" stop-color="#7d7dff"/><stop offset=".792" stop-color="#7c7cff"/><stop offset=".833" stop-color="#6f6fff"/><stop offset=".875" stop-color="#7979ff"/><stop offset=".917" stop-color="#7575ff"/><stop offset=".958" stop-color="#7777ff"/><stop offset="1" stop-color="#7575ff"/></linearGradient><linearGradient id="hb21"><stop offset="0" stop-color="#9b9bff"/><stop offset=".042" stop-color="#9b9bff"/><stop offset=".083" stop-color="#9b9bff"/><stop offset=".125" stop-color="#9a9aff"/><stop offset=".167" stop-color="#9494ff"/><stop offset=".208" stop-color="#9090ff"/><stop offset=".25" stop-color="#8e8eff"/><stop offset=".292" stop-color="#8d8dff"/><stop offset=".333" stop-color="#8d8dff"/><stop offset=".375" stop-color="#8b8bff"/><stop offset=".417" stop-color="#8888ff"/><stop offset=".458" stop-color="#8686ff"/><stop offset=".5" stop-color="#8484ff"/><stop offset=".542" stop-color="#7e7eff"/><stop offset=".583" stop-color="#7e7eff"/><stop offset=".625" stop-color="#7a7aff"/><stop offset=".667" stop-color="#7676ff"/><stop offset=".708" stop-color="#7676ff"/><stop offset=".75" stop-color="#7575ff"/><stop offset=".792" stop-color="#7373ff"/><stop offset=".833" stop-color="#6b6bff"/><stop offset=".875" stop-color="#6e6eff"/><stop offset=".917" stop-color="#7979ff"/><stop offset=".958" stop-color="#6a6aff"/><stop offset="1" stop-color="#6767ff"/></linearGradient><linearGradient id="hb22"><stop offset="0" stop-color="#9c9cff"/><stop offset=".042" stop-color="#9c9cff"/><stop offset=".083" stop-color="#a1a1ff"/><stop offset=".125" stop-color="#9c9cff"/><stop offset=".167" stop-color="#9696ff"/><stop offset=".208" stop-color="#9393ff"/><stop offset=".25" stop-color="#9393ff"/><stop offset=".292" stop-color="#9292ff"/><stop offset=".333" stop-color="#8f8fff"/><stop offset=".375" stop-color="#8c8cff"/><stop offset=".417" stop-color="#8a8aff"/><stop offset=".458" stop-color="#8787ff"/><stop offset=".5" stop-color="#8585ff"/><stop offset=".542" stop-color="#7f7fff"/><stop offset=".583" stop-color="#7c7cff"/><stop offset=".625" stop-color="#7e7eff"/><stop offset=".667" stop-color="#7676ff"/><stop offset=".708" stop-color="#7777ff"/><stop offset=".75" stop-color="#7676ff"/><stop offset=".792" stop-color="#7272ff"/><stop offset=".833" stop-color="#7070ff"/><stop offset=".875" stop-color="#7878ff"/><stop offset=".917" stop-color="#6363ff"/><stop offset=".958" stop-color="#7474ff"/><stop offset="1" stop-color="#7b7bff"/></linearGradient><linearGradient id="hb23"><stop offset="0" stop-color="#9d9dff"/><stop offset=".042" stop-color="#a0a0ff"/><stop offset=".083" stop-color="#9f9fff"/><stop offset=".125" stop-color="#9d9dff"/><stop offset=".167" stop-color="#9797ff"/><stop offset=".208" stop-color="#9393ff"/><stop offset=".25" stop-color="#9292ff"/><stop offset=".292" stop-color="#9090ff"/><stop offset=".333" stop-color="#8c8cff"/><stop offset=".375" stop-color="#8a8aff"/><stop offset=".417" stop-color="#8686ff"/><stop offset=".458" stop-color="#8484ff"/><stop offset=".5" stop-color="#8282ff"/><stop offset=".542" stop-color="#7f7fff"/><stop offset=".583" stop-color="#7b7bff"/><stop offset=".625" stop-color="#7e7eff"/><stop offset=".667" stop-color="#7777ff"/><stop offset=".708" stop-color="#7171ff"/><stop offset=".75" stop-color="#7878ff"/><stop offset=".792" stop-color="#6f6fff"/><stop offset=".833" stop-color="#7373ff"/><stop offset=".875" stop-color="#6e6eff"/><stop offset=".917" stop-color="#6f6fff"/><stop offset=".958" stop-color="#6e6eff"/><stop offset="1" stop-color="#6a6aff"/></linearGradient><linearGradient id="hb24"><stop offset="0" stop-color="#9a9aff"/><stop offset=".042" stop-color="#9e9eff"/><stop offset=".083" stop-color="#a3a3ff"/><stop offset=".125" stop-color="#9c9cff"/><stop offset=".167" stop-color="#9696ff"/><stop offset=".208" stop-color="#9595ff"/><stop offset=".25" stop-color="#9191ff"/><stop offset=".292" stop-color="#9191ff"/><stop offset=".333" stop-color="#8c8cff"/><stop offset=".375" stop-color="#8989ff"/><stop offset=".417" stop-color="#8686ff"/><stop offset=".458" stop-color="#8484ff"/><stop offset=".5" stop-color="#8282ff"/><stop offset=".542" stop-color="#7e7eff"/><stop offset=".583" stop-color="#7b7bff"/><stop offset=".625" stop-color="#7979ff"/><stop offset=".667" stop-color="#7a7aff"/><stop offset=".708" stop-color="#7676ff"/><stop offset=".75" stop-color="#6e6eff"/><stop offset=".792" stop-color="#6d6dff"/><stop offset=".833" stop-color="#7070ff"/><stop offset=".875" stop-color="#6969ff"/><stop offset=".917" stop-color="#6a6aff"/><stop offset=".958" stop-color="#6767ff"/><stop offset="1" stop-color="#6a6aff"/></linearGradient><linearGradient id="hb25"><stop offset="0" stop-color="#9e9eff"/><stop offset=".042" stop-color="#a2a2ff"/><stop offset=".083" stop-color="#a5a5ff"/><stop offset=".125" stop-color="#a2a2ff"/><stop offset=".167" stop-color="#9a9aff"/><stop offset=".208" stop-color="#9494ff"/><stop offset=".25" stop-color="#9191ff"/><stop offset=".292" stop-color="#8b8bff"/><stop offset=".333" stop-color="#8b8bff"/><stop offset=".375" stop-color="#8888ff"/><stop offset=".417" stop-color="#8787ff"/><stop offset=".458" stop-color="#8080ff"/><stop offset=".5" stop-color="#8282ff"/><stop offset=".542" stop-color="#7c7cff"/><stop offset=".583" stop-color="#7b7bff"/><stop offset=".625" stop-color="#7171ff"/><stop offset=".667" stop-color="#7575ff"/><stop offset=".708" stop-color="#7171ff"/><stop offset=".75" stop-color="#7373ff"/><stop offset=".792" stop-color="#6f6fff"/><stop offset=".833" stop-color="#6767ff"/><stop offset=".875" stop-color="#7070ff"/><stop offset=".917" stop-color="#6e6eff"/><stop offset=".958" stop-color="#6d6dff"/><stop offset="1" stop-color="#6f6fff"/></linearGradient><linearGradient id="hb26"><stop offset="0" stop-color="#9d9dff"/><stop offset=".042" stop-color="#9f9fff"/><stop offset=".083" stop-color="#aaaaff"/><stop offset=".125" stop-color="#a1a1ff"/><stop offset=".167" stop-color="#9a9aff"/><stop offset=".208" stop-color="#9494ff"/><stop offset=".25" stop-color="#9292ff"/><stop offset=".292" stop-color="#8f8fff"/><stop offset=".333" stop-color="#8a8aff"/><stop offset=".375" stop-color="#8686ff"/><stop offset=".417" stop-color="#8787ff"/><stop offset=".458" stop-color="#8282ff"/><stop offset=".5" stop-color="#7e7eff"/><stop offset=".542" stop-color="#7a7aff"/><stop offset=".583" stop-color="#7878ff"/><stop offset=".625" stop-color="#7878ff"/><stop offset=".667" stop-color="#7676ff"/><stop offset=".708" stop-color="#7070ff"/><stop offset=".75" stop-color="#7070ff"/><stop offset=".792" stop-color="#6c6cff"/><stop offset=".833" stop-color="#6767ff"/><stop offset=".875" stop-color="#7171ff"/><stop offset=".917" stop-color="#6b6bff"/><stop offset=".958" stop-color="#7676ff"/><stop offset="1" stop-color="#6666ff"/></linearGradient><linearGradient id="hb27"><stop offset="0" stop-color="#9d9dff"/><stop offset=".042" stop-color="#9f9fff"/><stop offset=".083" stop-color="#a7a7ff"/><stop offset=".125" stop-color="#a0a0ff"/><stop offset=".167" stop-color="#9999ff"/><stop offset=".208" stop-color="#9393ff"/><stop offset=".25" stop-color="#9090ff"/><stop offset=".292" stop-color="#8d8dff"/><stop offset=".333" stop-color="#8888ff"/><stop offset=".375" stop-color="#8484ff"/><stop offset=".417" stop-color="#8181ff"/><stop offset=".458" stop-color="#7f7fff"/><stop offset=".5" stop-color="#7c7cff"/><stop offset=".542" stop-color="#7878ff"/><stop offset=".583" stop-color="#7676ff"/><stop offset=".625" stop-color="#7272ff"/><stop offset=".667" stop-color="#6b6bff"/><stop offset=".708" stop-color="#6a6aff"/><stop offset=".75" stop-color="#6f6fff"/><stop offset=".792" stop-color="#6c6cff"/><stop offset=".833" stop-color="#7070ff"/><stop offset=".875" stop-color="#6767ff"/><stop offset=".917" stop-color="#6a6aff"/><stop offset=".958" stop-color="#6c6cff"/><stop offset="1" stop-color="#6b6bff"/></linearGradient><linearGradient id="hb28"><stop offset="0" stop-color="#9e9eff"/><stop offset=".042" stop-color="#a1a1ff"/><stop offset=".083" stop-color="#ababff"/><stop offset=".125" stop-color="#a3a3ff"/><stop offset=".167" stop-color="#9797ff"/><stop offset=".208" stop-color="#9595ff"/><stop offset=".25" stop-color="#8d8dff"/><stop offset=".292" stop-color="#8a8aff"/><stop offset=".333" stop-color="#8686ff"/><stop offset=".375" stop-color="#8181ff"/><stop offset=".417" stop-color="#7f7fff"/><stop offset=".458" stop-color="#7c7cff"/><stop offset=".5" stop-color="#7b7bff"/><stop offset=".542" stop-color="#7777ff"/><stop offset=".583" stop-color="#7474ff"/><stop offset=".625" stop-color="#6f6fff"/><stop offset=".667" stop-color="#6969ff"/><stop offset=".708" stop-color="#6a6aff"/><stop offset=".75" stop-color="#6565ff"/><stop offset=".792" stop-color="#6b6bff"/><stop offset=".833" stop-color="#6565ff"/><stop offset=".875" stop-color="#6c6cff"/><stop offset=".917" stop-color="#6767ff"/><stop offset=".958" stop-color="#6767ff"/><stop offset="1" stop-color="#6464ff"/></linearGradient><linearGradient id="hb29"><stop offset="0" stop-color="#a0a0ff"/><stop offset=".042" stop-color="#a5a5ff"/><stop offset=".083" stop-color="#aeaeff"/><stop offset=".125" stop-color="#a9a9ff"/><stop offset=".167" stop-color="#9a9aff"/><stop offset=".208" stop-color="#9494ff"/><stop offset=".25" stop-color="#8d8dff"/><stop offset=".292" stop-color="#8989ff"/><stop offset=".333" stop-color="#8888ff"/><stop offset=".375" stop-color="#8282ff"/><stop offset=".417" stop-color="#7f7fff"/><stop offset=".458" stop-color="#7e7eff"/><stop offset=".5" stop-color="#7c7cff"/><stop offset=".542" stop-color="#7474ff"/><stop offset=".583" stop-color="#7474ff"/><stop offset=".625" stop-color="#7171ff"/><stop offset=".667" stop-color="#6d6dff"/><stop offset=".708" stop-color="#6b6bff"/><stop offset=".75" stop-color="#6868ff"/><stop offset=".792" stop-color="#6e6eff"/><stop offset=".833" stop-color="#6868ff"/><stop offset=".875" stop-color="#6565ff"/><stop offset=".917" stop-color="#6969ff"/><stop offset=".958" stop-color="#6767ff"/><stop offset="1" stop-color="#6565ff"/></linearGradient><linearGradient id="hb30"><stop offset="0" stop-color="#a2a2ff"/><stop offset=".042" stop-color="#a9a9ff"/><stop offset=".083" stop-color="#b2b2ff"/><stop offset=".125" stop-color="#a7a7ff"/><stop offset=".167" stop-color="#9999ff"/><stop offset=".208" stop-color="#9494ff"/><stop offset=".25" stop-color="#8f8fff"/><stop offset=".292" stop-color="#8787ff"/><stop offset=".333" stop-color="#8585ff"/><stop offset=".375" stop-color="#8282ff"/><stop offset=".417" stop-color="#7e7eff"/><stop offset=".458" stop-color="#7979ff"/><stop offset=".5" stop-color="#7979ff"/><stop offset=".542" stop-color="#7373ff"/><stop offset=".583" stop-color="#6e6eff"/><stop offset=".625" stop-color="#6b6bff"/><stop offset=".667" stop-color="#6a6aff"/><stop offset=".708" stop-color="#6b6bff"/><stop offset=".75" stop-color="#6b6bff"/><stop offset=".792" stop-color="#6666ff"/><stop offset=".833" stop-color="#5d5dff"/><stop offset=".875" stop-color="#5e5eff"/><stop offset=".917" stop-color="#5c5cff"/><stop offset=".958" stop-color="#6060ff"/><stop offset="1" stop-color="#5858ff"/></linearGradient><linearGradient id="hb31"><stop offset="0" stop-color="#a3a3ff"/><stop offset=".042" stop-color="#ababff"/><stop offset=".083" stop-color="#b7b7ff"/><stop offset=".125" stop-color="#a8a8ff"/><stop offset=".167" stop-color="#9999ff"/><stop offset=".208" stop-color="#9696ff"/><stop offset=".25" stop-color="#9090ff"/><stop offset=".292" stop-color="#8888ff"/><stop offset=".333" stop-color="#8585ff"/><stop offset=".375" stop-color="#7f7fff"/><stop offset=".417" stop-color="#7e7eff"/><stop offset=".458" stop-color="#7979ff"/><stop offset=".5" stop-color="#7474ff"/><stop offset=".542" stop-color="#7373ff"/><stop offset=".583" stop-color="#6d6dff"/><stop offset=".625" stop-color="#6969ff"/><stop offset=".667" stop-color="#6464ff"/><stop offset=".708" stop-color="#6666ff"/><stop offset=".75" stop-color="#6464ff"/><stop offset=".792" stop-color="#6262ff"/><stop offset=".833" stop-color="#5f5fff"/><stop offset=".875" stop-color="#6767ff"/><stop offset=".917" stop-color="#5c5cff"/><stop offset=".958" stop-color="#5b5bff"/><stop offset="1" stop-color="#6565ff"/></linearGradient><linearGradient id="hb32"><stop offset="0" stop-color="#a5a5ff"/><stop offset=".042" stop-color="#aeaeff"/><stop offset=".083" stop-color="#c1c1ff"/><stop offset=".125" stop-color="#aeaeff"/><stop offset=".167" stop-color="#a0a0ff"/><stop offset=".208" stop-color="#9595ff"/><stop offset=".25" stop-color="#9191ff"/><stop offset=".292" stop-color="#8888ff"/><stop offset=".333" stop-color="#8686ff"/><stop offset=".375" stop-color="#7f7fff"/><stop offset=".417" stop-color="#7d7dff"/><stop offset=".458" stop-color="#7878ff"/><stop offset=".5" stop-color="#7373ff"/><stop offset=".542" stop-color="#7070ff"/><stop offset=".583" stop-color="#6d6dff"/><stop offset=".625" stop-color="#6868ff"/><stop offset=".667" stop-color="#6b6bff"/><stop offset=".708" stop-color="#6a6aff"/><stop offset=".75" stop-color="#6565ff"/><stop offset=".792" stop-color="#5e5eff"/><stop offset=".833" stop-color="#6060ff"/><stop offset=".875" stop-color="#5c5cff"/><stop offset=".917" stop-color="#6666ff"/><stop offset=".958" stop-color="#6060ff"/><stop offset="1" stop-color="#6161ff"/></linearGradient><linearGradient id="hb33"><stop offset="0" stop-color="#a6a6ff"/><stop offset=".042" stop-color="#afafff"/><stop offset=".083" stop-color="#c4c4ff"/><stop offset=".125" stop-color="#b0b0ff"/><stop offset=".167" stop-color="#9c9cff"/><stop offset=".208" stop-color="#9393ff"/><stop offset=".25" stop-color="#8f8fff"/><stop offset=".292" stop-color="#8484ff"/><stop offset=".333" stop-color="#7f7fff"/><stop offset=".375" stop-color="#7a7aff"/><stop offset=".417" stop-color="#7676ff"/><stop offset=".458" stop-color="#7373ff"/><stop offset=".5" stop-color="#7171ff"/><stop offset=".542" stop-color="#6f6fff"/><stop offset=".583" stop-color="#6666ff"/><stop offset=".625" stop-color="#6666ff"/><stop offset=".667" stop-color="#6262ff"/><stop offset=".708" stop-color="#6060ff"/><stop offset=".75" stop-color="#5e5eff"/><stop offset=".792" stop-color="#5c5cff"/><stop offset=".833" stop-color="#6060ff"/><stop offset=".875" stop-color="#5858ff"/><stop offset=".917" stop-color="#5959ff"/><stop offset=".958" stop-color="#5959ff"/><stop offset="1" stop-color="#5a5aff"/></linearGradient><linearGradient id="hb34"><stop offset="0" stop-color="#a9a9ff"/><stop offset=".042" stop-color="#b7b7ff"/><stop offset=".083" stop-color="#cdcdff"/><stop offset=".125" stop-color="#b5b5ff"/><stop offset=".167" stop-color="#9e9eff"/><stop offset=".208" stop-color="#9292ff"/><stop offset=".25" stop-color="#8d8dff"/><stop offset=".292" stop-color="#8383ff"/><stop offset=".333" stop-color="#7d7dff"/><stop offset=".375" stop-color="#7a7aff"/><stop offset=".417" stop-color="#7676ff"/><stop offset=".458" stop-color="#7070ff"/><stop offset=".5" stop-color="#7070ff"/><stop offset=".542" stop-color="#6b6bff"/><stop offset=".583" stop-color="#6767ff"/><stop offset=".625" stop-color="#6666ff"/><stop offset=".667" stop-color="#6060ff"/><stop offset=".708" stop-color="#5c5cff"/><stop offset=".75" stop-color="#6565ff"/><stop offset=".792" stop-color="#5656ff"/><stop offset=".833" stop-color="#5959ff"/><stop offset=".875" stop-color="#5d5dff"/><stop offset=".917" stop-color="#5252ff"/><stop offset=".958" stop-color="#5757ff"/><stop offset="1" stop-color="#5959ff"/></linearGradient><linearGradient id="hb35"><stop offset="0" stop-color="#afafff"/><stop offset=".042" stop-color="#c1c1ff"/><stop offset=".083" stop-color="#dbdbff"/><stop offset=".125" stop-color="#bebeff"/><stop offset=".167" stop-color="#a6a6ff"/><stop offset=".208" stop-color="#9898ff"/><stop offset=".25" stop-color="#9292ff"/><stop offset=".292" stop-color="#8989ff"/><stop offset=".333" stop-color="#8282ff"/><stop offset=".375" stop-color="#7c7cff"/><stop offset=".417" stop-color="#7878ff"/><stop offset=".458" stop-color="#7272ff"/><stop offset=".5" stop-color="#7070ff"/><stop offset=".542" stop-color="#6d6dff"/><stop offset=".583" stop-color="#6868ff"/><stop offset=".625" stop-color="#6666ff"/><stop offset=".667" stop-color="#5f5fff"/><stop offset=".708" stop-color="#6565ff"/><stop offset=".75" stop-color="#6767ff"/><stop offset=".792" stop-color="#5b5bff"/><stop offset=".833" stop-color="#5d5dff"/><stop offset=".875" stop-color="#5959ff"/><stop offset=".917" stop-color="#6060ff"/><stop offset=".958" stop-color="#5b5bff"/><stop offset="1" stop-color="#5a5aff"/></linearGradient><linearGradient id="hb36"><stop offset="0" stop-color="#aeaeff"/><stop offset=".042" stop-color="#c2c2ff"/><stop offset=".083" stop-color="#e1e1ff"/><stop offset=".125" stop-color="#c3c3ff"/><stop offset=".167" stop-color="#a4a4ff"/><stop offset=".208" stop-color="#9595ff"/><stop offset=".25" stop-color="#8d8dff"/><stop offset=".292" stop-color="#8484ff"/><stop offset=".333" stop-color="#7a7aff"/><stop offset=".375" stop-color="#7777ff"/><stop offset=".417" stop-color="#7272ff"/><stop offset=".458" stop-color="#6e6eff"/><stop offset=".5" stop-color="#6a6aff"/><stop offset=".542" stop-color="#6868ff"/><stop offset=".583" stop-color="#5f5fff"/><stop offset=".625" stop-color="#6060ff"/><stop offset=".667" stop-color="#5757ff"/><stop offset=".708" stop-color="#5d5dff"/><stop offset=".75" stop-color="#5050ff"/><stop offset=".792" stop-color="#5252ff"/><stop offset=".833" stop-color="#4d4dff"/><stop offset=".875" stop-color="#5c5cff"/><stop offset=".917" stop-color="#4c4cff"/><stop offset=".958" stop-color="#5454ff"/><stop offset="1" stop-color="#5050ff"/></linearGradient><linearGradient id="hb37"><stop offset="0" stop-color="#b3b3ff"/><stop offset=".042" stop-color="#c8c8ff"/><stop offset=".083" stop-color="#f4f4ff"/><stop offset=".125" stop-color="#c9c9ff"/><stop offset=".167" stop-color="#a3a3ff"/><stop offset=".208" stop-color="#9292ff"/><stop offset=".25" stop-color="#8b8bff"/><stop offset=".292" stop-color="#8282ff"/><stop offset=".333" stop-color="#7878ff"/><stop offset=".375" stop-color="#7272ff"/><stop offset=".417" stop-color="#6d6dff"/><stop offset=".458" stop-color="#6969ff"/><stop offset=".5" stop-color="#6767ff"/><stop offset=".542" stop-color="#6060ff"/><stop offset=".583" stop-color="#5c5cff"/><stop offset=".625" stop-color="#5a5aff"/><stop offset=".667" stop-color="#5555ff"/><stop offset=".708" stop-color="#5b5bff"/><stop offset=".75" stop-color="#4a4aff"/><stop offset=".792" stop-color="#5353ff"/><stop offset=".833" stop-color="#5454ff"/><stop offset=".875" stop-color="#4949ff"/><stop offset=".917" stop-color="#4b4bff"/><stop offset=".958" stop-color="#5151ff"/><stop offset="1" stop-color="#5757ff"/></linearGradient><linearGradient id="hb38"><stop offset="0" stop-color="#b9b9ff"/><stop offset=".042" stop-color="#d3d3ff"/><stop offset=".083" stop-color="#fafaff"/><stop offset=".125" stop-color="#d2d2ff"/><stop offset=".167" stop-color="#ababff"/><stop offset=".208" stop-color="#9595ff"/><stop offset=".25" stop-color="#8d8dff"/><stop offset=".292" stop-color="#8181ff"/><stop offset=".333" stop-color="#7777ff"/><stop offset=".375" stop-color="#7171ff"/><stop offset=".417" stop-color="#6f6fff"/><stop offset=".458" stop-color="#6b6bff"/><stop offset=".5" stop-color="#6262ff"/><stop offset=".542" stop-color="#5f5fff"/><stop offset=".583" stop-color="#6060ff"/><stop offset=".625" stop-color="#5858ff"/><stop offset=".667" stop-color="#5252ff"/><stop offset=".708" stop-color="#5353ff"/><stop offset=".75" stop-color="#5252ff"/><stop offset=".792" stop-color="#5050ff"/><stop offset=".833" stop-color="#4d4dff"/><stop offset=".875" stop-color="#4d4dff"/><stop offset=".917" stop-color="#4b4bff"/><stop offset=".958" stop-color="#4f4fff"/><stop offset="1" stop-color="#4949ff"/></linearGradient><linearGradient id="hb39"><stop offset="0" stop-color="#bebeff"/><stop offset=".042" stop-color="#d8d8ff"/><stop offset=".083" stop-color="#fdfdff"/><stop offset=".125" stop-color="#dfdfff"/><stop offset=".167" stop-color="#afafff"/><stop offset=".208" stop-color="#9a9aff"/><stop offset=".25" stop-color="#8d8dff"/><stop offset=".292" stop-color="#8484ff"/><stop offset=".333" stop-color="#7878ff"/><stop offset=".375" stop-color="#7070ff"/><stop offset=".417" stop-color="#6c6cff"/><stop offset=".458" stop-color="#6969ff"/><stop offset=".5" stop-color="#6464ff"/><stop offset=".542" stop-color="#5f5fff"/><stop offset=".583" stop-color="#5959ff"/><stop offset=".625" stop-color="#5454ff"/><stop offset=".667" stop-color="#5555ff"/><stop offset=".708" stop-color="#5555ff"/><stop offset=".75" stop-color="#5454ff"/><stop offset=".792" stop-color="#4a4aff"/><stop offset=".833" stop-color="#5353ff"/><stop offset=".875" stop-color="#4a4aff"/><stop offset=".917" stop-color="#4e4eff"/><stop offset=".958" stop-color="#4e4eff"/><stop offset="1" stop-color="#4848ff"/></linearGradient><linearGradient id="hb40"><stop offset="0" stop-color="#bdbdff"/><stop offset=".042" stop-color="#d9d9ff"/><stop offset=".083" stop-color="#fff7f7"/><stop offset=".125" stop-color="#ebebff"/><stop offset=".167" stop-color="#b3b3ff"/><stop offset=".208" stop-color="#9b9bff"/><stop offset=".25" stop-color="#8c8cff"/><stop offset=".292" stop-color="#8080ff"/><stop offset=".333" stop-color="#7676ff"/><stop offset=".375" stop-color="#6e6eff"/><stop offset=".417" stop-color="#6b6bff"/><stop offset=".458" stop-color="#6666ff"/><stop offset=".5" stop-color="#6060ff"/><stop offset=".542" stop-color="#5d5dff"/><stop offset=".583" stop-color="#5959ff"/><stop offset=".625" stop-color="#5454ff"/><stop offset=".667" stop-color="#5454ff"/><stop offset=".708" stop-color="#5555ff"/><stop offset=".75" stop-color="#4c4cff"/><stop offset=".792" stop-color="#4b4bff"/><stop offset=".833" stop-color="#4141ff"/><stop offset=".875" stop-color="#4a4aff"/><stop offset=".917" stop-color="#4747ff"/><stop offset=".958" stop-color="#3f3fff"/><stop offset="1" stop-color="#4b4bff"/></linearGradient><linearGradient id="hb41"><stop offset="0" stop-color="#c2c2ff"/><stop offset=".042" stop-color="#dfdfff"/><stop offset=".083" stop-color="#ffe1e1"/><stop offset=".125" stop-color="#f9f9ff"/><stop offset=".167" stop-color="#b6b6ff"/><stop offset=".208" stop-color="#9c9cff"/><stop offset=".25" stop-color="#9090ff"/><stop offset=".292" stop-color="#8383ff"/><stop offset=".333" stop-color="#7777ff"/><stop offset=".375" stop-color="#6e6eff"/><stop offset=".417" stop-color="#6868ff"/><stop offset=".458" stop-color="#6565ff"/><stop offset=".5" stop-color="#6161ff"/><stop offset=".542" stop-color="#5b5bff"/><stop offset=".583" stop-color="#5959ff"/><stop offset=".625" stop-color="#5858ff"/><stop offset=".667" stop-color="#5454ff"/><stop offset=".708" stop-color="#4949ff"/><stop offset=".75" stop-color="#4949ff"/><stop offset=".792" stop-color="#4545ff"/><stop offset=".833" stop-color="#5050ff"/><stop offset=".875" stop-color="#4d4dff"/><stop offset=".917" stop-color="#4d4dff"/><stop offset=".958" stop-color="#4545ff"/><stop offset="1" stop-color="#4343ff"/></linearGradient><linearGradient id="hb42"><stop offset="0" stop-color="#c4c4ff"/><stop offset=".042" stop-color="#e6e6ff"/><stop offset=".083" stop-color="#ffcccc"/><stop offset=".125" stop-color="#fcfcff"/><stop offset=".167" stop-color="#bbbbff"/><stop offset=".208" stop-color="#9c9cff"/><stop offset=".25" stop-color="#8a8aff"/><stop offset=".292" stop-color="#8181ff"/><stop offset=".333" stop-color="#7575ff"/><stop offset=".375" stop-color="#6c6cff"/><stop offset=".417" stop-color="#6767ff"/><stop offset=".458" stop-color="#6262ff"/><stop offset=".5" stop-color="#5f5fff"/><stop offset=".542" stop-color="#5959ff"/><stop offset=".583" stop-color="#5656ff"/><stop offset=".625" stop-color="#4f4fff"/><stop offset=".667" stop-color="#4c4cff"/><stop offset=".708" stop-color="#4c4cff"/><stop offset=".75" stop-color="#4646ff"/><stop offset=".792" stop-color="#4343ff"/><stop offset=".833" stop-color="#4646ff"/><stop offset=".875" stop-color="#4d4dff"/><stop offset=".917" stop-color="#4747ff"/><stop offset=".958" stop-color="#4e4eff"/><stop offset="1" stop-color="#4545ff"/></linearGradient><linearGradient id="hb43"><stop offset="0" stop-color="#c8c8ff"/><stop offset=".042" stop-color="#eeeeff"/><stop offset=".083" stop-color="#ffc0c0"/><stop offset=".125" stop-color="#fefeff"/><stop offset=".167" stop-color="#c1c1ff"/><stop offset=".208" stop-color="#9f9fff"/><stop offset=".25" stop-color="#8d8dff"/><stop offset=".292" stop-color="#8080ff"/><stop offset=".333" stop-color="#7474ff"/><stop offset=".375" stop-color="#6a6aff"/><stop offset=".417" stop-color="#6565ff"/><stop offset=".458" stop-color="#6060ff"/><stop offset=".5" stop-color="#5b5bff"/><stop offset=".542" stop-color="#5555ff"/><stop offset=".583" stop-color="#5252ff"/><stop offset=".625" stop-color="#4c4cff"/><stop offset=".667" stop-color="#4e4eff"/><stop offset=".708" stop-color="#4141ff"/><stop offset=".75" stop-color="#4646ff"/><stop offset=".792" stop-color="#5151ff"/><stop offset=".833" stop-color="#4343ff"/><stop offset=".875" stop-color="#3e3eff"/><stop offset=".917" stop-color="#4343ff"/><stop offset=".958" stop-color="#4a4aff"/><stop offset="1" stop-color="#4343ff"/></linearGradient><linearGradient id="hb44"><stop offset="0" stop-color="#ceceff"/><stop offset=".042" stop-color="#fafaff"/><stop offset=".083" stop-color="#ffa9a9"/><stop offset=".125" stop-color="#fffafa"/><stop offset=".167" stop-color="#c7c7ff"/><stop offset=".208" stop-color="#a0a0ff"/><stop offset=".25" stop-color="#8f8fff"/><stop offset=".292" stop-color="#8282ff"/><stop offset=".333" stop-color="#7575ff"/><stop offset=".375" stop-color="#6a6aff"/><stop offset=".417" stop-color="#6464ff"/><stop offset=".458" stop-color="#5d5dff"/><stop offset=".5" stop-color="#5b5bff"/><stop offset=".542" stop-color="#5555ff"/><stop offset=".583" stop-color="#5151ff"/><stop offset=".625" stop-color="#4a4aff"/><stop offset=".667" stop-color="#4848ff"/><stop offset=".708" stop-color="#4545ff"/><stop offset=".75" stop-color="#4646ff"/><stop offset=".792" stop-color="#3f3fff"/><stop offset=".833" stop-color="#4545ff"/><stop offset=".875" stop-color="#4444ff"/><stop offset=".917" stop-color="#3d3dff"/><stop offset=".958" stop-color="#3f3fff"/><stop offset="1" stop-color="#3e3eff"/></linearGradient><linearGradient id="hb45"><stop offset="0" stop-color="#d2d2ff"/><stop offset=".042" stop-color="#f9f9ff"/><stop offset=".083" stop-color="#ffa4a4"/><stop offset=".125" stop-color="#ffecec"/><stop offset=".167" stop-color="#ccccff"/><stop offset=".208" stop-color="#a4a4ff"/><stop offset=".25" stop-color="#9090ff"/><stop offset=".292" stop-color="#8282ff"/><stop offset=".333" stop-color="#7373ff"/><stop offset=".375" stop-color="#6a6aff"/><stop offset=".417" stop-color="#6464ff"/><stop offset=".458" stop-color="#5f5fff"/><stop offset=".5" stop-color="#5757ff"/><stop offset=".542" stop-color="#5252ff"/><stop offset=".583" stop-color="#5252ff"/><stop offset=".625" stop-color="#4b4bff"/><stop offset=".667" stop-color="#4747ff"/><stop offset=".708" stop-color="#4747ff"/><stop offset=".75" stop-color="#3f3fff"/><stop offset=".792" stop-color="#4747ff"/><stop offset=".833" stop-color="#4343ff"/><stop offset=".875" stop-color="#4444ff"/><stop offset=".917" stop-color="#3d3dff"/><stop offset=".958" stop-color="#4343ff"/><stop offset="1" stop-color="#3d3dff"/></linearGradient><linearGradient id="hb46"><stop offset="0" stop-color="#d7d7ff"/><stop offset=".042" stop-color="#fefeff"/><stop offset=".083" stop-color="#ff8383"/><stop offset=".125" stop-color="#ffd5d5"/><stop offset=".167" stop-color="#d3d3ff"/><stop offset=".208" stop-color="#a3a3ff"/><stop offset=".25" stop-color="#9292ff"/><stop offset=".292" stop-color="#8080ff"/><stop offset=".333" stop-color="#7474ff"/><stop offset=".375" stop-color="#6666ff"/><stop offset=".417" stop-color="#5f5fff"/><stop offset=".458" stop-color="#5b5bff"/><stop offset=".5" stop-color="#5757ff"/><stop offset=".542" stop-color="#5454ff"/><stop offset=".583" stop-color="#4c4cff"/><stop offset=".625" stop-color="#4848ff"/><stop offset=".667" stop-color="#4a4aff"/><stop offset=".708" stop-color="#4040ff"/><stop offset=".75" stop-color="#4b4bff"/><stop offset=".792" stop-color="#4141ff"/><stop offset=".833" stop-color="#3c3cff"/><stop offset=".875" stop-color="#4444ff"/><stop offset=".917" stop-color="#4747ff"/><stop offset=".958" stop-color="#3737ff"/><stop offset="1" stop-color="#4747ff"/></linearGradient><linearGradient id="hb47"><stop offset="0" stop-color="#d7d7ff"/><stop offset=".042" stop-color="#fbfbff"/><stop offset=".083" stop-color="#ff7575"/><stop offset=".125" stop-color="#ffc4c4"/><stop offset=".167" stop-color="#d6d6ff"/><stop offset=".208" stop-color="#a8a8ff"/><stop offset=".25" stop-color="#9292ff"/><stop offset=".292" stop-color="#8181ff"/><stop offset=".333" stop-color="#7272ff"/><stop offset=".375" stop-color="#6464ff"/><stop offset=".417" stop-color="#5d5dff"/><stop offset=".458" stop-color="#5858ff"/><stop offset=".5" stop-color="#5252ff"/><stop offset=".542" stop-color="#4e4eff"/><stop offset=".583" stop-color="#4646ff"/><stop offset=".625" stop-color="#4747ff"/><stop offset=".667" stop-color="#4242ff"/><stop offset=".708" stop-color="#4949ff"/><stop offset=".75" stop-color="#4242ff"/><stop offset=".792" stop-color="#3c3cff"/><stop offset=".833" stop-color="#4040ff"/><stop offset=".875" stop-color="#3636ff"/><stop offset=".917" stop-color="#3838ff"/><stop offset=".958" stop-color="#3232ff"/><stop offset="1" stop-color="#4343ff"/></linearGradient><linearGradient id="hb48"><stop offset="0" stop-color="#dcdcff"/><stop offset=".042" stop-color="#ffffff"/><stop offset=".083" stop-color="#ff7d7d"/><stop offset=".125" stop-color="#ffbfbf"/><stop offset=".167" stop-color="#dcdcff"/><stop offset=".208" stop-color="#ababff"/><stop offset=".25" stop-color="#9191ff"/><stop offset=".292" stop-color="#7f7fff"/><stop offset=".333" stop-color="#7272ff"/><stop offset=".375" stop-color="#6666ff"/><stop offset=".417" stop-color="#5d5dff"/><stop offset=".458" stop-color="#5757ff"/><stop offset=".5" stop-color="#5555ff"/><stop offset=".542" stop-color="#4d4dff"/><stop offset=".583" stop-color="#4c4cff"/><stop offset=".625" stop-color="#4747ff"/><stop offset=".667" stop-color="#4545ff"/><stop offset=".708" stop-color="#4646ff"/><stop offset=".75" stop-color="#4242ff"/><stop offset=".792" stop-color="#4141ff"/><stop offset=".833" stop-color="#3939ff"/><stop offset=".875" stop-color="#3838ff"/><stop offset=".917" stop-color="#3f3fff"/><stop offset=".958" stop-color="#4343ff"/><stop offset="1" stop-color="#4242ff"/></linearGradient><linearGradient id="hb49"><stop offset="0" stop-color="#e1e1ff"/><stop offset=".042" stop-color="#fff9f9"/><stop offset=".083" stop-color="#ff6d6d"/><stop offset=".125" stop-color="#ffaeae"/><stop offset=".167" stop-color="#e7e7ff"/><stop offset=".208" stop-color="#afafff"/><stop offset=".25" stop-color="#9595ff"/><stop offset=".292" stop-color="#8080ff"/><stop offset=".333" stop-color="#7676ff"/><stop offset=".375" stop-color="#6666ff"/><stop offset=".417" stop-color="#6060ff"/><stop offset=".458" stop-color="#5858ff"/><stop offset=".5" stop-color="#5656ff"/><stop offset=".542" stop-color="#4e4eff"/><stop offset=".583" stop-color="#4d4dff"/><stop offset=".625" stop-color="#4444ff"/><stop offset=".667" stop-color="#4242ff"/><stop offset=".708" stop-color="#4545ff"/><stop offset=".75" stop-color="#3d3dff"/><stop offset=".792" stop-color="#4040ff"/><stop offset=".833" stop-color="#3c3cff"/><stop offset=".875" stop-color="#3232ff"/><stop offset=".917" stop-color="#3e3eff"/><stop offset=".958" stop-color="#3f3fff"/><stop offset="1" stop-color="#3737ff"/></linearGradient><linearGradient id="hb50"><stop offset="0" stop-color="#e1e1ff"/><stop offset=".042" stop-color="#ffeded"/><stop offset=".083" stop-color="#ff6d6d"/><stop offset=".125" stop-color="#ffa8a8"/><stop offset=".167" stop-color="#ececff"/><stop offset=".208" stop-color="#aeaeff"/><stop offset=".25" stop-color="#9696ff"/><stop offset=".292" stop-color="#7c7cff"/><stop offset=".333" stop-color="#7272ff"/><stop offset=".375" stop-color="#6565ff"/><stop offset=".417" stop-color="#5959ff"/><stop offset=".458" stop-color="#5454ff"/><stop offset=".5" stop-color="#5151ff"/><stop offset=".542" stop-color="#4b4bff"/><stop offset=".583" stop-color="#4848ff"/><stop offset=".625" stop-color="#4646ff"/><stop offset=".667" stop-color="#3f3fff"/><stop offset=".708" stop-color="#3a3aff"/><stop offset=".75" stop-color="#3131ff"/><stop offset=".792" stop-color="#3c3cff"/><stop offset=".833" stop-color="#3636ff"/><stop offset=".875" stop-color="#3b3bff"/><stop offset=".917" stop-color="#3a3aff"/><stop offset=".958" stop-color="#3232ff"/><stop offset="1" stop-color="#4141ff"/></linearGradient><linearGradient id="hb51"><stop offset="0" stop-color="#e8e8ff"/><stop offset=".042" stop-color="#ffdddd"/><stop offset=".083" stop-color="#ff5b5b"/><stop offset=".125" stop-color="#ff9696"/><stop offset=".167" stop-color="#f6f6ff"/><stop offset=".208" stop-color="#b2b2ff"/><stop offset=".25" stop-color="#9494ff"/><stop offset=".292" stop-color="#7d7dff"/><stop offset=".333" stop-color="#7272ff"/><stop offset=".375" stop-color="#6565ff"/><stop offset=".417" stop-color="#5c5cff"/><stop offset=".458" stop-color="#5555ff"/><stop offset=".5" stop-color="#5252ff"/><stop offset=".542" stop-color="#4b4bff"/><stop offset=".583" stop-color="#4242ff"/><stop offset=".625" stop-color="#4242ff"/><stop offset=".667" stop-color="#3f3fff"/><stop offset=".708" stop-color="#4040ff"/><stop offset=".75" stop-color="#3a3aff"/><stop offset=".792" stop-color="#3a3aff"/><stop offset=".833" stop-color="#3636ff"/><stop offset=".875" stop-color="#3c3cff"/><stop offset=".917" stop-color="#3636ff"/><stop offset=".958" stop-color="#3535ff"/><stop offset="1" stop-color="#3434ff"/></linearGradient><linearGradient id="hb52"><stop offset="0" stop-color="#ececff"/><stop offset=".042" stop-color="#ffd2d2"/><stop offset=".083" stop-color="#ff5e5e"/><stop offset=".125" stop-color="#ff9393"/><stop offset=".167" stop-color="#fbfbff"/><stop offset=".208" stop-color="#b3b3ff"/><stop offset=".25" stop-color="#9494ff"/><stop offset=".292" stop-color="#7e7eff"/><stop offset=".333" stop-color="#7272ff"/><stop offset=".375" stop-color="#6464ff"/><stop offset=".417" stop-color="#5959ff"/><stop offset=".458" stop-color="#5454ff"/><stop offset=".5" stop-color="#4c4cff"/><stop offset=".542" stop-color="#4b4bff"/><stop offset=".583" stop-color="#4646ff"/><stop offset=".625" stop-color="#4444ff"/><stop offset=".667" stop-color="#3c3cff"/><stop offset=".708" stop-color="#3333ff"/><stop offset=".75" stop-color="#4040ff"/><stop offset=".792" stop-color="#3939ff"/><stop offset=".833" stop-color="#3838ff"/><stop offset=".875" stop-color="#3737ff"/><stop offset=".917" stop-color="#3939ff"/><stop offset=".958" stop-color="#3939ff"/><stop offset="1" stop-color="#2e2eff"/></linearGradient><linearGradient id="hb53"><stop offset="0" stop-color="#f5f5ff"/><stop offset=".042" stop-color="#ffc4c4"/><stop offset=".083" stop-color="#ff5757"/><stop offset=".125" stop-color="#ff8a8a"/><stop offset=".167" stop-color="#ffffff"/><stop offset=".208" stop-color="#babaff"/><stop offset=".25" stop-color="#9595ff"/><stop offset=".292" stop-color="#7d7dff"/><stop offset=".333" stop-color="#7171ff"/><stop offset=".375" stop-color="#6464ff"/><stop offset=".417" stop-color="#5959ff"/><stop offset=".458" stop-color="#5252ff"/><stop offset=".5" stop-color="#4c4cff"/><stop offset=".542" stop-color="#4646ff"/><stop offset=".583" stop-color="#4545ff"/><stop offset=".625" stop-color="#4242ff"/><stop offset=".667" stop-color="#3f3fff"/><stop offset=".708" stop-color="#3737ff"/><stop offset=".75" stop-color="#3a3aff"/><stop offset=".792" stop-color="#3a3aff"/><stop offset=".833" stop-color="#3434ff"/><stop offset=".875" stop-color="#3535ff"/><stop offset=".917" stop-color="#4040ff"/><stop offset=".958" stop-color="#3636ff"/><stop offset="1" stop-color="#3a3aff"/></linearGradient><linearGradient id="hb54"><stop offset="0" stop-color="#f6f6ff"/><stop offset=".042" stop-color="#ffb5b5"/><stop offset=".083" stop-color="#ff4c4c"/><stop offset=".125" stop-color="#ff7e7e"/><stop offset=".167" stop-color="#fefeff"/><stop offset=".208" stop-color="#bcbcff"/><stop offset=".25" stop-color="#9696ff"/><stop offset=".292" stop-color="#7f7fff"/><stop offset=".333" stop-color="#6f6fff"/><stop offset=".375" stop-color="#6161ff"/><stop offset=".417" stop-color="#5555ff"/><stop offset=".458" stop-color="#5050ff"/><stop offset=".5" stop-color="#4b4bff"/><stop offset=".542" stop-color="#4343ff"/><stop offset=".583" stop-color="#4242ff"/><stop offset=".625" stop-color="#3a3aff"/><stop offset=".667" stop-color="#3434ff"/><stop offset=".708" stop-color="#3333ff"/><stop offset=".75" stop-color="#2f2fff"/><stop offset=".792" stop-color="#2e2eff"/><stop offset=".833" stop-color="#3939ff"/><stop offset=".875" stop-color="#3131ff"/><stop offset=".917" stop-color="#3333ff"/><stop offset=".958" stop-color="#3838ff"/><stop offset="1" stop-color="#3838ff"/></linearGradient><linearGradient id="hb55"><stop offset="0" stop-color="#fafaff"/><stop offset=".042" stop-color="#ffa3a3"/><stop offset=".083" stop-color="#ff3b3b"/><stop offset=".125" stop-color="#ff6e6e"/><stop offset=".167" stop-color="#fffcfc"/><stop offset=".208" stop-color="#bfbfff"/><stop offset=".25" stop-color="#9595ff"/><stop offset=".292" stop-color="#7c7cff"/><stop offset=".333" stop-color="#6c6cff"/><stop offset=".375" stop-color="#6060ff"/><stop offset=".417" stop-color="#5555ff"/><stop offset=".458" stop-color="#4e4eff"/><stop offset=".5" stop-color="#4848ff"/><stop offset=".542" stop-color="#4545ff"/><stop offset=".583" stop-color="#4242ff"/><stop offset=".625" stop-color="#3d3dff"/><stop offset=".667" stop-color="#3b3bff"/><stop offset=".708" stop-color="#3333ff"/><stop offset=".75" stop-color="#3333ff"/><stop offset=".792" stop-color="#3434ff"/><stop offset=".833" stop-color="#3030ff"/><stop offset=".875" stop-color="#2e2eff"/><stop offset=".917" stop-color="#3939ff"/><stop offset=".958" stop-color="#2f2fff"/><stop offset="1" stop-color="#2b2bff"/></linearGradient><linearGradient id="hb56"><stop offset="0" stop-color="#fdfdff"/><stop offset=".042" stop-color="#ff9494"/><stop offset=".083" stop-color="#ff3030"/><stop offset=".125" stop-color="#ff6161"/><stop offset=".167" stop-color="#fff4f4"/><stop offset=".208" stop-color="#c7c7ff"/><stop offset=".25" stop-color="#9797ff"/><stop offset=".292" stop-color="#7f7fff"/><stop offset=".333" stop-color="#6e6eff"/><stop offset=".375" stop-color="#6161ff"/><stop offset=".417" stop-color="#5757ff"/><stop offset=".458" stop-color="#4d4dff"/><stop offset=".5" stop-color="#4b4bff"/><stop offset=".542" stop-color="#4242ff"/><stop offset=".583" stop-color="#3f3fff"/><stop offset=".625" stop-color="#3d3dff"/><stop offset=".667" stop-color="#3939ff"/><stop offset=".708" stop-color="#3636ff"/><stop offset=".75" stop-color="#2d2dff"/><stop offset=".792" stop-color="#3535ff"/><stop offset=".833" stop-color="#2d2dff"/><stop offset=".875" stop-color="#3e3eff"/><stop offset=".917" stop-color="#2f2fff"/><stop offset=".958" stop-color="#3131ff"/><stop offset="1" stop-color="#2a2aff"/></linearGradient><linearGradient id="hb57"><stop offset="0" stop-color="#fffefe"/><stop offset=".042" stop-color="#ff8e8e"/><stop offset=".083" stop-color="#ff4646"/><stop offset=".125" stop-color="#ff7272"/><stop offset=".167" stop-color="#fff2f2"/><stop offset=".208" stop-color="#c7c7ff"/><stop offset=".25" stop-color="#9696ff"/><stop offset=".292" stop-color="#7f7fff"/><stop offset=".333" stop-color="#6b6bff"/><stop offset=".375" stop-color="#5e5eff"/><stop offset=".417" stop-color="#5454ff"/><stop offset=".458" stop-color="#4b4bff"/><stop offset=".5" stop-color="#4444ff"/><stop offset=".542" stop-color="#4141ff"/><stop offset=".583" stop-color="#3a3aff"/><stop offset=".625" stop-color="#3737ff"/><stop offset=".667" stop-color="#3737ff"/><stop offset=".708" stop-color="#2f2fff"/><stop offset=".75" stop-color="#3535ff"/><stop offset=".792" stop-color="#2d2dff"/><stop offset=".833" stop-color="#3636ff"/><stop offset=".875" stop-color="#3535ff"/><stop offset=".917" stop-color="#2b2bff"/><stop offset=".958" stop-color="#2c2cff"/><stop offset="1" stop-color="#2929ff"/></linearGradient><linearGradient id="hb58"><stop offset="0" stop-color="#ffeaea"/><stop offset=".042" stop-color="#ff6f6f"/><stop offset=".083" stop-color="#ff2c2c"/><stop offset=".125" stop-color="#ff5d5d"/><stop offset=".167" stop-color="#ffeeee"/><stop offset=".208" stop-color="#c6c6ff"/><stop offset=".25" stop-color="#9999ff"/><stop offset=".292" stop-color="#7d7dff"/><stop offset=".333" stop-color="#6c6cff"/><stop offset=".375" stop-color="#5d5dff"/><stop offset=".417" stop-color="#5555ff"/><stop offset=".458" stop-color="#4c4cff"/><stop offset=".5" stop-color="#4646ff"/><stop offset=".542" stop-color="#3f3fff"/><stop offset=".583" stop-color="#3e3eff"/><stop offset=".625" stop-color="#3333ff"/><stop offset=".667" stop-color="#3434ff"/><stop offset=".708" stop-color="#3939ff"/><stop offset=".75" stop-color="#2f2fff"/><stop offset=".792" stop-color="#3030ff"/><stop offset=".833" stop-color="#3232ff"/><stop offset=".875" stop-color="#2a2aff"/><stop offset=".917" stop-color="#2d2dff"/><stop offset=".958" stop-color="#3232ff"/><stop offset="1" stop-color="#2e2eff"/></linearGradient><linearGradient id="hb59"><stop offset="0" stop-color="#ffd5d5"/><stop offset=".042" stop-color="#ff6a6a"/><stop offset=".083" stop-color="#ff3535"/><stop offset=".125" stop-color="#ff6464"/><stop offset=".167" stop-color="#ffebeb"/><stop offset=".208" stop-color="#cacaff"/><stop offset=".25" stop-color="#9999ff"/><stop offset=".292" stop-color="#8080ff"/><stop offset=".333" stop-color="#6d6dff"/><stop offset=".375" stop-color="#5e5eff"/><stop offset=".417" stop-color="#4e4eff"/><stop offset=".458" stop-color="#4c4cff"/><stop offset=".5" stop-color="#4646ff"/><stop offset=".542" stop-color="#3e3eff"/><stop offset=".583" stop-color="#3737ff"/><stop offset=".625" stop-color="#3434ff"/><stop offset=".667" stop-color="#3636ff"/><stop offset=".708" stop-color="#2d2dff"/><stop offset=".75" stop-color="#2e2eff"/><stop offset=".792" stop-color="#3030ff"/><stop offset=".833" stop-color="#3434ff"/><stop offset=".875" stop-color="#2d2dff"/><stop offset=".917" stop-color="#2c2cff"/><stop offset=".958" stop-color="#2929ff"/><stop offset="1" stop-color="#3434ff"/></linearGradient><linearGradient id="hb60"><stop offset="0" stop-color="#ffbebe"/><stop offset=".042" stop-color="#ff5c5c"/><stop offset=".083" stop-color="#ff2e2e"/><stop offset=".125" stop-color="#ff5e5e"/><stop offset=".167" stop-color="#ffe8e8"/><stop offset=".208" stop-color="#cacaff"/><stop offset=".25" stop-color="#9999ff"/><stop offset=".292" stop-color="#8080ff"/><stop offset=".333" stop-color="#6b6bff"/><stop offset=".375" stop-color="#6060ff"/><stop offset=".417" stop-color="#5252ff"/><stop offset=".458" stop-color="#4b4bff"/><stop offset=".5" stop-color="#4545ff"/><stop offset=".542" stop-color="#4040ff"/><stop offset=".583" stop-color="#3939ff"/><stop offset=".625" stop-color="#3636ff"/><stop offset=".667" stop-color="#3a3aff"/><stop offset=".708" stop-color="#2c2cff"/><stop offset=".75" stop-color="#2d2dff"/><stop offset=".792" stop-color="#3333ff"/><stop offset=".833" stop-color="#2d2dff"/><stop offset=".875" stop-color="#2828ff"/><stop offset=".917" stop-color="#2525ff"/><stop offset=".958" stop-color="#2f2fff"/><stop offset="1" stop-color="#3131ff"/></linearGradient><linearGradient id="hb61"><stop offset="0" stop-color="#ffaaaa"/><stop offset=".042" stop-color="#ff5151"/><stop offset=".083" stop-color="#ff2828"/><stop offset=".125" stop-color="#ff5959"/><stop offset=".167" stop-color="#ffe4e4"/><stop offset=".208" stop-color="#cfcfff"/><stop offset=".25" stop-color="#9a9aff"/><stop offset=".292" stop-color="#8080ff"/><stop offset=".333" stop-color="#6b6bff"/><stop offset=".375" stop-color="#5f5fff"/><stop offset=".417" stop-color="#5252ff"/><stop offset=".458" stop-color="#4c4cff"/><stop offset=".5" stop-color="#4242ff"/><stop offset=".542" stop-color="#4040ff"/><stop offset=".583" stop-color="#3939ff"/><stop offset=".625" stop-color="#3434ff"/><stop offset=".667" stop-color="#3131ff"/><stop offset=".708" stop-color="#2a2aff"/><stop offset=".75" stop-color="#2f2fff"/><stop offset=".792" stop-color="#2f2fff"/><stop offset=".833" stop-color="#2c2cff"/><stop offset=".875" stop-color="#2e2eff"/><stop offset=".917" stop-color="#2929ff"/><stop offset=".958" stop-color="#2b2bff"/><stop offset="1" stop-color="#2424ff"/></linearGradient><linearGradient id="hb62"><stop offset="0" stop-color="#ff9c9c"/><stop offset=".042" stop-color="#ff4f4f"/><stop offset=".083" stop-color="#ff2d2d"/><stop offset=".125" stop-color="#ff5c5c"/><stop offset=".167" stop-color="#ffe2e2"/><stop offset=".208" stop-color="#cdcdff"/><stop offset=".25" stop-color="#9a9aff"/><stop offset=".292" stop-color="#7e7eff"/><stop offset=".333" stop-color="#6868ff"/><stop offset=".375" stop-color="#5a5aff"/><stop offset=".417" stop-color="#4e4eff"/><stop offset=".458" stop-color="#4848ff"/><stop offset=".5" stop-color="#4141ff"/><stop offset=".542" stop-color="#3d3dff"/><stop offset=".583" stop-color="#3a3aff"/><stop offset=".625" stop-color="#3434ff"/><stop offset=".667" stop-color="#2f2fff"/><stop offset=".708" stop-color="#2929ff"/><stop offset=".75" stop-color="#2828ff"/><stop offset=".792" stop-color="#2929ff"/><stop offset=".833" stop-color="#2b2bff"/><stop offset=".875" stop-color="#2a2aff"/><stop offset=".917" stop-color="#2828ff"/><stop offset=".958" stop-color="#2727ff"/><stop offset="1" stop-color="#2b2bff"/></linearGradient><linearGradient id="hb63"><stop offset="0" stop-color="#ff8989"/><stop offset=".042" stop-color="#ff4040"/><stop offset=".083" stop-color="#ff2121"/><stop offset=".125" stop-color="#ff5252"/><stop offset=".167" stop-color="#ffdddd"/><stop offset=".208" stop-color="#d0d0ff"/><stop offset=".25" stop-color="#9a9aff"/><stop offset=".292" stop-color="#7d7dff"/><stop offset=".333" stop-color="#6a6aff"/><stop offset=".375" stop-color="#5c5cff"/><stop offset=".417" stop-color="#4e4eff"/><stop offset=".458" stop-color="#4747ff"/><stop offset=".5" stop-color="#4343ff"/><stop offset=".542" stop-color="#3a3aff"/><stop offset=".583" stop-color="#3636ff"/><stop offset=".625" stop-color="#3434ff"/><stop offset=".667" stop-color="#2c2cff"/><stop offset=".708" stop-color="#2d2dff"/><stop offset=".75" stop-color="#3333ff"/><stop offset=".792" stop-color="#2f2fff"/><stop offset=".833" stop-color="#2d2dff"/><stop offset=".875" stop-color="#2b2bff"/><stop offset=".917" stop-color="#2828ff"/><stop offset=".958" stop-color="#2d2dff"/><stop offset="1" stop-color="#2727ff"/></linearGradient><linearGradient id="hb64"><stop offset="0" stop-color="#ff7e7e"/><stop offset=".042" stop-color="#ff3d3d"/><stop offset=".083" stop-color="#ff2222"/><stop offset=".125" stop-color="#ff5252"/><stop offset=".167" stop-color="#ffdada"/><stop offset=".208" stop-color="#d1d1ff"/><stop offset=".25" stop-color="#9b9bff"/><stop offset=".292" stop-color="#7e7eff"/><stop offset=".333" stop-color="#6666ff"/><stop offset=".375" stop-color="#5c5cff"/><stop offset=".417" stop-color="#5050ff"/><stop offset=".458" stop-color="#4747ff"/><stop offset=".5" stop-color="#3e3eff"/><stop offset=".542" stop-color="#3838ff"/><stop offset=".583" stop-color="#3636ff"/><stop offset=".625" stop-color="#2f2fff"/><stop offset=".667" stop-color="#3030ff"/><stop offset=".708" stop-color="#2929ff"/><stop offset=".75" stop-color="#2e2eff"/><stop offset=".792" stop-color="#2f2fff"/><stop offset=".833" stop-color="#1e1eff"/><stop offset=".875" stop-color="#2828ff"/><stop offset=".917" stop-color="#2323ff"/><stop offset=".958" stop-color="#1f1fff"/><stop offset="1" stop-color="#2323ff"/></linearGradient><linearGradient id="hb65"><stop offset="0" stop-color="#ff6d6d"/><stop offset=".042" stop-color="#ff3131"/><stop offset=".083" stop-color="#ff1818"/><stop offset=".125" stop-color="#ff4a4a"/><stop offset=".167" stop-color="#ffd5d5"/><stop offset=".208" stop-color="#d0d0ff"/><stop offset=".25" stop-color="#9d9dff"/><stop offset=".292" stop-color="#8080ff"/><stop offset=".333" stop-color="#6969ff"/><stop offset=".375" stop-color="#5b5bff"/><stop offset=".417" stop-color="#4d4dff"/><stop offset=".458" stop-color="#4444ff"/><stop offset=".5" stop-color="#3f3fff"/><stop offset=".542" stop-color="#3939ff"/><stop offset=".583" stop-color="#3636ff"/><stop offset=".625" stop-color="#3737ff"/><stop offset=".667" stop-color="#3030ff"/><stop offset=".708" stop-color="#2c2cff"/><stop offset=".75" stop-color="#3030ff"/><stop offset=".792" stop-color="#2323ff"/><stop offset=".833" stop-color="#2222ff"/><stop offset=".875" stop-color="#2525ff"/><stop offset=".917" stop-color="#2222ff"/><stop offset=".958" stop-color="#2929ff"/><stop offset="1" stop-color="#2424ff"/></linearGradient><linearGradient id="hb66"><stop offset="0" stop-color="#ff6161"/><stop offset=".042" stop-color="#ff2929"/><stop offset=".083" stop-color="#ff1313"/><stop offset=".125" stop-color="#ff4545"/><stop offset=".167" stop-color="#ffd1d1"/><stop offset=".208" stop-color="#d8d8ff"/><stop offset=".25" stop-color="#9f9fff"/><stop offset=".292" stop-color="#8181ff"/><stop offset=".333" stop-color="#6c6cff"/><stop offset=".375" stop-color="#5b5bff"/><stop offset=".417" stop-color="#5050ff"/><stop offset=".458" stop-color="#4848ff"/><stop offset=".5" stop-color="#4141ff"/><stop offset=".542" stop-color="#3e3eff"/><stop offset=".583" stop-color="#3a3aff"/><stop offset=".625" stop-color="#3232ff"/><stop offset=".667" stop-color="#3030ff"/><stop offset=".708" stop-color="#2b2bff"/><stop offset=".75" stop-color="#2f2fff"/><stop offset=".792" stop-color="#2727ff"/><stop offset=".833" stop-color="#2e2eff"/><stop offset=".875" stop-color="#2b2bff"/><stop offset=".917" stop-color="#2d2dff"/><stop offset=".958" stop-color="#2727ff"/><stop offset="1" stop-color="#2121ff"/></linearGradient><linearGradient id="hb67"><stop offset="0" stop-color="#ff6b6b"/><stop offset=".042" stop-color="#ff3838"/><stop offset=".083" stop-color="#ff2323"/><stop offset=".125" stop-color="#ff5454"/><stop offset=".167" stop-color="#ffd8d8"/><stop offset=".208" stop-color="#d6d6ff"/><stop offset=".25" stop-color="#9f9fff"/><stop offset=".292" stop-color="#8181ff"/><stop offset=".333" stop-color="#6d6dff"/><stop offset=".375" stop-color="#5c5cff"/><stop offset=".417" stop-color="#5050ff"/><stop offset=".458" stop-color="#4545ff"/><stop offset=".5" stop-color="#4141ff"/><stop offset=".542" stop-color="#3a3aff"/><stop offset=".583" stop-color="#3737ff"/><stop offset=".625" stop-color="#3333ff"/><stop offset=".667" stop-color="#3030ff"/><stop offset=".708" stop-color="#3333ff"/><stop offset=".75" stop-color="#2424ff"/><stop offset=".792" stop-color="#2b2bff"/><stop offset=".833" stop-color="#2626ff"/><stop offset=".875" stop-color="#2e2eff"/><stop offset=".917" stop-color="#2525ff"/><stop offset=".958" stop-color="#2a2aff"/><stop offset="1" stop-color="#2525ff"/></linearGradient><linearGradient id="hb68"><stop offset="0" stop-color="#ff6262"/><stop offset=".042" stop-color="#ff2c2c"/><stop offset=".083" stop-color="#ff1717"/><stop offset=".125" stop-color="#ff4c4c"/><stop offset=".167" stop-color="#ffdada"/><stop offset=".208" stop-color="#d0d0ff"/><stop offset=".25" stop-color="#9b9bff"/><stop offset=".292" stop-color="#7b7bff"/><stop offset=".333" stop-color="#6868ff"/><stop offset=".375" stop-color="#5a5aff"/><stop offset=".417" stop-color="#4b4bff"/><stop offset=".458" stop-color="#4646ff"/><stop offset=".5" stop-color="#3b3bff"/><stop offset=".542" stop-color="#3535ff"/><stop offset=".583" stop-color="#3232ff"/><stop offset=".625" stop-color="#3030ff"/><stop offset=".667" stop-color="#2d2dff"/><stop offset=".708" stop-color="#2a2aff"/><stop offset=".75" stop-color="#2929ff"/><stop offset=".792" stop-color="#2c2cff"/><stop offset=".833" stop-color="#2525ff"/><stop offset=".875" stop-color="#1f1fff"/><stop offset=".917" stop-color="#1f1fff"/><stop offset=".958" stop-color="#3030ff"/><stop offset="1" stop-color="#1919ff"/></linearGradient><linearGradient id="hb69"><stop offset="0" stop-color="#ff5d5d"/><stop offset=".042" stop-color="#ff2727"/><stop offset=".083" stop-color="#ff1212"/><stop offset=".125" stop-color="#ff4a4a"/><stop offset=".167" stop-color="#ffdddd"/><stop offset=".208" stop-color="#ceceff"/><stop offset=".25" stop-color="#9797ff"/><stop offset=".292" stop-color="#7b7bff"/><stop offset=".333" stop-color="#6767ff"/><stop offset=".375" stop-color="#5959ff"/><stop offset=".417" stop-color="#4949ff"/><stop offset=".458" stop-color="#4343ff"/><stop offset=".5" stop-color="#3c3cff"/><stop offset=".542" stop-color="#3838ff"/><stop offset=".583" stop-color="#3535ff"/><stop offset=".625" stop-color="#2e2eff"/><stop offset=".667" stop-color="#2727ff"/><stop offset=".708" stop-color="#2a2aff"/><stop offset=".75" stop-color="#2f2fff"/><stop offset=".792" stop-color="#2929ff"/><stop offset=".833" stop-color="#2626ff"/><stop offset=".875" stop-color="#3030ff"/><stop offset=".917" stop-color="#1e1eff"/><stop offset=".958" stop-color="#2828ff"/><stop offset="1" stop-color="#2020ff"/></linearGradient><linearGradient id="hb70"><stop offset="0" stop-color="#ff6666"/><stop offset=".042" stop-color="#ff3333"/><stop offset=".083" stop-color="#ff1f1f"/><stop offset=".125" stop-color="#ff5656"/><stop offset=".167" stop-color="#ffe3e3"/><stop offset=".208" stop-color="#cdcdff"/><stop offset=".25" stop-color="#9696ff"/><stop offset=".292" stop-color="#7979ff"/><stop offset=".333" stop-color="#6363ff"/><stop offset=".375" stop-color="#5757ff"/><stop offset=".417" stop-color="#4949ff"/><stop offset=".458" stop-color="#4343ff"/><stop offset=".5" stop-color="#3a3aff"/><stop offset=".542" stop-color="#3535ff"/><stop offset=".583" stop-color="#3434ff"/><stop offset=".625" stop-color="#2e2eff"/><stop offset=".667" stop-color="#2d2dff"/><stop offset=".708" stop-color="#2b2bff"/><stop offset=".75" stop-color="#2626ff"/><stop offset=".792" stop-color="#1f1fff"/><stop offset=".833" stop-color="#2a2aff"/><stop offset=".875" stop-color="#2424ff"/><stop offset=".917" stop-color="#2828ff"/><stop offset=".958" stop-color="#1818ff"/><stop offset="1" stop-color="#1a1aff"/></linearGradient><linearGradient id="hb71"><stop offset="0" stop-color="#ff6b6b"/><stop offset=".042" stop-color="#ff3b3b"/><stop offset=".083" stop-color="#ff2929"/><stop offset=".125" stop-color="#ff5f5f"/><stop offset=".167" stop-color="#ffe8e8"/><stop offset=".208" stop-color="#c7c7ff"/><stop offset=".25" stop-color="#9393ff"/><stop offset=".292" stop-color="#7676ff"/><stop offset=".333" stop-color="#6161ff"/><stop offset=".375" stop-color="#5353ff"/><stop offset=".417" stop-color="#4444ff"/><stop offset=".458" stop-color="#3e3eff"/><stop offset=".5" stop-color="#3838ff"/><stop offset=".542" stop-color="#2e2eff"/><stop offset=".583" stop-color="#2e2eff"/><stop offset=".625" stop-color="#2e2eff"/><stop offset=".667" stop-color="#2626ff"/><stop offset=".708" stop-color="#2424ff"/><stop offset=".75" stop-color="#2121ff"/><stop offset=".792" stop-color="#2020ff"/><stop offset=".833" stop-color="#2626ff"/><stop offset=".875" stop-color="#1e1eff"/><stop offset=".917" stop-color="#1a1aff"/><stop offset=".958" stop-color="#0f0fff"/><stop offset="1" stop-color="#1c1cff"/></linearGradient><linearGradient id="hb72"><stop offset="0" stop-color="#ff7171"/><stop offset=".042" stop-color="#ff4343"/><stop offset=".083" stop-color="#ff3232"/><stop offset=".125" stop-color="#ff6868"/><stop offset=".167" stop-color="#ffeded"/><stop offset=".208" stop-color="#c5c5ff"/><stop offset=".25" stop-color="#9292ff"/><stop offset=".292" stop-color="#7373ff"/><stop offset=".333" stop-color="#6262ff"/><stop offset=".375" stop-color="#5252ff"/><stop offset=".417" stop-color="#4343ff"/><stop offset=".458" stop-color="#3f3fff"/><stop offset=".5" stop-color="#3535ff"/><stop offset=".542" stop-color="#3030ff"/><stop offset=".583" stop-color="#2b2bff"/><stop offset=".625" stop-color="#2828ff"/><stop offset=".667" stop-color="#2a2aff"/><stop offset=".708" stop-color="#2020ff"/><stop offset=".75" stop-color="#1f1fff"/><stop offset=".792" stop-color="#1e1eff"/><stop offset=".833" stop-color="#2121ff"/><stop offset=".875" stop-color="#1d1dff"/><stop offset=".917" stop-color="#2323ff"/><stop offset=".958" stop-color="#1b1bff"/><stop offset="1" stop-color="#1818ff"/></linearGradient><linearGradient id="hb73"><stop offset="0" stop-color="#ff6262"/><stop offset=".042" stop-color="#ff3131"/><stop offset=".083" stop-color="#ff1e1e"/><stop offset=".125" stop-color="#ff5c5c"/><stop offset=".167" stop-color="#ffefef"/><stop offset=".208" stop-color="#c3c3ff"/><stop offset=".25" stop-color="#9292ff"/><stop offset=".292" stop-color="#7979ff"/><stop offset=".333" stop-color="#6262ff"/><stop offset=".375" stop-color="#5353ff"/><stop offset=".417" stop-color="#4747ff"/><stop offset=".458" stop-color="#3e3eff"/><stop offset=".5" stop-color="#3737ff"/><stop offset=".542" stop-color="#3131ff"/><stop offset=".583" stop-color="#3030ff"/><stop offset=".625" stop-color="#2d2dff"/><stop offset=".667" stop-color="#2828ff"/><stop offset=".708" stop-color="#2626ff"/><stop offset=".75" stop-color="#2a2aff"/><stop offset=".792" stop-color="#2727ff"/><stop offset=".833" stop-color="#1b1bff"/><stop offset=".875" stop-color="#2121ff"/><stop offset=".917" stop-color="#2020ff"/><stop offset=".958" stop-color="#2323ff"/><stop offset="1" stop-color="#1f1fff"/></linearGradient><linearGradient id="hb74"><stop offset="0" stop-color="#ff6565"/><stop offset=".042" stop-color="#ff3535"/><stop offset=".083" stop-color="#ff2323"/><stop offset=".125" stop-color="#ff6262"/><stop offset=".167" stop-color="#fff3f3"/><stop offset=".208" stop-color="#bfbfff"/><stop offset=".25" stop-color="#9090ff"/><stop offset=".292" stop-color="#7474ff"/><stop offset=".333" stop-color="#6262ff"/><stop offset=".375" stop-color="#5151ff"/><stop offset=".417" stop-color="#4444ff"/><stop offset=".458" stop-color="#3d3dff"/><stop offset=".5" stop-color="#3636ff"/><stop offset=".542" stop-color="#3333ff"/><stop offset=".583" stop-color="#2e2eff"/><stop offset=".625" stop-color="#2c2cff"/><stop offset=".667" stop-color="#2525ff"/><stop offset=".708" stop-color="#2626ff"/><stop offset=".75" stop-color="#1d1dff"/><stop offset=".792" stop-color="#2020ff"/><stop offset=".833" stop-color="#1f1fff"/><stop offset=".875" stop-color="#2323ff"/><stop offset=".917" stop-color="#2020ff"/><stop offset=".958" stop-color="#1e1eff"/><stop offset="1" stop-color="#2323ff"/></linearGradient><linearGradient id="hb75"><stop offset="0" stop-color="#ff5d5d"/><stop offset=".042" stop-color="#ff2b2b"/><stop offset=".083" stop-color="#ff1919"/><stop offset=".125" stop-color="#ff5d5d"/><stop offset=".167" stop-color="#fff6f6"/><stop offset=".208" stop-color="#c1c1ff"/><stop offset=".25" stop-color="#8f8fff"/><stop offset=".292" stop-color="#7575ff"/><stop offset=".333" stop-color="#6262ff"/><stop offset=".375" stop-color="#5252ff"/><stop offset=".417" stop-color="#4646ff"/><stop offset=".458" stop-color="#4040ff"/><stop offset=".5" stop-color="#3939ff"/><stop offset=".542" stop-color="#3232ff"/><stop offset=".583" stop-color="#2d2dff"/><stop offset=".625" stop-color="#2c2cff"/><stop offset=".667" stop-color="#2828ff"/><stop offset=".708" stop-color="#2a2aff"/><stop offset=".75" stop-color="#2323ff"/><stop offset=".792" stop-color="#2222ff"/><stop offset=".833" stop-color="#2525ff"/><stop offset=".875" stop-color="#1e1eff"/><stop offset=".917" stop-color="#1e1eff"/><stop offset=".958" stop-color="#2828ff"/><stop offset="1" stop-color="#2727ff"/></linearGradient><linearGradient id="hb76"><stop offset="0" stop-color="#ff5d5d"/><stop offset=".042" stop-color="#ff2d2d"/><stop offset=".083" stop-color="#ff1b1b"/><stop offset=".125" stop-color="#ff6262"/><stop offset=".167" stop-color="#fff9f9"/><stop offset=".208" stop-color="#bdbdff"/><stop offset=".25" stop-color="#8f8fff"/><stop offset=".292" stop-color="#7575ff"/><stop offset=".333" stop-color="#6262ff"/><stop offset=".375" stop-color="#5151ff"/><stop offset=".417" stop-color="#4545ff"/><stop offset=".458" stop-color="#3e3eff"/><stop offset=".5" stop-color="#3838ff"/><stop offset=".542" stop-color="#3535ff"/><stop offset=".583" stop-color="#3030ff"/><stop offset=".625" stop-color="#2828ff"/><stop offset=".667" stop-color="#2626ff"/><stop offset=".708" stop-color="#2121ff"/><stop offset=".75" stop-color="#2222ff"/><stop offset=".792" stop-color="#2626ff"/><stop offset=".833" stop-color="#2424ff"/><stop offset=".875" stop-color="#1d1dff"/><stop offset=".917" stop-color="#2121ff"/><stop offset=".958" stop-color="#1b1bff"/><stop offset="1" stop-color="#1818ff"/></linearGradient><linearGradient id="hb77"><stop offset="0" stop-color="#ff6464"/><stop offset=".042" stop-color="#ff3737"/><stop offset=".083" stop-color="#ff2626"/><stop offset=".125" stop-color="#ff6c6c"/><stop offset=".167" stop-color="#fffcfc"/><stop offset=".208" stop-color="#bbbbff"/><stop offset=".25" stop-color="#8989ff"/><stop offset=".292" stop-color="#7373ff"/><stop offset=".333" stop-color="#6060ff"/><stop offset=".375" stop-color="#4f4fff"/><stop offset=".417" stop-color="#4343ff"/><stop offset=".458" stop-color="#3b3bff"/><stop offset=".5" stop-color="#3535ff"/><stop offset=".542" stop-color="#3131ff"/><stop offset=".583" stop-color="#2d2dff"/><stop offset=".625" stop-color="#2b2bff"/><stop offset=".667" stop-color="#2929ff"/><stop offset=".708" stop-color="#2424ff"/><stop offset=".75" stop-color="#2323ff"/><stop offset=".792" stop-color="#2020ff"/><stop offset=".833" stop-color="#2020ff"/><stop offset=".875" stop-color="#1717ff"/><stop offset=".917" stop-color="#1e1eff"/><stop offset=".958" stop-color="#1d1dff"/><stop offset="1" stop-color="#1818ff"/></linearGradient><linearGradient id="hb78"><stop offset="0" stop-color="#ff6464"/><stop offset=".042" stop-color="#ff3737"/><stop offset=".083" stop-color="#ff2727"/><stop offset=".125" stop-color="#ff7171"/><stop offset=".167" stop-color="#ffffff"/><stop offset=".208" stop-color="#babaff"/><stop offset=".25" stop-color="#8f8fff"/><stop offset=".292" stop-color="#7373ff"/><stop offset=".333" stop-color="#6363ff"/><stop offset=".375" stop-color="#5353ff"/><stop offset=".417" stop-color="#4747ff"/><stop offset=".458" stop-color="#4242ff"/><stop offset=".5" stop-color="#3c3cff"/><stop offset=".542" stop-color="#3838ff"/><stop offset=".583" stop-color="#3434ff"/><stop offset=".625" stop-color="#3131ff"/><stop offset=".667" stop-color="#2d2dff"/><stop offset=".708" stop-color="#2727ff"/><stop offset=".75" stop-color="#2b2bff"/><stop offset=".792" stop-color="#2323ff"/><stop offset=".833" stop-color="#2121ff"/><stop offset=".875" stop-color="#2a2aff"/><stop offset=".917" stop-color="#2626ff"/><stop offset=".958" stop-color="#2323ff"/><stop offset="1" stop-color="#2525ff"/></linearGradient><linearGradient id="hb79"><stop offset="0" stop-color="#ff6767"/><stop offset=".042" stop-color="#ff3a3a"/><stop offset=".083" stop-color="#ff2a2a"/><stop offset=".125" stop-color="#ff7878"/><stop offset=".167" stop-color="#ffffff"/><stop offset=".208" stop-color="#b4b4ff"/><stop offset=".25" stop-color="#8c8cff"/><stop offset=".292" stop-color="#7272ff"/><stop offset=".333" stop-color="#6464ff"/><stop offset=".375" stop-color="#5454ff"/><stop offset=".417" stop-color="#4646ff"/><stop offset=".458" stop-color="#4141ff"/><stop offset=".5" stop-color="#3838ff"/><stop offset=".542" stop-color="#3434ff"/><stop offset=".583" stop-color="#3232ff"/><stop offset=".625" stop-color="#2e2eff"/><stop offset=".667" stop-color="#2424ff"/><stop offset=".708" stop-color="#2525ff"/><stop offset=".75" stop-color="#2727ff"/><stop offset=".792" stop-color="#2525ff"/><stop offset=".833" stop-color="#2828ff"/><stop offset=".875" stop-color="#1a1aff"/><stop offset=".917" stop-color="#2222ff"/><stop offset=".958" stop-color="#1c1cff"/><stop offset="1" stop-color="#2121ff"/></linearGradient><linearGradient id="hb80"><stop offset="0" stop-color="#ff5858"/><stop offset=".042" stop-color="#ff2727"/><stop offset=".083" stop-color="#ff1515"/><stop offset=".125" stop-color="#ff7171"/><stop offset=".167" stop-color="#fbfbff"/><stop offset=".208" stop-color="#b1b1ff"/><stop offset=".25" stop-color="#8888ff"/><stop offset=".292" stop-color="#6f6fff"/><stop offset=".333" stop-color="#6262ff"/><stop offset=".375" stop-color="#5252ff"/><stop offset=".417" stop-color="#4545ff"/><stop offset=".458" stop-color="#3f3fff"/><stop offset=".5" stop-color="#3a3aff"/><stop offset=".542" stop-color="#3636ff"/><stop offset=".583" stop-color="#3232ff"/><stop offset=".625" stop-color="#2e2eff"/><stop offset=".667" stop-color="#2323ff"/><stop offset=".708" stop-color="#2525ff"/><stop offset=".75" stop-color="#2626ff"/><stop offset=".792" stop-color="#2525ff"/><stop offset=".833" stop-color="#2323ff"/><stop offset=".875" stop-color="#1f1fff"/><stop offset=".917" stop-color="#2828ff"/><stop offset=".958" stop-color="#2626ff"/><stop offset="1" stop-color="#1e1eff"/></linearGradient><linearGradient id="hb81"><stop offset="0" stop-color="#ff4e4e"/><stop offset=".042" stop-color="#ff1919"/><stop offset=".083" stop-color="#ff0707"/><stop offset=".125" stop-color="#ff7070"/><stop offset=".167" stop-color="#f8f8ff"/><stop offset=".208" stop-color="#acacff"/><stop offset=".25" stop-color="#8989ff"/><stop offset=".292" stop-color="#6d6dff"/><stop offset=".333" stop-color="#5f5fff"/><stop offset=".375" stop-color="#5050ff"/><stop offset=".417" stop-color="#4646ff"/><stop offset=".458" stop-color="#3f3fff"/><stop offset=".5" stop-color="#3b3bff"/><stop offset=".542" stop-color="#3333ff"/><stop offset=".583" stop-color="#2e2eff"/><stop offset=".625" stop-color="#2d2dff"/><stop offset=".667" stop-color="#2626ff"/><stop offset=".708" stop-color="#2222ff"/><stop offset=".75" stop-color="#2b2bff"/><stop offset=".792" stop-color="#1d1dff"/><stop offset=".833" stop-color="#1d1dff"/><stop offset=".875" stop-color="#1e1eff"/><stop offset=".917" stop-color="#1717ff"/><stop offset=".958" stop-color="#1212ff"/><stop offset="1" stop-color="#2222ff"/></linearGradient><linearGradient id="hb82"><stop offset="0" stop-color="#ff6161"/><stop offset=".042" stop-color="#ff3131"/><stop offset=".083" stop-color="#ff2121"/><stop offset=".125" stop-color="#ff8686"/><stop offset=".167" stop-color="#f6f6ff"/><stop offset=".208" stop-color="#a7a7ff"/><stop offset=".25" stop-color="#8484ff"/><stop offset=".292" stop-color="#6e6eff"/><stop offset=".333" stop-color="#6262ff"/><stop offset=".375" stop-color="#5151ff"/><stop offset=".417" stop-color="#4747ff"/><stop offset=".458" stop-color="#3e3eff"/><stop offset=".5" stop-color="#3939ff"/><stop offset=".542" stop-color="#3131ff"/><stop offset=".583" stop-color="#3131ff"/><stop offset=".625" stop-color="#2a2aff"/><stop offset=".667" stop-color="#2727ff"/><stop offset=".708" stop-color="#2424ff"/><stop offset=".75" stop-color="#2020ff"/><stop offset=".792" stop-color="#1a1aff"/><stop offset=".833" stop-color="#2222ff"/><stop offset=".875" stop-color="#1717ff"/><stop offset=".917" stop-color="#1717ff"/><stop offset=".958" stop-color="#1b1bff"/><stop offset="1" stop-color="#1919ff"/></linearGradient><linearGradient id="hb83"><stop offset="0" stop-color="#ff5656"/><stop offset=".042" stop-color="#ff2222"/><stop offset=".083" stop-color="#ff1111"/><stop offset=".125" stop-color="#ff8585"/><stop offset=".167" stop-color="#f1f1ff"/><stop offset=".208" stop-color="#a7a7ff"/><stop offset=".25" stop-color="#8686ff"/><stop offset=".292" stop-color="#7070ff"/><stop offset=".333" stop-color="#5e5eff"/><stop offset=".375" stop-color="#5252ff"/><stop offset=".417" stop-color="#4747ff"/><stop offset=".458" stop-color="#4040ff"/><stop offset=".5" stop-color="#3b3bff"/><stop offset=".542" stop-color="#3535ff"/><stop offset=".583" stop-color="#3232ff"/><stop offset=".625" stop-color="#2f2fff"/><stop offset=".667" stop-color="#2222ff"/><stop offset=".708" stop-color="#2525ff"/><stop offset=".75" stop-color="#2c2cff"/><stop offset=".792" stop-color="#2626ff"/><stop offset=".833" stop-color="#2828ff"/><stop offset=".875" stop-color="#2020ff"/><stop offset=".917" stop-color="#1717ff"/><stop offset=".958" stop-color="#1919ff"/><stop offset="1" stop-color="#2222ff"/></linearGradient><linearGradient id="hb84"><stop offset="0" stop-color="#ff6363"/><stop offset=".042" stop-color="#ff3232"/><stop offset=".083" stop-color="#ff2222"/><stop offset=".125" stop-color="#ff9898"/><stop offset=".167" stop-color="#e6e6ff"/><stop offset=".208" stop-color="#a4a4ff"/><stop offset=".25" stop-color="#8282ff"/><stop offset=".292" stop-color="#6e6eff"/><stop offset=".333" stop-color="#6262ff"/><stop offset=".375" stop-color="#5454ff"/><stop offset=".417" stop-color="#4a4aff"/><stop offset=".458" stop-color="#4646ff"/><stop offset=".5" stop-color="#3c3cff"/><stop offset=".542" stop-color="#3636ff"/><stop offset=".583" stop-color="#2e2eff"/><stop offset=".625" stop-color="#3030ff"/><stop offset=".667" stop-color="#2929ff"/><stop offset=".708" stop-color="#2f2fff"/><stop offset=".75" stop-color="#2626ff"/><stop offset=".792" stop-color="#2424ff"/><stop offset=".833" stop-color="#1919ff"/><stop offset=".875" stop-color="#2828ff"/><stop offset=".917" stop-color="#1e1eff"/><stop offset=".958" stop-color="#1f1fff"/><stop offset="1" stop-color="#1414ff"/></linearGradient><linearGradient id="hb85"><stop offset="0" stop-color="#ff5757"/><stop offset=".042" stop-color="#ff2222"/><stop offset=".083" stop-color="#ff1111"/><stop offset=".125" stop-color="#ff9e9e"/><stop offset=".167" stop-color="#d8d8ff"/><stop offset=".208" stop-color="#9d9dff"/><stop offset=".25" stop-color="#8080ff"/><stop offset=".292" stop-color="#6e6eff"/><stop offset=".333" stop-color="#5e5eff"/><stop offset=".375" stop-color="#5353ff"/><stop offset=".417" stop-color="#4a4aff"/><stop offset=".458" stop-color="#4343ff"/><stop offset=".5" stop-color="#3c3cff"/><stop offset=".542" stop-color="#3333ff"/><stop offset=".583" stop-color="#3131ff"/><stop offset=".625" stop-color="#3131ff"/><stop offset=".667" stop-color="#2a2aff"/><stop offset=".708" stop-color="#2424ff"/><stop offset=".75" stop-color="#2727ff"/><stop offset=".792" stop-color="#1b1bff"/><stop offset=".833" stop-color="#2121ff"/><stop offset=".875" stop-color="#2323ff"/><stop offset=".917" stop-color="#2323ff"/><stop offset=".958" stop-color="#1c1cff"/><stop offset="1" stop-color="#2424ff"/></linearGradient><linearGradient id="hb86"><stop offset="0" stop-color="#ff6262"/><stop offset=".042" stop-color="#ff3030"/><stop offset=".083" stop-color="#ff2121"/><stop offset=".125" stop-color="#ffb2b2"/><stop offset=".167" stop-color="#d2d2ff"/><stop offset=".208" stop-color="#9494ff"/><stop offset=".25" stop-color="#7a7aff"/><stop offset=".292" stop-color="#6d6dff"/><stop offset=".333" stop-color="#5e5eff"/><stop offset=".375" stop-color="#5353ff"/><stop offset=".417" stop-color="#4c4cff"/><stop offset=".458" stop-color="#4545ff"/><stop offset=".5" stop-color="#4040ff"/><stop offset=".542" stop-color="#3c3cff"/><stop offset=".583" stop-color="#3434ff"/><stop offset=".625" stop-color="#2c2cff"/><stop offset=".667" stop-color="#2f2fff"/><stop offset=".708" stop-color="#2a2aff"/><stop offset=".75" stop-color="#2929ff"/><stop offset=".792" stop-color="#2626ff"/><stop offset=".833" stop-color="#2f2fff"/><stop offset=".875" stop-color="#2222ff"/><stop offset=".917" stop-color="#2424ff"/><stop offset=".958" stop-color="#1818ff"/><stop offset="1" stop-color="#1e1eff"/></linearGradient><linearGradient id="hb87"><stop offset="0" stop-color="#ff6161"/><stop offset=".042" stop-color="#ff2d2d"/><stop offset=".083" stop-color="#ff1e1e"/><stop offset=".125" stop-color="#ffc2c2"/><stop offset=".167" stop-color="#c6c6ff"/><stop offset=".208" stop-color="#9090ff"/><stop offset=".25" stop-color="#7c7cff"/><stop offset=".292" stop-color="#6b6bff"/><stop offset=".333" stop-color="#5d5dff"/><stop offset=".375" stop-color="#5757ff"/><stop offset=".417" stop-color="#4f4fff"/><stop offset=".458" stop-color="#4c4cff"/><stop offset=".5" stop-color="#4747ff"/><stop offset=".542" stop-color="#4141ff"/><stop offset=".583" stop-color="#4141ff"/><stop offset=".625" stop-color="#3939ff"/><stop offset=".667" stop-color="#3636ff"/><stop offset=".708" stop-color="#2f2fff"/><stop offset=".75" stop-color="#2a2aff"/><stop offset=".792" stop-color="#2d2dff"/><stop offset=".833" stop-color="#2d2dff"/><stop offset=".875" stop-color="#2c2cff"/><stop offset=".917" stop-color="#3131ff"/><stop offset=".958" stop-color="#2121ff"/><stop offset="1" stop-color="#2727ff"/></linearGradient><linearGradient id="hb88"><stop offset="0" stop-color="#ff5858"/><stop offset=".042" stop-color="#ff2121"/><stop offset=".083" stop-color="#ff1212"/><stop offset=".125" stop-color="#ffcaca"/><stop offset=".167" stop-color="#bebeff"/><stop offset=".208" stop-color="#8f8fff"/><stop offset=".25" stop-color="#7a7aff"/><stop offset=".292" stop-color="#7070ff"/><stop offset=".333" stop-color="#6262ff"/><stop offset=".375" stop-color="#5d5dff"/><stop offset=".417" stop-color="#5555ff"/><stop offset=".458" stop-color="#5555ff"/><stop offset=".5" stop-color="#5050ff"/><stop offset=".542" stop-color="#4c4cff"/><stop offset=".583" stop-color="#4a4aff"/><stop offset=".625" stop-color="#4444ff"/><stop offset=".667" stop-color="#4040ff"/><stop offset=".708" stop-color="#4141ff"/><stop offset=".75" stop-color="#4040ff"/><stop offset=".792" stop-color="#3c3cff"/><stop offset=".833" stop-color="#3d3dff"/><stop offset=".875" stop-color="#3939ff"/><stop offset=".917" stop-color="#3f3fff"/><stop offset=".958" stop-color="#4040ff"/><stop offset="1" stop-color="#3c3cff"/></linearGradient><linearGradient id="hb89"><stop offset="0" stop-color="#ff6d6d"/><stop offset=".042" stop-color="#ff3d3d"/><stop offset=".083" stop-color="#ff3030"/><stop offset=".125" stop-color="#ffdcdc"/><stop offset=".167" stop-color="#bfbfff"/><stop offset=".208" stop-color="#9999ff"/><stop offset=".25" stop-color="#8585ff"/><stop offset=".292" stop-color="#7777ff"/><stop offset=".333" stop-color="#7171ff"/><stop offset=".375" stop-color="#6a6aff"/><stop offset=".417" stop-color="#6565ff"/><stop offset=".458" stop-color="#6464ff"/><stop offset=".5" stop-color="#5f5fff"/><stop offset=".542" stop-color="#5b5bff"/><stop offset=".583" stop-color="#5a5aff"/><stop offset=".625" stop-color="#5656ff"/><stop offset=".667" stop-color="#5151ff"/><stop offset=".708" stop-color="#5151ff"/><stop offset=".75" stop-color="#4e4eff"/><stop offset=".792" stop-color="#5252ff"/><stop offset=".833" stop-color="#5151ff"/><stop offset=".875" stop-color="#5555ff"/><stop offset=".917" stop-color="#4f4fff"/><stop offset=".958" stop-color="#4a4aff"/><stop offset="1" stop-color="#4b4bff"/></linearGradient><linearGradient id="hb90"><stop offset="0" stop-color="#ff5959"/><stop offset=".042" stop-color="#ff2222"/><stop offset=".083" stop-color="#ff1414"/><stop offset=".125" stop-color="#ffe3e3"/><stop offset=".167" stop-color="#bbbbff"/><stop offset=".208" stop-color="#9595ff"/><stop offset=".25" stop-color="#8888ff"/><stop offset=".292" stop-color="#7a7aff"/><stop offset=".333" stop-color="#7676ff"/><stop offset=".375" stop-color="#6f6fff"/><stop offset=".417" stop-color="#6e6eff"/><stop offset=".458" stop-color="#6b6bff"/><stop offset=".5" stop-color="#6868ff"/><stop offset=".542" stop-color="#6666ff"/><stop offset=".583" stop-color="#6161ff"/><stop offset=".625" stop-color="#6060ff"/><stop offset=".667" stop-color="#6161ff"/><stop offset=".708" stop-color="#6b6bff"/><stop offset=".75" stop-color="#6060ff"/><stop offset=".792" stop-color="#5d5dff"/><stop offset=".833" stop-color="#5858ff"/><stop offset=".875" stop-color="#6262ff"/><stop offset=".917" stop-color="#5454ff"/><stop offset=".958" stop-color="#5959ff"/><stop offset="1" stop-color="#5f5fff"/></linearGradient><linearGradient id="hb91"><stop offset="0" stop-color="#ff5c5c"/><stop offset=".042" stop-color="#ff2424"/><stop offset=".083" stop-color="#ff1717"/><stop offset=".125" stop-color="#fff0f0"/><stop offset=".167" stop-color="#babaff"/><stop offset=".208" stop-color="#9898ff"/><stop offset=".25" stop-color="#8c8cff"/><stop offset=".292" stop-color="#8080ff"/><stop offset=".333" stop-color="#7b7bff"/><stop offset=".375" stop-color="#7a7aff"/><stop offset=".417" stop-color="#7878ff"/><stop offset=".458" stop-color="#7575ff"/><stop offset=".5" stop-color="#7373ff"/><stop offset=".542" stop-color="#6f6fff"/><stop offset=".583" stop-color="#6f6fff"/><stop offset=".625" stop-color="#6969ff"/><stop offset=".667" stop-color="#6a6aff"/><stop offset=".708" stop-color="#6e6eff"/><stop offset=".75" stop-color="#6e6eff"/><stop offset=".792" stop-color="#6767ff"/><stop offset=".833" stop-color="#6767ff"/><stop offset=".875" stop-color="#7070ff"/><stop offset=".917" stop-color="#7272ff"/><stop offset=".958" stop-color="#6161ff"/><stop offset="1" stop-color="#6767ff"/></linearGradient><linearGradient id="hb92"><stop offset="0" stop-color="#ff6060"/><stop offset=".042" stop-color="#ff2929"/><stop offset=".083" stop-color="#ff1e1e"/><stop offset=".125" stop-color="#fffafa"/><stop offset=".167" stop-color="#bbbbff"/><stop offset=".208" stop-color="#a1a1ff"/><stop offset=".25" stop-color="#9696ff"/><stop offset=".292" stop-color="#9090ff"/><stop offset=".333" stop-color="#8a8aff"/><stop offset=".375" stop-color="#8686ff"/><stop offset=".417" stop-color="#8484ff"/><stop offset=".458" stop-color="#8484ff"/><stop offset=".5" stop-color="#8181ff"/><stop offset=".542" stop-color="#7d7dff"/><stop offset=".583" stop-color="#7d7dff"/><stop offset=".625" stop-color="#7878ff"/><stop offset=".667" stop-color="#7777ff"/><stop offset=".708" stop-color="#7474ff"/><stop offset=".75" stop-color="#7373ff"/><stop offset=".792" stop-color="#7676ff"/><stop offset=".833" stop-color="#7474ff"/><stop offset=".875" stop-color="#7b7bff"/><stop offset=".917" stop-color="#7d7dff"/><stop offset=".958" stop-color="#7878ff"/><stop offset="1" stop-color="#7373ff"/></linearGradient></defs>
<rect x="31.5" y="227" width="187" height="2" fill="url(#hb0)"/><rect x="31.5" y="229" width="187" height="2" fill="url(#hb1)"/><rect x="31.5" y="231" width="187" height="2" fill="url(#hb2)"/><rect x="31.5" y="233" width="187" height="2" fill="url(#hb3)"/><rect x="31.5" y="235" width="187" height="2" fill="url(#hb4)"/><rect x="31.5" y="237" width="187" height="2" fill="url(#hb5)"/><rect x="31.5" y="239" width="187" height="2" fill="url(#hb6)"/><rect x="31.5" y="241" width="187" height="2" fill="url(#hb7)"/><rect x="31.5" y="243" width="187" height="2" fill="url(#hb8)"/><rect x="31.5" y="245" width="187" height="2" fill="url(#hb9)"/><rect x="31.5" y="247" width="187" height="2" fill="url(#hb10)"/><rect x="31.5" y="249" width="187" height="2" fill="url(#hb11)"/><rect x="31.5" y="251" width="187" height="2" fill="url(#hb12)"/><rect x="31.5" y="253" width="187" height="2" fill="url(#hb13)"/><rect x="31.5" y="255" width="187" height="2" fill="url(#hb14)"/><rect x="31.5" y="257" width="187" height="2" fill="url(#hb15)"/><rect x="31.5" y="259" width="187" height="2" fill="url(#hb16)"/><rect x="31.5" y="261" width="187" height="2" fill="url(#hb17)"/><rect x="31.5" y="263" width="187" height="2" fill="url(#hb18)"/><rect x="31.5" y="265" width="187" height="2" fill="url(#hb19)"/><rect x="31.5" y="267" width="187" height="2" fill="url(#hb20)"/><rect x="31.5" y="269" width="187" height="2" fill="url(#hb21)"/><rect x="31.5" y="271" width="187" height="2" fill="url(#hb22)"/><rect x="31.5" y="273" width="187" height="2" fill="url(#hb23)"/><rect x="31.5" y="275" width="187" height="2" fill="url(#hb24)"/><rect x="31.5" y="277" width="187" height="2" fill="url(#hb25)"/><rect x="31.5" y="279" width="187" height="2" fill="url(#hb26)"/><rect x="31.5" y="281" width="187" height="2" fill="url(#hb27)"/><rect x="31.5" y="283" width="187" height="2" fill="url(#hb28)"/><rect x="31.5" y="285" width="187" height="2" fill="url(#hb29)"/><rect x="31.5" y="287" width="187" height="2" fill="url(#hb30)"/><rect x="31.5" y="289" width="187" height="2" fill="url(#hb31)"/><rect x="31.5" y="291" width="187" height="2" fill="url(#hb32)"/><rect x="31.5" y="293" width="187" height="2" fill="url(#hb33)"/><rect x="31.5" y="295" width="187" height="2" fill="url(#hb34)"/><rect x="31.5" y="297" width="187" height="2" fill="url(#hb35)"/><rect x="31.5" y="299" width="187" height="2" fill="url(#hb36)"/><rect x="31.5" y="301" width="187" height="2" fill="url(#hb37)"/><rect x="31.5" y="303" width="187" height="2" fill="url(#hb38)"/><rect x="31.5" y="305" width="187" height="2" fill="url(#hb39)"/><rect x="31.5" y="307" width="187" height="2" fill="url(#hb40)"/><rect x="31.5" y="309" width="187" height="2" fill="url(#hb41)"/><rect x="31.5" y="311" width="187" height="2" fill="url(#hb42)"/><rect x="31.5" y="313" width="187" height="2" fill="url(#hb43)"/><rect x="31.5" y="315" width="187" height="2" fill="url(#hb44)"/><rect x="31.5" y="317" width="187" height="2" fill="url(#hb45)"/><rect x="31.5" y="319" width="187" height="2" fill="url(#hb46)"/><rect x="31.5" y="321" width="187" height="2" fill="url(#hb47)"/><rect x="31.5" y="323" width="187" height="2" fill="url(#hb48)"/><rect x="31.5" y="325" width="187" height="2" fill="url(#hb49)"/><rect x="31.5" y="327" width="187" height="2" fill="url(#hb50)"/><rect x="31.5" y="329" width="187" height="2" fill="url(#hb51)"/><rect x="31.5" y="331" width="187" height="2" fill="url(#hb52)"/><rect x="31.5" y="333" width="187" height="2" fill="url(#hb53)"/><rect x="31.5" y="335" width="187" height="2" fill="url(#hb54)"/><rect x="31.5" y="337" width="187" height="2" fill="url(#hb55)"/><rect x="31.5" y="339" width="187" height="2" fill="url(#hb56)"/><rect x="31.5" y="341" width="187" height="2" fill="url(#hb57)"/><rect x="31.5" y="343" width="187" height="2" fill="url(#hb58)"/><rect x="31.5" y="345" width="187" height="2" fill="url(#hb59)"/><rect x="31.5" y="347" width="187" height="2" fill="url(#hb60)"/><rect x="31.5" y="349" width="187" height="2" fill="url(#hb61)"/><rect x="31.5" y="351" width="187" height="2" fill="url(#hb62)"/><rect x="31.5" y="353" width="187" height="2" fill="url(#hb63)"/><rect x="31.5" y="355" width="187" height="2" fill="url(#hb64)"/><rect x="31.5" y="357" width="187" height="2" fill="url(#hb65)"/><rect x="31.5" y="359" width="187" height="2" fill="url(#hb66)"/><rect x="31.5" y="361" width="187" height="2" fill="url(#hb67)"/><rect x="31.5" y="363" width="187" height="2" fill="url(#hb68)"/><rect x="31.5" y="365" width="187" height="2" fill="url(#hb69)"/><rect x="31.5" y="367" width="187" height="2" fill="url(#hb70)"/><rect x="31.5" y="369" width="187" height="2" fill="url(#hb71)"/><rect x="31.5" y="371" width="187" height="2" fill="url(#hb72)"/><rect x="31.5" y="373" width="187" height="2" fill="url(#hb73)"/><rect x="31.5" y="375" width="187" height="2" fill="url(#hb74)"/><rect x="31.5" y="377" width="187" height="2" fill="url(#hb75)"/><rect x="31.5" y="379" width="187" height="2" fill="url(#hb76)"/><rect x="31.5" y="381" width="187" height="2" fill="url(#hb77)"/><rect x="31.5" y="383" width="187" height="2" fill="url(#hb78)"/><rect x="31.5" y="385" width="187" height="2" fill="url(#hb79)"/><rect x="31.5" y="387" width="187" height="2" fill="url(#hb80)"/><rect x="31.5" y="389" width="187" height="2" fill="url(#hb81)"/><rect x="31.5" y="391" width="187" height="2" fill="url(#hb82)"/><rect x="31.5" y="393" width="187" height="2" fill="url(#hb83)"/><rect x="31.5" y="395" width="187" height="2" fill="url(#hb84)"/><rect x="31.5" y="397" width="187" height="2" fill="url(#hb85)"/><rect x="31.5" y="399" width="187" height="2" fill="url(#hb86)"/><rect x="31.5" y="401" width="187" height="2" fill="url(#hb87)"/><rect x="31.5" y="403" width="187" height="2" fill="url(#hb88)"/><rect x="31.5" y="405" width="187" height="2" fill="url(#hb89)"/><rect x="31.5" y="407" width="187" height="2" fill="url(#hb90)"/><rect x="31.5" y="409" width="187" height="2" fill="url(#hb91)"/><rect x="31.5" y="411" width="187" height="2" fill="url(#hb92)"/>
<defs><linearGradient id="tmb"><stop offset="0" stop-color="#fff" stop-opacity="0"/><stop offset="0.66" stop-color="#fff" stop-opacity="0"/><stop offset="0.86" stop-color="#fff" stop-opacity="1"/><stop offset="1" stop-color="#fff" stop-opacity="1"/></linearGradient><filter id="tlb" x="0" y="0" width="1" height="1" color-interpolation-filters="sRGB"><feTurbulence type="fractalNoise" baseFrequency="0.5 0.45" numOctaves="2" seed="11"/><feColorMatrix type="matrix" values="0 0 0 0 1 0 0 0 0 1 0 0 0 0 1 1.0 0 0 0 -0.55"/><feComposite in2="SourceGraphic" operator="in"/></filter><filter id="tdb" x="0" y="0" width="1" height="1" color-interpolation-filters="sRGB"><feTurbulence type="fractalNoise" baseFrequency="0.5 0.45" numOctaves="2" seed="11"/><feColorMatrix type="matrix" values="0 0 0 0 0.1 0 0 0 0 0.1 0 0 0 0 0.9 -1.2 0 0 0 0.54"/><feComposite in2="SourceGraphic" operator="in"/></filter></defs>
<defs><linearGradient id="vgb" x1="0" y1="0" x2="0" y2="1"><stop offset="0" stop-color="#fff" stop-opacity="1"/><stop offset="0.4" stop-color="#fff" stop-opacity="0.8"/><stop offset="0.7" stop-color="#fff" stop-opacity="0.45"/><stop offset="0.95" stop-color="#fff" stop-opacity="0.35"/><stop offset="1" stop-color="#fff" stop-opacity="0.6"/></linearGradient><mask id="vmb" maskUnits="userSpaceOnUse" x="31.5" y="227" width="187" height="186"><rect x="31.5" y="227" width="187" height="186" fill="url(#vgb)"/></mask></defs>
<g mask="url(#vmb)">
<rect x="31.5" y="227" width="187" height="186" fill="url(#tmb)" filter="url(#tlb)"/>
<rect x="31.5" y="227" width="187" height="186" fill="url(#tmb)" filter="url(#tdb)"/>
</g>
<defs><filter id="bbb" x="-0.5" y="-1" width="2" height="3"><feGaussianBlur stdDeviation="1.2"/></filter><clipPath id="cpb"><rect x="31.5" y="227" width="187" height="186"/></clipPath></defs>
<g clip-path="url(#cpb)"><g filter="url(#bbb)"><ellipse cx="124.2" cy="409.9" rx="2.7" ry="2.5" fill="#fff" opacity="0.24"/><ellipse cx="136.9" cy="411.2" rx="4.6" ry="1.6" fill="#fff" opacity="0.26"/><ellipse cx="143.6" cy="409.6" rx="3.7" ry="2.0" fill="#fff" opacity="0.19"/><ellipse cx="153.8" cy="410.3" rx="2.8" ry="2.1" fill="#fff" opacity="0.33"/><ellipse cx="160.3" cy="409.9" rx="2.7" ry="2.3" fill="#fff" opacity="0.28"/><ellipse cx="169.5" cy="411.2" rx="3.8" ry="2.7" fill="#fff" opacity="0.26"/><ellipse cx="179.5" cy="410.3" rx="2.8" ry="2.6" fill="#fff" opacity="0.32"/><ellipse cx="189.4" cy="410.3" rx="2.7" ry="1.8" fill="#fff" opacity="0.26"/><ellipse cx="198.0" cy="409.6" rx="4.9" ry="2.6" fill="#fff" opacity="0.29"/><ellipse cx="208.9" cy="410.7" rx="3.7" ry="1.8" fill="#fff" opacity="0.29"/><ellipse cx="216.2" cy="411.4" rx="4.8" ry="2.2" fill="#fff" opacity="0.32"/></g></g>
<defs><linearGradient id="cbb" x1="0" y1="0" x2="0" y2="1"><stop offset="0" stop-color="#ff0000"/><stop offset="0.51" stop-color="#ffffff"/><stop offset="1" stop-color="#0000ff"/></linearGradient></defs>
<rect x="42.3" y="248.3" width="10.7" height="54.1" fill="url(#cbb)" stroke="#333" stroke-width="0.3"/>
<line x1="53" y1="248.3" x2="55" y2="248.3" stroke="#333" stroke-width="0.6" />
<line x1="53" y1="266.32" x2="55" y2="266.32" stroke="#333" stroke-width="0.6" />
<line x1="53" y1="284.38" x2="55" y2="284.38" stroke="#333" stroke-width="0.6" />
<line x1="53" y1="302.4" x2="55" y2="302.4" stroke="#333" stroke-width="0.6" />
<text x="38" y="241.9" font-size="11.2" fill="#111" >ΔA (OD)</text>
<rect x="31.5" y="227.0" width="187.0" height="186.0" fill="none" stroke="#2a2a2a" stroke-width="1"/>
<line x1="48.5" y1="413" x2="48.5" y2="415.6" stroke="#2a2a2a" stroke-width="1.0" />
<text x="48.5" y="426.1" font-size="11.2" text-anchor="middle" fill="#111" >500</text>
<line x1="69.75" y1="413" x2="69.75" y2="414.5" stroke="#2a2a2a" stroke-width="1.0" />
<line x1="91" y1="413" x2="91" y2="415.6" stroke="#2a2a2a" stroke-width="1.0" />
<text x="91" y="426.1" font-size="11.2" text-anchor="middle" fill="#111" >550</text>
<line x1="112.25" y1="413" x2="112.25" y2="414.5" stroke="#2a2a2a" stroke-width="1.0" />
<line x1="133.5" y1="413" x2="133.5" y2="415.6" stroke="#2a2a2a" stroke-width="1.0" />
<text x="133.5" y="426.1" font-size="11.2" text-anchor="middle" fill="#111" >600</text>
<line x1="154.75" y1="413" x2="154.75" y2="414.5" stroke="#2a2a2a" stroke-width="1.0" />
<line x1="176" y1="413" x2="176" y2="415.6" stroke="#2a2a2a" stroke-width="1.0" />
<text x="176" y="426.1" font-size="11.2" text-anchor="middle" fill="#111" >650</text>
<line x1="197.25" y1="413" x2="197.25" y2="414.5" stroke="#2a2a2a" stroke-width="1.0" />
<text x="124.7" y="436.4" font-size="11.2" text-anchor="middle" fill="#111" >Wavelength (nm)</text>
<line x1="28.9" y1="413" x2="31.5" y2="413" stroke="#2a2a2a" stroke-width="1.0" />
<line x1="30" y1="401.44" x2="31.5" y2="401.44" stroke="#2a2a2a" stroke-width="1.0" />
<line x1="30" y1="394.68" x2="31.5" y2="394.68" stroke="#2a2a2a" stroke-width="1.0" />
<line x1="30" y1="389.88" x2="31.5" y2="389.88" stroke="#2a2a2a" stroke-width="1.0" />
<line x1="30" y1="386.16" x2="31.5" y2="386.16" stroke="#2a2a2a" stroke-width="1.0" />
<line x1="30" y1="383.12" x2="31.5" y2="383.12" stroke="#2a2a2a" stroke-width="1.0" />
<line x1="30" y1="380.55" x2="31.5" y2="380.55" stroke="#2a2a2a" stroke-width="1.0" />
<line x1="30" y1="378.32" x2="31.5" y2="378.32" stroke="#2a2a2a" stroke-width="1.0" />
<line x1="30" y1="376.36" x2="31.5" y2="376.36" stroke="#2a2a2a" stroke-width="1.0" />
<line x1="28.9" y1="374.6" x2="31.5" y2="374.6" stroke="#2a2a2a" stroke-width="1.0" />
<line x1="30" y1="363.04" x2="31.5" y2="363.04" stroke="#2a2a2a" stroke-width="1.0" />
<line x1="30" y1="356.28" x2="31.5" y2="356.28" stroke="#2a2a2a" stroke-width="1.0" />
<line x1="30" y1="351.48" x2="31.5" y2="351.48" stroke="#2a2a2a" stroke-width="1.0" />
<line x1="30" y1="347.76" x2="31.5" y2="347.76" stroke="#2a2a2a" stroke-width="1.0" />
<line x1="30" y1="344.72" x2="31.5" y2="344.72" stroke="#2a2a2a" stroke-width="1.0" />
<line x1="30" y1="342.15" x2="31.5" y2="342.15" stroke="#2a2a2a" stroke-width="1.0" />
<line x1="30" y1="339.92" x2="31.5" y2="339.92" stroke="#2a2a2a" stroke-width="1.0" />
<line x1="30" y1="337.96" x2="31.5" y2="337.96" stroke="#2a2a2a" stroke-width="1.0" />
<line x1="28.9" y1="336.2" x2="31.5" y2="336.2" stroke="#2a2a2a" stroke-width="1.0" />
<line x1="30" y1="324.64" x2="31.5" y2="324.64" stroke="#2a2a2a" stroke-width="1.0" />
<line x1="30" y1="317.88" x2="31.5" y2="317.88" stroke="#2a2a2a" stroke-width="1.0" />
<line x1="30" y1="313.08" x2="31.5" y2="313.08" stroke="#2a2a2a" stroke-width="1.0" />
<line x1="30" y1="309.36" x2="31.5" y2="309.36" stroke="#2a2a2a" stroke-width="1.0" />
<line x1="30" y1="306.32" x2="31.5" y2="306.32" stroke="#2a2a2a" stroke-width="1.0" />
<line x1="30" y1="303.75" x2="31.5" y2="303.75" stroke="#2a2a2a" stroke-width="1.0" />
<line x1="30" y1="301.52" x2="31.5" y2="301.52" stroke="#2a2a2a" stroke-width="1.0" />
<line x1="30" y1="299.56" x2="31.5" y2="299.56" stroke="#2a2a2a" stroke-width="1.0" />
<line x1="28.9" y1="297.8" x2="31.5" y2="297.8" stroke="#2a2a2a" stroke-width="1.0" />
<line x1="30" y1="286.24" x2="31.5" y2="286.24" stroke="#2a2a2a" stroke-width="1.0" />
<line x1="30" y1="279.48" x2="31.5" y2="279.48" stroke="#2a2a2a" stroke-width="1.0" />
<line x1="30" y1="274.68" x2="31.5" y2="274.68" stroke="#2a2a2a" stroke-width="1.0" />
<line x1="30" y1="270.96" x2="31.5" y2="270.96" stroke="#2a2a2a" stroke-width="1.0" />
<line x1="30" y1="267.92" x2="31.5" y2="267.92" stroke="#2a2a2a" stroke-width="1.0" />
<line x1="30" y1="265.35" x2="31.5" y2="265.35" stroke="#2a2a2a" stroke-width="1.0" />
<line x1="30" y1="263.12" x2="31.5" y2="263.12" stroke="#2a2a2a" stroke-width="1.0" />
<line x1="30" y1="261.16" x2="31.5" y2="261.16" stroke="#2a2a2a" stroke-width="1.0" />
<line x1="28.9" y1="259.4" x2="31.5" y2="259.4" stroke="#2a2a2a" stroke-width="1.0" />
<line x1="30" y1="247.84" x2="31.5" y2="247.84" stroke="#2a2a2a" stroke-width="1.0" />
<line x1="30" y1="241.08" x2="31.5" y2="241.08" stroke="#2a2a2a" stroke-width="1.0" />
<line x1="30" y1="236.28" x2="31.5" y2="236.28" stroke="#2a2a2a" stroke-width="1.0" />
<line x1="30" y1="232.56" x2="31.5" y2="232.56" stroke="#2a2a2a" stroke-width="1.0" />
<line x1="30" y1="229.52" x2="31.5" y2="229.52" stroke="#2a2a2a" stroke-width="1.0" />
<line x1="30" y1="226.95" x2="31.5" y2="226.95" stroke="#2a2a2a" stroke-width="1.0" />
<text x="29.5" y="411" font-size="11.2" text-anchor="end" fill="#111" transform="rotate(-45 29.5 411)">0.1</text>
<text x="29.5" y="372.6" font-size="11.2" text-anchor="end" fill="#111" transform="rotate(-45 29.5 372.6)">1</text>
<text x="29.5" y="334.2" font-size="11.2" text-anchor="end" fill="#111" transform="rotate(-45 29.5 334.2)">10</text>
<text x="29.5" y="295.8" font-size="11.2" text-anchor="end" fill="#111" transform="rotate(-45 29.5 295.8)">100</text>
<text x="29.5" y="257.4" font-size="11.2" text-anchor="end" fill="#111" transform="rotate(-45 29.5 257.4)">1000</text>
<text x="8" y="323.4" font-size="11.2" text-anchor="middle" fill="#111" transform="rotate(-90 8 323.4)">Time Delay (ps)</text>
<g fill="none" stroke-width="1.1" stroke-linejoin="round">
<path d="M257.4,93.3 258.2,92.8 259.1,92.2 259.9,91.4 260.8,90.8 261.6,89.9 262.5,88.8 263.3,87.8 264.2,86.9 265.0,86.1 265.8,85.2 266.7,83.9 267.5,82.3 268.4,80.7 269.2,79.3 270.1,77.8 270.9,75.8 271.8,74.2 272.6,71.6 273.4,69.3 274.3,67.9 275.1,67.1 276.0,67.1 276.8,67.9 277.7,69.8 278.5,72.3 279.4,74.3 280.2,76.2 281.0,78.4 281.9,80.9 282.7,83.7 283.6,86.6 284.4,88.4 285.3,90.1 286.1,91.4 287.0,92.2 287.8,93.5 288.6,94.5 289.5,95.5 290.3,96.7 291.2,97.9 292.0,99.1 292.9,99.9 293.7,101.4 294.6,103.3 295.4,104.8 296.2,107.3 297.1,109.8 297.9,111.5 298.8,113.6 299.6,115.8 300.5,117.2 301.3,119.4 302.2,121.1 303.0,122.5 303.8,124.6 304.7,125.6 305.5,126.5 306.4,127.1 307.2,128.1 308.1,128.8 308.9,129.4 309.8,129.7 310.6,130.0 311.5,130.9 312.3,131.3 313.1,131.2 314.0,131.6 314.8,132.1 315.7,132.1 316.5,132.3 317.4,133.0 318.2,133.2 319.1,133.2 319.9,133.9 320.7,134.7 321.6,134.5 322.4,135.1 323.3,134.9 324.1,135.5 325.0,135.6 325.8,135.5 326.7,136.1 327.5,136.6 328.3,137.0 329.2,136.1 330.0,136.7 330.9,138.2 331.7,138.1 332.6,137.2 333.4,138.0 334.3,138.0 335.1,137.9 335.9,138.7 336.8,139.2 337.6,139.8 338.5,139.9 339.3,139.7 340.2,139.0 341.0,139.7 341.9,141.0 342.7,140.3 343.5,141.2 344.4,142.7 345.2,142.1 346.1,141.6 346.9,143.0 347.8,142.0 348.6,143.0 349.5,143.1 350.3,144.2 351.1,141.9 352.0,143.2 352.8,143.1 353.7,144.5 354.5,145.6 355.4,143.7 356.2,145.6 357.1,143.6 357.9,145.6 358.7,144.1 359.6,146.5 360.4,147.8 361.3,145.5 362.1,146.4 363.0,146.1 363.8,145.2 364.7,147.5 365.5,148.1 366.3,148.2 367.2,149.0 368.0,149.4 368.9,149.4 369.7,148.7 370.6,148.0 371.4,148.7 372.3,147.6 373.1,146.7 373.9,148.3 374.8,147.8 375.6,149.4 376.5,147.9 377.3,147.6 378.2,150.0 379.0,151.6 379.9,149.9 380.7,149.7 381.5,147.6 382.4,150.6 383.2,147.0 384.1,154.2 384.9,150.6 385.8,151.4 386.6,151.4 387.5,152.1 388.3,151.4 389.1,148.1 390.0,151.7 390.8,149.4 391.7,151.1 392.5,150.8 393.4,156.5 394.2,151.5 395.1,150.9 395.9,154.7 396.8,153.4 397.6,154.2 398.4,146.0 399.3,155.0 400.1,153.8 401.0,160.0 401.8,157.4 402.7,152.9 403.5,157.5 404.4,162.9 405.2,152.3 406.0,151.9 406.9,151.3 407.7,151.3 408.6,154.2 409.4,140.3 410.3,152.6 411.1,147.4 412.0,155.5 412.8,153.0 413.6,158.0 414.5,149.0 415.3,153.0 416.2,157.6 417.0,163.2 417.9,150.9 418.7,148.7 419.6,147.9 420.4,152.9 421.2,147.9 422.1,147.5 422.9,150.4 423.8,147.2 424.6,155.8 425.5,153.0 426.3,164.0 427.2,139.2 428.0,157.9 428.8,150.6 429.7,149.9 430.5,160.0 431.4,154.3 432.2,149.0 433.1,154.1 433.9,157.0 434.8,158.9 435.6,161.9 436.4,156.1 437.3,154.0 438.1,151.8 439.0,146.7 439.8,153.4 440.7,158.8 441.5,148.7 442.4,152.3 443.2,146.8" stroke="#1c2a40"/>
<path d="M257.4,97.6 258.2,96.8 259.1,96.2 259.9,96.0 260.8,95.1 261.6,94.3 262.5,93.2 263.3,92.4 264.2,91.2 265.0,90.7 265.8,88.9 266.7,88.1 267.5,86.7 268.4,85.5 269.2,84.1 270.1,82.5 270.9,81.0 271.8,79.5 272.6,77.6 273.4,75.8 274.3,74.9 275.1,74.3 276.0,73.9 276.8,75.0 277.7,76.6 278.5,78.1 279.4,79.9 280.2,81.9 281.0,83.8 281.9,85.5 282.7,87.4 283.6,89.8 284.4,91.7 285.3,92.8 286.1,93.8 287.0,95.0 287.8,95.7 288.6,96.4 289.5,97.5 290.3,98.5 291.2,99.2 292.0,100.2 292.9,101.0 293.7,102.7 294.6,103.9 295.4,105.8 296.2,108.0 297.1,109.8 297.9,111.8 298.8,113.9 299.6,115.3 300.5,117.4 301.3,119.3 302.2,121.0 303.0,122.5 303.8,124.4 304.7,125.1 305.5,126.1 306.4,127.5 307.2,127.9 308.1,128.7 308.9,129.0 309.8,129.7 310.6,130.1 311.5,130.3 312.3,130.9 313.1,130.9 314.0,131.3 314.8,131.4 315.7,131.9 316.5,131.8 317.4,132.2 318.2,132.7 319.1,132.6 319.9,132.6 320.7,132.7 321.6,134.3 322.4,133.7 323.3,134.1 324.1,134.7 325.0,135.3 325.8,134.4 326.7,135.7 327.5,135.2 328.3,135.3 329.2,137.0 330.0,136.7 330.9,137.5 331.7,137.0 332.6,136.5 333.4,136.3 334.3,138.7 335.1,138.3 335.9,137.6 336.8,137.4 337.6,138.5 338.5,139.6 339.3,139.0 340.2,139.3 341.0,139.6 341.9,140.2 342.7,139.5 343.5,139.6 344.4,140.0 345.2,140.5 346.1,141.8 346.9,141.5 347.8,140.1 348.6,141.4 349.5,142.2 350.3,140.1 351.1,140.8 352.0,140.1 352.8,142.3 353.7,143.0 354.5,144.0 355.4,141.9 356.2,141.1 357.1,144.5 357.9,144.7 358.7,143.8 359.6,145.5 360.4,145.1 361.3,145.5 362.1,145.3 363.0,144.3 363.8,145.6 364.7,144.3 365.5,146.0 366.3,145.2 367.2,148.3 368.0,147.8 368.9,144.9 369.7,146.9 370.6,144.8 371.4,144.3 372.3,143.3 373.1,144.6 373.9,145.2 374.8,147.2 375.6,148.3 376.5,147.6 377.3,147.7 378.2,149.1 379.0,148.8 379.9,147.4 380.7,147.4 381.5,148.1 382.4,150.5 383.2,147.5 384.1,147.3 384.9,145.4 385.8,146.6 386.6,148.4 387.5,148.8 388.3,144.0 389.1,145.9 390.0,143.0 390.8,141.7 391.7,147.6 392.5,145.8 393.4,146.0 394.2,145.6 395.1,145.4 395.9,145.7 396.8,145.9 397.6,150.7 398.4,146.8 399.3,148.2 400.1,146.9 401.0,147.7 401.8,145.9 402.7,144.8 403.5,147.0 404.4,147.4 405.2,148.3 406.0,149.3 406.9,149.4 407.7,151.5 408.6,148.7 409.4,150.5 410.3,149.7 411.1,158.7 412.0,148.6 412.8,155.4 413.6,155.0 414.5,152.3 415.3,154.4 416.2,149.4 417.0,153.1 417.9,154.1 418.7,154.9 419.6,143.2 420.4,151.1 421.2,157.2 422.1,150.8 422.9,158.8 423.8,138.6 424.6,160.8 425.5,151.1 426.3,150.7 427.2,164.4 428.0,151.4 428.8,146.2 429.7,148.5 430.5,150.4 431.4,146.4 432.2,152.0 433.1,150.2 433.9,154.4 434.8,151.8 435.6,162.4 436.4,153.4 437.3,161.7 438.1,163.4 439.0,150.3 439.8,138.8 440.7,148.3 441.5,163.0 442.4,153.5 443.2,163.1" stroke="#243d5e"/>
<path d="M257.4,104.9 258.2,104.4 259.1,104.2 259.9,103.6 260.8,102.8 261.6,102.7 262.5,101.7 263.3,101.0 264.2,99.8 265.0,98.6 265.8,97.8 266.7,96.4 267.5,95.4 268.4,93.3 269.2,91.8 270.1,89.6 270.9,88.2 271.8,86.5 272.6,85.0 273.4,83.2 274.3,81.9 275.1,81.5 276.0,81.6 276.8,82.1 277.7,83.2 278.5,84.5 279.4,85.8 280.2,87.3 281.0,88.1 281.9,90.1 282.7,90.9 283.6,92.6 284.4,93.9 285.3,95.1 286.1,95.7 287.0,96.6 287.8,97.4 288.6,98.4 289.5,99.1 290.3,99.4 291.2,100.6 292.0,101.6 292.9,102.1 293.7,103.4 294.6,104.6 295.4,106.2 296.2,108.3 297.1,110.7 297.9,112.4 298.8,114.1 299.6,116.1 300.5,117.7 301.3,119.3 302.2,121.2 303.0,122.3 303.8,123.6 304.7,125.0 305.5,126.0 306.4,126.8 307.2,127.2 308.1,128.4 308.9,129.0 309.8,129.3 310.6,130.1 311.5,130.6 312.3,130.6 313.1,130.6 314.0,130.7 314.8,131.5 315.7,131.9 316.5,131.7 317.4,131.9 318.2,132.0 319.1,131.9 319.9,131.9 320.7,132.4 321.6,132.5 322.4,133.4 323.3,133.7 324.1,133.5 325.0,133.6 325.8,133.7 326.7,134.0 327.5,133.9 328.3,134.3 329.2,135.7 330.0,135.4 330.9,135.1 331.7,135.2 332.6,136.8 333.4,135.5 334.3,136.9 335.1,137.1 335.9,137.2 336.8,137.2 337.6,138.6 338.5,137.1 339.3,137.4 340.2,138.2 341.0,138.0 341.9,139.5 342.7,138.5 343.5,138.1 344.4,138.8 345.2,138.9 346.1,138.9 346.9,138.8 347.8,137.9 348.6,138.6 349.5,139.1 350.3,138.6 351.1,137.6 352.0,139.9 352.8,139.5 353.7,141.6 354.5,139.5 355.4,140.3 356.2,139.9 357.1,141.2 357.9,142.3 358.7,140.8 359.6,140.9 360.4,142.3 361.3,143.3 362.1,141.4 363.0,142.6 363.8,139.5 364.7,143.4 365.5,143.7 366.3,143.2 367.2,144.9 368.0,144.4 368.9,141.3 369.7,143.8 370.6,144.0 371.4,145.1 372.3,142.9 373.1,142.9 373.9,143.8 374.8,144.9 375.6,144.3 376.5,144.4 377.3,146.8 378.2,144.6 379.0,149.1 379.9,147.2 380.7,145.7 381.5,145.1 382.4,146.9 383.2,144.6 384.1,143.5 384.9,144.4 385.8,144.5 386.6,143.6 387.5,144.1 388.3,147.0 389.1,145.3 390.0,142.7 390.8,147.3 391.7,145.1 392.5,146.4 393.4,147.6 394.2,147.9 395.1,145.0 395.9,144.5 396.8,143.7 397.6,149.6 398.4,146.7 399.3,144.5 400.1,143.3 401.0,144.1 401.8,143.4 402.7,140.8 403.5,142.8 404.4,149.0 405.2,146.1 406.0,148.7 406.9,155.1 407.7,153.8 408.6,138.7 409.4,152.5 410.3,155.9 411.1,150.1 412.0,142.6 412.8,151.6 413.6,149.3 414.5,153.5 415.3,152.8 416.2,146.0 417.0,147.3 417.9,151.4 418.7,145.4 419.6,146.7 420.4,150.7 421.2,144.9 422.1,144.9 422.9,149.0 423.8,138.9 424.6,144.7 425.5,147.0 426.3,156.4 427.2,154.8 428.0,137.3 428.8,157.0 429.7,145.9 430.5,149.7 431.4,143.4 432.2,140.0 433.1,153.0 433.9,152.6 434.8,149.0 435.6,150.8 436.4,149.7 437.3,151.5 438.1,144.9 439.0,139.7 439.8,146.9 440.7,155.0 441.5,143.3 442.4,148.0 443.2,147.3" stroke="#2d5687"/>
<path d="M257.4,114.3 258.2,115.2 259.1,113.6 259.9,113.5 260.8,112.8 261.6,112.6 262.5,111.7 263.3,111.7 264.2,111.4 265.0,110.6 265.8,110.1 266.7,109.8 267.5,109.3 268.4,108.4 269.2,107.9 270.1,107.7 270.9,107.1 271.8,107.0 272.6,105.6 273.4,105.6 274.3,104.7 275.1,104.7 276.0,104.4 276.8,104.8 277.7,105.7 278.5,106.0 279.4,107.3 280.2,107.4 281.0,108.8 281.9,108.8 282.7,109.0 283.6,109.6 284.4,109.9 285.3,110.2 286.1,110.2 287.0,110.0 287.8,110.1 288.6,110.5 289.5,111.0 290.3,110.7 291.2,111.6 292.0,111.8 292.9,112.2 293.7,112.4 294.6,113.3 295.4,113.8 296.2,114.6 297.1,115.7 297.9,116.3 298.8,117.0 299.6,118.4 300.5,119.4 301.3,121.0 302.2,122.1 303.0,123.7 303.8,124.9 304.7,125.9 305.5,126.0 306.4,126.9 307.2,127.2 308.1,127.3 308.9,127.3 309.8,127.8 310.6,127.9 311.5,127.6 312.3,127.8 313.1,128.1 314.0,129.2 314.8,128.7 315.7,128.8 316.5,129.0 317.4,129.0 318.2,128.3 319.1,129.1 319.9,129.4 320.7,129.1 321.6,129.5 322.4,129.8 323.3,130.3 324.1,130.2 325.0,129.9 325.8,131.1 326.7,131.2 327.5,130.0 328.3,130.3 329.2,131.1 330.0,131.4 330.9,131.1 331.7,131.6 332.6,131.2 333.4,130.1 334.3,131.1 335.1,130.4 335.9,131.6 336.8,131.5 337.6,130.9 338.5,133.0 339.3,132.1 340.2,132.2 341.0,131.9 341.9,130.8 342.7,131.6 343.5,133.6 344.4,133.2 345.2,133.7 346.1,133.7 346.9,130.8 347.8,133.8 348.6,132.7 349.5,133.8 350.3,132.3 351.1,133.0 352.0,133.4 352.8,133.4 353.7,132.1 354.5,134.2 355.4,133.9 356.2,134.3 357.1,131.7 357.9,133.6 358.7,134.5 359.6,133.8 360.4,130.3 361.3,133.5 362.1,132.2 363.0,133.1 363.8,133.6 364.7,134.9 365.5,134.5 366.3,134.8 367.2,137.4 368.0,130.8 368.9,132.8 369.7,133.8 370.6,133.9 371.4,134.7 372.3,132.1 373.1,134.1 373.9,133.2 374.8,135.8 375.6,132.7 376.5,129.7 377.3,134.2 378.2,132.1 379.0,133.1 379.9,130.3 380.7,130.8 381.5,133.0 382.4,134.6 383.2,132.9 384.1,133.1 384.9,135.1 385.8,133.0 386.6,133.3 387.5,135.7 388.3,133.9 389.1,127.0 390.0,131.4 390.8,133.1 391.7,128.2 392.5,135.1 393.4,139.2 394.2,139.0 395.1,138.7 395.9,135.4 396.8,132.2 397.6,141.4 398.4,130.7 399.3,139.4 400.1,134.1 401.0,133.8 401.8,133.3 402.7,134.8 403.5,134.6 404.4,138.0 405.2,132.5 406.0,129.0 406.9,129.8 407.7,121.7 408.6,126.6 409.4,127.9 410.3,123.8 411.1,129.1 412.0,137.2 412.8,144.4 413.6,127.2 414.5,131.9 415.3,130.1 416.2,136.4 417.0,130.9 417.9,121.5 418.7,133.1 419.6,140.3 420.4,135.0 421.2,123.2 422.1,141.1 422.9,152.5 423.8,149.3 424.6,144.3 425.5,127.3 426.3,132.7 427.2,138.4 428.0,142.6 428.8,132.7 429.7,134.4 430.5,138.4 431.4,133.6 432.2,135.9 433.1,116.2 433.9,155.2 434.8,134.3 435.6,144.0 436.4,131.1 437.3,142.5 438.1,137.6 439.0,136.3 439.8,137.4 440.7,131.0 441.5,152.2 442.4,130.7 443.2,141.8" stroke="#6090c8"/>
<path d="M257.4,120.9 258.2,121.7 259.1,122.3 259.9,123.0 260.8,122.6 261.6,122.5 262.5,123.1 263.3,123.1 264.2,123.1 265.0,123.7 265.8,122.7 266.7,123.7 267.5,123.2 268.4,122.3 269.2,123.0 270.1,122.7 270.9,122.7 271.8,122.2 272.6,122.7 273.4,122.3 274.3,121.6 275.1,122.0 276.0,122.3 276.8,122.4 277.7,122.7 278.5,123.1 279.4,123.4 280.2,124.3 281.0,124.1 281.9,124.7 282.7,124.5 283.6,124.8 284.4,125.1 285.3,124.9 286.1,125.3 287.0,124.7 287.8,125.0 288.6,125.0 289.5,125.6 290.3,124.9 291.2,125.6 292.0,125.2 292.9,125.4 293.7,126.0 294.6,125.8 295.4,126.1 296.2,125.8 297.1,125.6 297.9,125.9 298.8,125.8 299.6,126.5 300.5,126.2 301.3,126.1 302.2,126.0 303.0,126.5 303.8,126.3 304.7,126.4 305.5,127.0 306.4,126.9 307.2,126.6 308.1,127.2 308.9,127.3 309.8,126.8 310.6,127.1 311.5,127.4 312.3,127.4 313.1,127.8 314.0,128.0 314.8,128.0 315.7,127.9 316.5,127.6 317.4,128.4 318.2,128.2 319.1,128.5 319.9,129.0 320.7,128.5 321.6,128.1 322.4,128.9 323.3,128.3 324.1,129.0 325.0,128.4 325.8,128.3 326.7,129.2 327.5,130.0 328.3,129.2 329.2,129.9 330.0,129.8 330.9,129.4 331.7,128.6 332.6,129.9 333.4,130.1 334.3,131.4 335.1,130.5 335.9,131.1 336.8,129.8 337.6,130.6 338.5,130.3 339.3,130.3 340.2,130.9 341.0,130.0 341.9,130.7 342.7,131.3 343.5,131.1 344.4,130.8 345.2,130.3 346.1,131.5 346.9,130.5 347.8,132.4 348.6,132.1 349.5,133.3 350.3,131.3 351.1,133.2 352.0,133.5 352.8,131.5 353.7,133.3 354.5,133.4 355.4,131.5 356.2,132.6 357.1,131.5 357.9,132.5 358.7,130.9 359.6,130.3 360.4,131.6 361.3,129.7 362.1,132.3 363.0,132.2 363.8,132.3 364.7,131.4 365.5,133.2 366.3,132.9 367.2,131.5 368.0,130.2 368.9,133.2 369.7,134.7 370.6,133.2 371.4,132.5 372.3,134.5 373.1,133.3 373.9,136.5 374.8,133.7 375.6,134.1 376.5,133.0 377.3,134.0 378.2,133.2 379.0,136.2 379.9,132.7 380.7,137.2 381.5,135.3 382.4,131.8 383.2,131.8 384.1,137.2 384.9,132.8 385.8,135.2 386.6,135.9 387.5,133.9 388.3,134.3 389.1,132.0 390.0,137.9 390.8,136.0 391.7,134.4 392.5,138.0 393.4,130.2 394.2,128.7 395.1,134.8 395.9,131.5 396.8,132.0 397.6,129.2 398.4,133.2 399.3,128.2 400.1,135.5 401.0,126.3 401.8,131.0 402.7,122.6 403.5,138.1 404.4,133.3 405.2,139.2 406.0,134.1 406.9,132.5 407.7,139.3 408.6,143.2 409.4,145.9 410.3,137.5 411.1,131.9 412.0,132.7 412.8,138.8 413.6,145.4 414.5,140.4 415.3,147.2 416.2,148.7 417.0,132.6 417.9,140.5 418.7,135.6 419.6,136.8 420.4,125.2 421.2,124.3 422.1,138.4 422.9,133.8 423.8,135.8 424.6,121.1 425.5,124.0 426.3,133.1 427.2,115.2 428.0,132.3 428.8,141.3 429.7,146.4 430.5,135.2 431.4,131.4 432.2,141.8 433.1,131.0 433.9,121.9 434.8,131.2 435.6,121.1 436.4,115.8 437.3,127.0 438.1,133.7 439.0,122.3 439.8,121.1 440.7,106.4 441.5,133.0 442.4,145.4 443.2,126.2" stroke="#a3bfe0"/>
</g>
<rect x="257.4" y="4.5" width="185.8" height="186.4" fill="none" stroke="#2a2a2a" stroke-width="1"/>
<line x1="254.8" y1="190.83" x2="257.4" y2="190.83" stroke="#2a2a2a" stroke-width="1.0" />
<text x="252.6" y="194.73" font-size="11.2" text-anchor="end" fill="#111" >−6</text>
<line x1="255.9" y1="175.3" x2="257.4" y2="175.3" stroke="#2a2a2a" stroke-width="1.0" />
<line x1="254.8" y1="159.76" x2="257.4" y2="159.76" stroke="#2a2a2a" stroke-width="1.0" />
<text x="252.6" y="163.66" font-size="11.2" text-anchor="end" fill="#111" >−3</text>
<line x1="255.9" y1="144.23" x2="257.4" y2="144.23" stroke="#2a2a2a" stroke-width="1.0" />
<line x1="254.8" y1="128.7" x2="257.4" y2="128.7" stroke="#2a2a2a" stroke-width="1.0" />
<text x="252.6" y="132.6" font-size="11.2" text-anchor="end" fill="#111" >0</text>
<line x1="255.9" y1="113.17" x2="257.4" y2="113.17" stroke="#2a2a2a" stroke-width="1.0" />
<line x1="254.8" y1="97.63" x2="257.4" y2="97.63" stroke="#2a2a2a" stroke-width="1.0" />
<text x="252.6" y="101.53" font-size="11.2" text-anchor="end" fill="#111" >3</text>
<line x1="255.9" y1="82.1" x2="257.4" y2="82.1" stroke="#2a2a2a" stroke-width="1.0" />
<line x1="254.8" y1="66.57" x2="257.4" y2="66.57" stroke="#2a2a2a" stroke-width="1.0" />
<text x="252.6" y="70.47" font-size="11.2" text-anchor="end" fill="#111" >6</text>
<line x1="255.9" y1="51.04" x2="257.4" y2="51.04" stroke="#2a2a2a" stroke-width="1.0" />
<line x1="254.8" y1="35.5" x2="257.4" y2="35.5" stroke="#2a2a2a" stroke-width="1.0" />
<text x="252.6" y="39.4" font-size="11.2" text-anchor="end" fill="#111" >9</text>
<line x1="255.9" y1="19.97" x2="257.4" y2="19.97" stroke="#2a2a2a" stroke-width="1.0" />
<line x1="254.8" y1="4.44" x2="257.4" y2="4.44" stroke="#2a2a2a" stroke-width="1.0" />
<text x="252.6" y="8.34" font-size="11.2" text-anchor="end" fill="#111" >12</text>
<line x1="274.29" y1="190.9" x2="274.29" y2="193.5" stroke="#2a2a2a" stroke-width="1.0" />
<text x="274.29" y="204.1" font-size="11.2" text-anchor="middle" fill="#111" >500</text>
<line x1="295.4" y1="190.9" x2="295.4" y2="192.4" stroke="#2a2a2a" stroke-width="1.0" />
<line x1="316.52" y1="190.9" x2="316.52" y2="193.5" stroke="#2a2a2a" stroke-width="1.0" />
<text x="316.52" y="204.1" font-size="11.2" text-anchor="middle" fill="#111" >550</text>
<line x1="337.63" y1="190.9" x2="337.63" y2="192.4" stroke="#2a2a2a" stroke-width="1.0" />
<line x1="358.75" y1="190.9" x2="358.75" y2="193.5" stroke="#2a2a2a" stroke-width="1.0" />
<text x="358.75" y="204.1" font-size="11.2" text-anchor="middle" fill="#111" >600</text>
<line x1="379.86" y1="190.9" x2="379.86" y2="192.4" stroke="#2a2a2a" stroke-width="1.0" />
<line x1="400.97" y1="190.9" x2="400.97" y2="193.5" stroke="#2a2a2a" stroke-width="1.0" />
<text x="400.97" y="204.1" font-size="11.2" text-anchor="middle" fill="#111" >650</text>
<line x1="422.09" y1="190.9" x2="422.09" y2="192.4" stroke="#2a2a2a" stroke-width="1.0" />
<line x1="443.2" y1="190.9" x2="443.2" y2="193.5" stroke="#2a2a2a" stroke-width="1.0" />
<text x="443.2" y="204.1" font-size="11.2" text-anchor="middle" fill="#111" >700</text>
<text x="350.3" y="215.6" font-size="11.2" text-anchor="middle" fill="#111" >Wavelength (nm)</text>
<text x="238.5" y="93.8" font-size="11.2" text-anchor="middle" fill="#111" transform="rotate(-90 238.5 93.8)">ΔA ( OD * 10<tspan dy="-4" font-size="7.5">-3</tspan><tspan dy="4">)</tspan></text>
<line x1="372" y1="16.4" x2="397.7" y2="16.4" stroke="#1c2a40" stroke-width="1.0" />
<text x="401" y="20.4" font-size="11.2" fill="#1c2a40" font-weight="bold" >1 fs</text>
<line x1="372" y1="30.35" x2="397.7" y2="30.35" stroke="#243d5e" stroke-width="1.0" />
<text x="401" y="34.35" font-size="11.2" fill="#243d5e" font-weight="bold" >5 fs</text>
<line x1="372" y1="44.3" x2="397.7" y2="44.3" stroke="#2d5687" stroke-width="1.0" />
<text x="401" y="48.3" font-size="11.2" fill="#2d5687" font-weight="bold" >10 fs</text>
<line x1="372" y1="58.25" x2="397.7" y2="58.25" stroke="#6090c8" stroke-width="1.0" />
<text x="401" y="62.25" font-size="11.2" fill="#6090c8" font-weight="bold" >100 fs</text>
<line x1="372" y1="72.2" x2="397.7" y2="72.2" stroke="#a3bfe0" stroke-width="1.0" />
<text x="401" y="76.2" font-size="11.2" fill="#a3bfe0" font-weight="bold" >500 fs</text>
<g fill="none" stroke-width="1.1" stroke-linejoin="round">
<path d="M257.4,288.6 258.2,286.7 259.1,285.2 259.9,283.7 260.8,281.9 261.6,280.1 262.5,278.2 263.3,276.0 264.2,273.7 265.0,270.8 265.8,268.5 266.7,265.7 267.5,263.1 268.4,260.1 269.2,256.8 270.1,253.4 270.9,250.0 271.8,247.4 272.6,244.6 273.4,241.9 274.3,240.2 275.1,238.8 276.0,239.9 276.8,241.0 277.7,242.6 278.5,246.2 279.4,249.1 280.2,254.9 281.0,262.2 281.9,270.2 282.7,275.9 283.6,280.9 284.4,285.5 285.3,290.3 286.1,293.3 287.0,296.3 287.8,299.3 288.6,302.1 289.5,304.5 290.3,307.3 291.2,308.9 292.0,311.0 292.9,313.4 293.7,316.5 294.6,318.0 295.4,320.1 296.2,322.6 297.1,324.9 297.9,328.6 298.8,331.4 299.6,334.2 300.5,336.9 301.3,339.9 302.2,342.6 303.0,345.4 303.8,348.2 304.7,349.7 305.5,351.5 306.4,352.9 307.2,353.4 308.1,353.9 308.9,354.8 309.8,355.4 310.6,356.2 311.5,357.5 312.3,357.5 313.1,358.4 314.0,360.0 314.8,360.4 315.7,361.4 316.5,361.7 317.4,362.8 318.2,363.5 319.1,364.3 319.9,365.4 320.7,366.1 321.6,365.9 322.4,366.5 323.3,366.8 324.1,367.2 325.0,367.5 325.8,367.6 326.7,368.2 327.5,368.9 328.3,369.8 329.2,370.2 330.0,369.8 330.9,369.6 331.7,369.5 332.6,370.5 333.4,370.2 334.3,370.2 335.1,369.8 335.9,371.1 336.8,370.7 337.6,371.7 338.5,372.8 339.3,373.5 340.2,372.0 341.0,372.0 341.9,371.2 342.7,373.5 343.5,373.0 344.4,373.8 345.2,375.9 346.1,374.2 346.9,375.0 347.8,375.9 348.6,374.1 349.5,376.1 350.3,375.6 351.1,376.6 352.0,377.3 352.8,377.2 353.7,376.7 354.5,378.5 355.4,379.8 356.2,376.8 357.1,378.0 357.9,379.4 358.7,378.7 359.6,380.3 360.4,379.1 361.3,378.6 362.1,381.9 363.0,379.2 363.8,379.1 364.7,380.5 365.5,380.4 366.3,381.5 367.2,382.4 368.0,383.8 368.9,380.1 369.7,383.0 370.6,382.0 371.4,382.9 372.3,382.2 373.1,381.9 373.9,384.3 374.8,382.2 375.6,383.9 376.5,385.0 377.3,381.6 378.2,382.4 379.0,385.3 379.9,384.4 380.7,385.8 381.5,386.4 382.4,386.8 383.2,384.4 384.1,388.3 384.9,388.7 385.8,386.3 386.6,388.6 387.5,385.2 388.3,389.8 389.1,388.9 390.0,390.2 390.8,393.9 391.7,388.7 392.5,387.9 393.4,386.9 394.2,389.7 395.1,387.9 395.9,390.3 396.8,389.8 397.6,391.8 398.4,390.1 399.3,393.0 400.1,390.1 401.0,394.0 401.8,395.5 402.7,392.2 403.5,391.4 404.4,396.1 405.2,395.5 406.0,393.4 406.9,391.3 407.7,391.4 408.6,390.7 409.4,393.6 410.3,393.6 411.1,395.1 412.0,389.7 412.8,392.0 413.6,390.2 414.5,386.5 415.3,382.2 416.2,393.7 417.0,389.4 417.9,398.4 418.7,385.8 419.6,395.3 420.4,391.8 421.2,396.8 422.1,385.8 422.9,390.3 423.8,389.4 424.6,394.3 425.5,390.8 426.3,397.2 427.2,394.3 428.0,385.6 428.8,402.1 429.7,392.9 430.5,386.2 431.4,388.6 432.2,390.5 433.1,395.4 433.9,388.1 434.8,397.1 435.6,395.9 436.4,404.1 437.3,393.3 438.1,397.0 439.0,395.5 439.8,408.0 440.7,402.4 441.5,396.0 442.4,402.5 443.2,392.0" stroke="#553212"/>
<path d="M257.4,302.6 258.2,300.7 259.1,299.7 259.9,297.0 260.8,295.4 261.6,293.6 262.5,291.5 263.3,289.4 264.2,286.9 265.0,284.3 265.8,281.8 266.7,279.2 267.5,277.1 268.4,274.4 269.2,270.8 270.1,268.0 270.9,265.0 271.8,262.7 272.6,260.5 273.4,257.3 274.3,255.4 275.1,254.7 276.0,255.3 276.8,256.2 277.7,257.7 278.5,259.3 279.4,261.8 280.2,265.5 281.0,271.3 281.9,276.3 282.7,280.8 283.6,285.1 284.4,289.0 285.3,292.1 286.1,295.6 287.0,298.6 287.8,301.1 288.6,303.6 289.5,305.6 290.3,308.0 291.2,310.0 292.0,312.0 292.9,314.3 293.7,316.1 294.6,318.6 295.4,320.6 296.2,323.2 297.1,325.5 297.9,328.3 298.8,331.3 299.6,334.2 300.5,336.5 301.3,339.3 302.2,342.8 303.0,345.1 303.8,348.3 304.7,350.0 305.5,351.1 306.4,352.0 307.2,353.1 308.1,353.7 308.9,354.0 309.8,354.7 310.6,355.2 311.5,355.4 312.3,355.9 313.1,356.8 314.0,357.4 314.8,358.0 315.7,358.8 316.5,359.4 317.4,360.3 318.2,360.4 319.1,361.1 319.9,361.7 320.7,361.9 321.6,362.1 322.4,362.2 323.3,363.2 324.1,363.6 325.0,363.7 325.8,364.5 326.7,363.9 327.5,364.4 328.3,364.8 329.2,365.4 330.0,365.3 330.9,365.5 331.7,366.1 332.6,366.5 333.4,367.6 334.3,366.5 335.1,367.7 335.9,368.2 336.8,367.4 337.6,367.9 338.5,369.5 339.3,369.0 340.2,369.7 341.0,369.1 341.9,371.3 342.7,370.4 343.5,370.3 344.4,369.4 345.2,371.5 346.1,373.2 346.9,372.3 347.8,371.0 348.6,370.6 349.5,370.4 350.3,371.9 351.1,372.9 352.0,371.5 352.8,372.3 353.7,372.8 354.5,373.0 355.4,372.2 356.2,374.4 357.1,374.7 357.9,373.9 358.7,374.2 359.6,375.1 360.4,375.3 361.3,374.2 362.1,373.5 363.0,374.5 363.8,375.1 364.7,374.6 365.5,378.4 366.3,378.1 367.2,377.4 368.0,378.1 368.9,378.0 369.7,376.5 370.6,378.5 371.4,377.3 372.3,379.6 373.1,378.8 373.9,375.6 374.8,378.7 375.6,377.4 376.5,377.0 377.3,379.3 378.2,377.7 379.0,377.8 379.9,377.1 380.7,379.4 381.5,381.7 382.4,382.1 383.2,381.5 384.1,379.9 384.9,381.1 385.8,382.2 386.6,382.4 387.5,379.9 388.3,382.6 389.1,378.4 390.0,384.5 390.8,383.8 391.7,381.3 392.5,381.4 393.4,384.8 394.2,383.3 395.1,385.1 395.9,382.0 396.8,382.7 397.6,385.6 398.4,382.9 399.3,384.1 400.1,383.7 401.0,383.9 401.8,386.5 402.7,383.7 403.5,383.7 404.4,384.0 405.2,383.1 406.0,387.7 406.9,392.2 407.7,387.6 408.6,385.4 409.4,386.1 410.3,384.5 411.1,382.7 412.0,386.5 412.8,386.4 413.6,388.2 414.5,382.6 415.3,387.5 416.2,391.2 417.0,389.5 417.9,387.0 418.7,378.7 419.6,381.5 420.4,391.4 421.2,383.5 422.1,382.6 422.9,381.1 423.8,384.3 424.6,390.4 425.5,384.3 426.3,390.5 427.2,396.5 428.0,391.5 428.8,391.4 429.7,385.8 430.5,385.3 431.4,397.5 432.2,390.9 433.1,392.8 433.9,402.2 434.8,404.5 435.6,394.3 436.4,391.1 437.3,394.9 438.1,407.5 439.0,392.2 439.8,397.0 440.7,397.9 441.5,395.1 442.4,398.8 443.2,387.8" stroke="#844a1c"/>
<path d="M257.4,307.7 258.2,306.1 259.1,304.4 259.9,302.5 260.8,300.2 261.6,298.9 262.5,296.4 263.3,294.3 264.2,292.7 265.0,290.6 265.8,288.1 266.7,285.6 267.5,283.0 268.4,280.6 269.2,277.7 270.1,275.5 270.9,273.1 271.8,270.9 272.6,268.4 273.4,265.9 274.3,264.2 275.1,263.9 276.0,263.6 276.8,264.6 277.7,265.7 278.5,267.0 279.4,268.0 280.2,271.6 281.0,275.9 281.9,280.2 282.7,283.4 283.6,287.6 284.4,290.9 285.3,294.3 286.1,298.3 287.0,300.0 287.8,302.8 288.6,305.3 289.5,307.2 290.3,309.0 291.2,311.1 292.0,313.1 292.9,315.3 293.7,316.9 294.6,318.8 295.4,320.7 296.2,323.2 297.1,325.4 297.9,328.2 298.8,331.3 299.6,334.2 300.5,336.8 301.3,339.6 302.2,342.4 303.0,345.9 303.8,348.2 304.7,349.9 305.5,351.6 306.4,352.2 307.2,352.0 308.1,353.0 308.9,353.3 309.8,353.4 310.6,353.9 311.5,354.3 312.3,354.7 313.1,355.1 314.0,355.5 314.8,355.9 315.7,356.0 316.5,356.9 317.4,357.0 318.2,357.7 319.1,358.1 319.9,358.6 320.7,359.3 321.6,359.4 322.4,359.9 323.3,360.8 324.1,360.3 325.0,360.6 325.8,361.1 326.7,361.9 327.5,363.2 328.3,361.5 329.2,362.5 330.0,363.9 330.9,362.9 331.7,364.0 332.6,363.7 333.4,364.6 334.3,364.2 335.1,364.9 335.9,365.2 336.8,365.7 337.6,365.4 338.5,367.4 339.3,366.1 340.2,366.5 341.0,367.8 341.9,367.5 342.7,368.0 343.5,367.8 344.4,367.3 345.2,368.6 346.1,367.8 346.9,368.0 347.8,368.4 348.6,367.6 349.5,369.2 350.3,368.8 351.1,367.2 352.0,369.5 352.8,370.0 353.7,370.1 354.5,370.0 355.4,371.1 356.2,370.7 357.1,372.1 357.9,371.5 358.7,371.4 359.6,371.8 360.4,371.0 361.3,370.0 362.1,370.9 363.0,372.2 363.8,370.6 364.7,370.9 365.5,373.5 366.3,372.5 367.2,374.7 368.0,374.0 368.9,374.2 369.7,371.8 370.6,374.9 371.4,374.5 372.3,374.4 373.1,373.3 373.9,374.2 374.8,377.2 375.6,374.1 376.5,375.5 377.3,374.4 378.2,375.0 379.0,377.5 379.9,377.1 380.7,378.0 381.5,377.8 382.4,375.3 383.2,378.8 384.1,379.4 384.9,374.4 385.8,380.8 386.6,379.4 387.5,379.9 388.3,382.1 389.1,378.2 390.0,378.1 390.8,380.0 391.7,379.7 392.5,379.8 393.4,383.1 394.2,378.5 395.1,382.4 395.9,381.1 396.8,378.1 397.6,376.2 398.4,381.0 399.3,376.3 400.1,375.1 401.0,379.6 401.8,380.7 402.7,379.3 403.5,382.2 404.4,383.6 405.2,379.7 406.0,378.6 406.9,381.8 407.7,381.7 408.6,384.0 409.4,385.8 410.3,386.8 411.1,388.1 412.0,377.8 412.8,382.8 413.6,381.4 414.5,375.7 415.3,384.2 416.2,379.4 417.0,388.5 417.9,385.1 418.7,378.0 419.6,383.0 420.4,389.4 421.2,390.5 422.1,381.2 422.9,386.7 423.8,379.6 424.6,382.3 425.5,386.3 426.3,383.7 427.2,380.0 428.0,382.5 428.8,387.6 429.7,380.8 430.5,385.1 431.4,385.1 432.2,381.9 433.1,383.8 433.9,380.2 434.8,386.7 435.6,387.5 436.4,387.0 437.3,384.2 438.1,391.3 439.0,389.1 439.8,390.9 440.7,391.1 441.5,390.1 442.4,374.5 443.2,391.4" stroke="#b08a1e"/>
<path d="M257.4,328.0 258.2,327.8 259.1,327.7 259.9,328.0 260.8,326.9 261.6,327.4 262.5,326.3 263.3,326.1 264.2,325.7 265.0,325.3 265.8,325.1 266.7,324.9 267.5,324.5 268.4,323.6 269.2,323.5 270.1,322.6 270.9,322.0 271.8,321.1 272.6,320.4 273.4,319.5 274.3,318.7 275.1,317.9 276.0,317.4 276.8,317.2 277.7,318.5 278.5,319.7 279.4,321.6 280.2,324.1 281.0,325.4 281.9,325.7 282.7,327.7 283.6,328.9 284.4,329.5 285.3,329.6 286.1,330.4 287.0,332.0 287.8,332.3 288.6,333.1 289.5,333.9 290.3,335.0 291.2,334.9 292.0,336.0 292.9,336.3 293.7,337.0 294.6,337.3 295.4,338.2 296.2,339.6 297.1,340.2 297.9,340.9 298.8,342.6 299.6,343.8 300.5,345.3 301.3,347.5 302.2,349.0 303.0,350.5 303.8,350.9 304.7,351.6 305.5,351.3 306.4,351.4 307.2,351.4 308.1,351.5 308.9,351.4 309.8,351.7 310.6,352.0 311.5,351.5 312.3,351.6 313.1,351.2 314.0,351.8 314.8,352.0 315.7,352.5 316.5,353.4 317.4,352.5 318.2,351.7 319.1,352.3 319.9,352.9 320.7,351.6 321.6,352.1 322.4,352.1 323.3,352.2 324.1,352.2 325.0,352.0 325.8,353.1 326.7,352.2 327.5,352.3 328.3,351.5 329.2,352.8 330.0,351.4 330.9,352.1 331.7,351.7 332.6,353.4 333.4,352.6 334.3,353.2 335.1,354.7 335.9,353.9 336.8,354.3 337.6,354.7 338.5,354.7 339.3,355.3 340.2,354.8 341.0,354.2 341.9,355.1 342.7,355.7 343.5,353.7 344.4,354.9 345.2,354.4 346.1,354.5 346.9,354.7 347.8,353.6 348.6,354.7 349.5,353.9 350.3,355.1 351.1,355.3 352.0,354.5 352.8,352.3 353.7,354.2 354.5,352.8 355.4,354.7 356.2,354.5 357.1,355.7 357.9,354.8 358.7,353.3 359.6,353.9 360.4,356.4 361.3,356.1 362.1,354.3 363.0,356.7 363.8,355.2 364.7,357.6 365.5,355.7 366.3,354.7 367.2,355.5 368.0,355.9 368.9,356.5 369.7,357.1 370.6,357.4 371.4,355.2 372.3,355.1 373.1,355.6 373.9,358.4 374.8,357.1 375.6,355.9 376.5,356.8 377.3,360.0 378.2,356.2 379.0,352.1 379.9,358.7 380.7,356.4 381.5,353.3 382.4,357.4 383.2,357.5 384.1,356.5 384.9,355.7 385.8,358.3 386.6,355.4 387.5,361.9 388.3,356.2 389.1,356.7 390.0,357.4 390.8,356.9 391.7,357.5 392.5,354.1 393.4,358.2 394.2,357.4 395.1,361.2 395.9,360.4 396.8,357.4 397.6,360.9 398.4,359.5 399.3,361.1 400.1,359.1 401.0,356.5 401.8,353.1 402.7,360.8 403.5,354.0 404.4,350.3 405.2,349.1 406.0,349.6 406.9,361.2 407.7,356.7 408.6,351.9 409.4,349.5 410.3,352.7 411.1,353.2 412.0,353.0 412.8,358.5 413.6,355.4 414.5,352.2 415.3,358.3 416.2,351.5 417.0,371.8 417.9,360.2 418.7,347.8 419.6,351.3 420.4,348.3 421.2,355.4 422.1,362.7 422.9,357.5 423.8,346.6 424.6,364.6 425.5,361.2 426.3,365.0 427.2,358.0 428.0,357.2 428.8,351.5 429.7,358.4 430.5,340.8 431.4,348.8 432.2,356.3 433.1,357.9 433.9,361.1 434.8,349.7 435.6,337.1 436.4,351.4 437.3,357.5 438.1,348.9 439.0,351.6 439.8,354.0 440.7,363.2 441.5,348.2 442.4,339.1 443.2,343.4" stroke="#f59a4a"/>
<path d="M257.4,333.5 258.2,335.1 259.1,336.7 259.9,337.5 260.8,338.5 261.6,339.3 262.5,339.8 263.3,341.0 264.2,341.0 265.0,342.2 265.8,342.5 266.7,342.5 267.5,342.8 268.4,343.0 269.2,342.1 270.1,342.2 270.9,342.3 271.8,341.7 272.6,341.7 273.4,341.5 274.3,342.5 275.1,342.7 276.0,344.0 276.8,343.8 277.7,344.4 278.5,344.7 279.4,345.8 280.2,346.5 281.0,346.8 281.9,346.8 282.7,346.5 283.6,347.2 284.4,347.4 285.3,348.4 286.1,348.8 287.0,349.1 287.8,349.1 288.6,350.0 289.5,350.2 290.3,350.0 291.2,350.9 292.0,350.9 292.9,351.3 293.7,351.1 294.6,350.8 295.4,350.8 296.2,351.5 297.1,351.8 297.9,350.9 298.8,350.6 299.6,351.2 300.5,351.0 301.3,351.0 302.2,351.7 303.0,351.8 303.8,351.0 304.7,350.9 305.5,351.4 306.4,351.1 307.2,351.2 308.1,351.1 308.9,351.1 309.8,350.4 310.6,350.7 311.5,350.7 312.3,350.8 313.1,350.3 314.0,350.5 314.8,350.2 315.7,350.4 316.5,350.0 317.4,350.0 318.2,349.7 319.1,350.3 319.9,349.9 320.7,349.9 321.6,348.4 322.4,349.3 323.3,348.7 324.1,349.4 325.0,348.8 325.8,349.4 326.7,348.7 327.5,349.4 328.3,348.2 329.2,349.6 330.0,348.7 330.9,349.6 331.7,349.7 332.6,351.1 333.4,350.7 334.3,351.3 335.1,352.1 335.9,351.6 336.8,353.4 337.6,352.9 338.5,352.9 339.3,353.0 340.2,353.9 341.0,353.0 341.9,354.4 342.7,354.1 343.5,354.4 344.4,354.1 345.2,353.6 346.1,351.5 346.9,356.3 347.8,353.5 348.6,353.5 349.5,352.9 350.3,354.1 351.1,354.1 352.0,352.8 352.8,354.1 353.7,354.2 354.5,354.3 355.4,353.9 356.2,352.4 357.1,355.0 357.9,352.9 358.7,356.8 359.6,354.1 360.4,355.4 361.3,353.9 362.1,354.4 363.0,354.0 363.8,354.4 364.7,354.5 365.5,357.7 366.3,353.7 367.2,356.0 368.0,353.3 368.9,356.0 369.7,355.3 370.6,356.1 371.4,355.6 372.3,355.0 373.1,354.3 373.9,356.3 374.8,351.9 375.6,356.8 376.5,356.0 377.3,360.4 378.2,354.8 379.0,352.8 379.9,352.9 380.7,354.2 381.5,354.8 382.4,356.6 383.2,356.0 384.1,355.6 384.9,356.1 385.8,358.9 386.6,358.0 387.5,355.2 388.3,355.5 389.1,355.9 390.0,357.4 390.8,355.5 391.7,356.3 392.5,352.6 393.4,355.8 394.2,353.0 395.1,358.8 395.9,349.9 396.8,356.9 397.6,352.4 398.4,352.6 399.3,353.7 400.1,353.8 401.0,355.4 401.8,352.4 402.7,350.5 403.5,346.2 404.4,346.1 405.2,344.6 406.0,349.8 406.9,354.7 407.7,341.9 408.6,347.9 409.4,361.5 410.3,348.7 411.1,352.0 412.0,354.1 412.8,352.2 413.6,349.5 414.5,352.7 415.3,349.3 416.2,351.7 417.0,352.4 417.9,350.7 418.7,350.6 419.6,344.5 420.4,350.7 421.2,358.2 422.1,351.0 422.9,340.4 423.8,338.8 424.6,354.0 425.5,346.1 426.3,352.2 427.2,349.3 428.0,358.4 428.8,359.9 429.7,353.5 430.5,350.8 431.4,350.0 432.2,357.0 433.1,351.9 433.9,350.5 434.8,352.4 435.6,370.5 436.4,359.6 437.3,352.5 438.1,349.7 439.0,360.4 439.8,348.4 440.7,376.2 441.5,346.1 442.4,358.6 443.2,350.8" stroke="#fbc02d"/>
</g>
<rect x="257.4" y="227.4" width="185.8" height="186.1" fill="none" stroke="#2a2a2a" stroke-width="1"/>
<line x1="254.8" y1="413.44" x2="257.4" y2="413.44" stroke="#2a2a2a" stroke-width="1.0" />
<text x="252.6" y="417.34" font-size="11.2" text-anchor="end" fill="#111" >−6</text>
<line x1="255.9" y1="397.93" x2="257.4" y2="397.93" stroke="#2a2a2a" stroke-width="1.0" />
<line x1="254.8" y1="382.42" x2="257.4" y2="382.42" stroke="#2a2a2a" stroke-width="1.0" />
<text x="252.6" y="386.32" font-size="11.2" text-anchor="end" fill="#111" >−3</text>
<line x1="255.9" y1="366.91" x2="257.4" y2="366.91" stroke="#2a2a2a" stroke-width="1.0" />
<line x1="254.8" y1="351.4" x2="257.4" y2="351.4" stroke="#2a2a2a" stroke-width="1.0" />
<text x="252.6" y="355.3" font-size="11.2" text-anchor="end" fill="#111" >0</text>
<line x1="255.9" y1="335.89" x2="257.4" y2="335.89" stroke="#2a2a2a" stroke-width="1.0" />
<line x1="254.8" y1="320.38" x2="257.4" y2="320.38" stroke="#2a2a2a" stroke-width="1.0" />
<text x="252.6" y="324.28" font-size="11.2" text-anchor="end" fill="#111" >3</text>
<line x1="255.9" y1="304.87" x2="257.4" y2="304.87" stroke="#2a2a2a" stroke-width="1.0" />
<line x1="254.8" y1="289.36" x2="257.4" y2="289.36" stroke="#2a2a2a" stroke-width="1.0" />
<text x="252.6" y="293.26" font-size="11.2" text-anchor="end" fill="#111" >6</text>
<line x1="255.9" y1="273.85" x2="257.4" y2="273.85" stroke="#2a2a2a" stroke-width="1.0" />
<line x1="254.8" y1="258.34" x2="257.4" y2="258.34" stroke="#2a2a2a" stroke-width="1.0" />
<text x="252.6" y="262.24" font-size="11.2" text-anchor="end" fill="#111" >9</text>
<line x1="255.9" y1="242.83" x2="257.4" y2="242.83" stroke="#2a2a2a" stroke-width="1.0" />
<line x1="254.8" y1="227.32" x2="257.4" y2="227.32" stroke="#2a2a2a" stroke-width="1.0" />
<text x="252.6" y="231.22" font-size="11.2" text-anchor="end" fill="#111" >12</text>
<line x1="274.29" y1="413.5" x2="274.29" y2="416.1" stroke="#2a2a2a" stroke-width="1.0" />
<text x="274.29" y="426.7" font-size="11.2" text-anchor="middle" fill="#111" >500</text>
<line x1="295.4" y1="413.5" x2="295.4" y2="415" stroke="#2a2a2a" stroke-width="1.0" />
<line x1="316.52" y1="413.5" x2="316.52" y2="416.1" stroke="#2a2a2a" stroke-width="1.0" />
<text x="316.52" y="426.7" font-size="11.2" text-anchor="middle" fill="#111" >550</text>
<line x1="337.63" y1="413.5" x2="337.63" y2="415" stroke="#2a2a2a" stroke-width="1.0" />
<line x1="358.75" y1="413.5" x2="358.75" y2="416.1" stroke="#2a2a2a" stroke-width="1.0" />
<text x="358.75" y="426.7" font-size="11.2" text-anchor="middle" fill="#111" >600</text>
<line x1="379.86" y1="413.5" x2="379.86" y2="415" stroke="#2a2a2a" stroke-width="1.0" />
<line x1="400.97" y1="413.5" x2="400.97" y2="416.1" stroke="#2a2a2a" stroke-width="1.0" />
<text x="400.97" y="426.7" font-size="11.2" text-anchor="middle" fill="#111" >650</text>
<line x1="422.09" y1="413.5" x2="422.09" y2="415" stroke="#2a2a2a" stroke-width="1.0" />
<line x1="443.2" y1="413.5" x2="443.2" y2="416.1" stroke="#2a2a2a" stroke-width="1.0" />
<text x="443.2" y="426.7" font-size="11.2" text-anchor="middle" fill="#111" >700</text>
<text x="350.3" y="438.2" font-size="11.2" text-anchor="middle" fill="#111" >Wavelength (nm)</text>
<text x="238.5" y="316.7" font-size="11.2" text-anchor="middle" fill="#111" transform="rotate(-90 238.5 316.7)">ΔA ( OD * 10<tspan dy="-4" font-size="7.5">-3</tspan><tspan dy="4">)</tspan></text>
<line x1="373.3" y1="237.3" x2="399" y2="237.3" stroke="#553212" stroke-width="1.0" />
<text x="402.1" y="241.3" font-size="11.2" fill="#553212" font-weight="bold" >1 fs</text>
<line x1="373.3" y1="251.25" x2="399" y2="251.25" stroke="#844a1c" stroke-width="1.0" />
<text x="402.1" y="255.25" font-size="11.2" fill="#844a1c" font-weight="bold" >5 fs</text>
<line x1="373.3" y1="265.2" x2="399" y2="265.2" stroke="#b08a1e" stroke-width="1.0" />
<text x="402.1" y="269.2" font-size="11.2" fill="#b08a1e" font-weight="bold" >10 fs</text>
<line x1="373.3" y1="279.15" x2="399" y2="279.15" stroke="#f59a4a" stroke-width="1.0" />
<text x="402.1" y="283.15" font-size="11.2" fill="#f59a4a" font-weight="bold" >100 fs</text>
<line x1="373.3" y1="293.1" x2="399" y2="293.1" stroke="#fbc02d" stroke-width="1.0" />
<text x="402.1" y="297.1" font-size="11.2" fill="#fbc02d" font-weight="bold" >500 fs</text>
<rect x="531.2" y="57.1" width="137.2" height="13.7" fill="#d9e2f3"/>
<line x1="531.2" y1="43.3" x2="668.4" y2="43.3" stroke="#8faadc" stroke-width="1.0" />
<line x1="531.2" y1="57.1" x2="668.4" y2="57.1" stroke="#8faadc" stroke-width="1.0" />
<line x1="531.2" y1="84.5" x2="668.4" y2="84.5" stroke="#8faadc" stroke-width="1.0" />
<text x="583.4" y="53.9" font-size="8.8" text-anchor="middle" fill="#111" font-weight="bold">t<tspan font-size="5.8" dy="1.6">1</tspan></text>
<text x="617.2" y="53.9" font-size="8.8" text-anchor="middle" fill="#111" font-weight="bold">t<tspan font-size="5.8" dy="1.6">2</tspan></text>
<text x="650.4" y="53.9" font-size="8.8" text-anchor="middle" fill="#111" font-weight="bold">t<tspan font-size="5.8" dy="1.6">ave</tspan></text>
<text x="548.3" y="66.9" font-size="8.3" text-anchor="middle" fill="#111" >t (ps)</text>
<text x="548.3" y="80.4" font-size="8.3" text-anchor="middle" fill="#111" >A</text>
<text x="582.8" y="66.9" font-size="8.3" text-anchor="middle" fill="#111" >15.6</text>
<text x="582.8" y="80.4" font-size="8.3" text-anchor="middle" fill="#111" >0.41</text>
<text x="616.6" y="66.9" font-size="8.3" text-anchor="middle" fill="#111" >204</text>
<text x="616.6" y="80.4" font-size="8.3" text-anchor="middle" fill="#111" >0.59</text>
<text x="651" y="66.9" font-size="8.3" text-anchor="middle" fill="#111" >126</text>
<text x="651" y="80.4" font-size="8.3" text-anchor="middle" fill="#111" ></text>
<g fill="#afc9e8"><circle cx="501.6" cy="187.5" r="1.6"/><circle cx="501.6" cy="180.9" r="1.6"/><circle cx="501.6" cy="160.7" r="1.6"/><circle cx="501.6" cy="132.2" r="1.6"/><circle cx="501.6" cy="106.7" r="1.6"/><circle cx="501.6" cy="90.1" r="1.6"/><circle cx="501.6" cy="85.2" r="1.6"/><circle cx="501.6" cy="73.6" r="1.6"/><circle cx="501.6" cy="62.7" r="1.6"/><circle cx="501.6" cy="50.4" r="1.6"/><circle cx="501.6" cy="42.8" r="1.6"/><circle cx="501.6" cy="35.1" r="1.6"/><circle cx="501.7" cy="41.3" r="1.6"/><circle cx="501.8" cy="45.3" r="1.6"/><circle cx="502.0" cy="37.0" r="1.6"/><circle cx="502.1" cy="41.8" r="1.6"/><circle cx="502.2" cy="49.7" r="1.6"/><circle cx="502.4" cy="43.3" r="1.6"/><circle cx="502.5" cy="47.8" r="1.6"/><circle cx="502.6" cy="50.6" r="1.6"/><circle cx="502.7" cy="51.3" r="1.6"/><circle cx="502.9" cy="59.0" r="1.6"/><circle cx="503.0" cy="49.5" r="1.6"/><circle cx="503.1" cy="57.8" r="1.6"/><circle cx="503.3" cy="56.6" r="1.6"/><circle cx="503.4" cy="62.4" r="1.6"/><circle cx="503.5" cy="52.5" r="1.6"/><circle cx="503.6" cy="65.1" r="1.6"/><circle cx="503.8" cy="53.3" r="1.6"/><circle cx="503.9" cy="62.4" r="1.6"/><circle cx="504.0" cy="59.2" r="1.6"/><circle cx="504.2" cy="58.9" r="1.6"/><circle cx="504.3" cy="61.4" r="1.6"/><circle cx="504.4" cy="61.0" r="1.6"/><circle cx="504.5" cy="58.0" r="1.6"/><circle cx="504.7" cy="62.8" r="1.6"/><circle cx="504.8" cy="62.2" r="1.6"/><circle cx="504.9" cy="66.2" r="1.6"/><circle cx="505.1" cy="73.1" r="1.6"/><circle cx="505.2" cy="63.2" r="1.6"/><circle cx="505.3" cy="69.5" r="1.6"/><circle cx="505.4" cy="64.0" r="1.6"/><circle cx="505.6" cy="73.3" r="1.6"/><circle cx="505.7" cy="64.3" r="1.6"/><circle cx="505.8" cy="65.1" r="1.6"/><circle cx="506.0" cy="67.8" r="1.6"/><circle cx="506.1" cy="74.1" r="1.6"/><circle cx="506.2" cy="69.8" r="1.6"/><circle cx="506.3" cy="75.8" r="1.6"/><circle cx="506.5" cy="78.5" r="1.6"/><circle cx="506.6" cy="70.4" r="1.6"/><circle cx="506.7" cy="77.8" r="1.6"/><circle cx="503.4" cy="63.2" r="1.6"/><circle cx="503.8" cy="63.5" r="1.6"/><circle cx="504.3" cy="62.1" r="1.6"/><circle cx="504.8" cy="66.6" r="1.6"/><circle cx="505.2" cy="62.1" r="1.6"/><circle cx="505.7" cy="70.4" r="1.6"/><circle cx="506.2" cy="72.9" r="1.6"/><circle cx="506.6" cy="74.9" r="1.6"/><circle cx="507.1" cy="75.7" r="1.6"/><circle cx="507.6" cy="77.7" r="1.6"/><circle cx="508.0" cy="87.2" r="1.6"/><circle cx="508.5" cy="78.3" r="1.6"/><circle cx="509.0" cy="89.7" r="1.6"/><circle cx="509.4" cy="81.4" r="1.6"/><circle cx="507.0" cy="77.0" r="1.6"/><circle cx="508.4" cy="84.5" r="1.6"/><circle cx="511.1" cy="90.6" r="1.6"/><circle cx="512.1" cy="93.4" r="1.6"/><circle cx="514.5" cy="97.4" r="1.6"/><circle cx="516.6" cy="99.5" r="1.6"/><circle cx="518.6" cy="103.6" r="1.6"/><circle cx="521.3" cy="107.7" r="1.6"/><circle cx="524.7" cy="110.4" r="1.6"/><circle cx="528.1" cy="114.5" r="1.6"/><circle cx="530.9" cy="116.5" r="1.6"/><circle cx="535.6" cy="121.3" r="1.6"/><circle cx="539.7" cy="124.0" r="1.6"/><circle cx="542.4" cy="126.7" r="1.6"/><circle cx="541.8" cy="126.9" r="1.6"/><circle cx="544.9" cy="133.8" r="1.6"/><circle cx="547.7" cy="136.9" r="1.6"/><circle cx="550.7" cy="134.5" r="1.6"/><circle cx="553.6" cy="137.6" r="1.6"/><circle cx="559.2" cy="137.6" r="1.6"/><circle cx="565.0" cy="141.7" r="1.6"/><circle cx="571.0" cy="144.3" r="1.6"/><circle cx="576.8" cy="149.8" r="1.6"/><circle cx="582.4" cy="149.6" r="1.6"/><circle cx="588.3" cy="152.5" r="1.6"/><circle cx="594.2" cy="155.3" r="1.6"/><circle cx="600.3" cy="157.3" r="1.6"/><circle cx="605.9" cy="156.6" r="1.6"/><circle cx="611.8" cy="155.4" r="1.6"/><circle cx="623.4" cy="159.5" r="1.6"/><circle cx="635.2" cy="161.1" r="1.6"/><circle cx="647.0" cy="163.6" r="1.6"/><circle cx="658.5" cy="167.5" r="1.6"/><circle cx="670.3" cy="170.5" r="1.6"/></g>
<path d="M501.6,188.3 501.6,111.7 502.0,35.1 502.2,41.2 502.5,43.5 502.7,45.3 502.9,47.0 503.2,48.7 503.4,50.3 503.6,51.8 503.9,53.4 504.1,54.9 504.3,56.3 504.6,57.7 504.8,59.1 505.0,60.5 505.3,61.8 505.5,63.1 505.7,64.3 506.0,65.6 506.2,66.8 506.4,68.0 506.7,69.1 506.9,70.2 507.1,71.3 507.4,72.4 507.6,73.4 507.8,74.5 508.1,75.5 508.3,76.4 508.5,77.4 508.8,78.3 509.0,79.3 509.2,80.1 509.5,81.0 509.7,81.9 509.9,82.7 510.2,83.5 510.4,84.3 510.6,85.1 510.9,85.9 511.1,86.7 511.3,87.4 511.6,88.1 511.8,88.8 512.0,89.5 512.3,90.2 512.5,90.9 512.7,91.5 513.0,92.1 513.2,92.8 513.3,92.9 514.4,95.9 515.6,98.5 516.8,101.0 517.9,103.2 519.1,105.2 520.3,107.1 521.4,108.9 522.6,110.5 523.8,112.0 524.9,113.4 526.1,114.8 527.3,116.0 528.4,117.2 529.6,118.4 530.8,119.5 531.9,120.5 533.1,121.5 534.3,122.5 535.4,123.4 536.6,124.3 537.8,125.2 538.9,126.0 540.1,126.9 541.3,127.7 542.4,128.5 543.6,129.2 544.8,130.0 545.9,130.7 547.1,131.4 548.3,132.1 549.4,132.8 550.6,133.5 551.8,134.2 552.9,134.8 554.1,135.5 555.3,136.1 556.4,136.8 557.6,137.4 558.8,138.0 560.0,138.6 561.1,139.2 562.3,139.8 563.5,140.4 564.6,141.0 565.8,141.5 567.0,142.1 568.1,142.6 569.3,143.2 570.5,143.7 571.6,144.3 572.8,144.8 574.0,145.3 575.1,145.8 576.3,146.3 577.5,146.8 578.6,147.3 579.8,147.8 581.0,148.3 582.1,148.8 583.3,149.2 584.5,149.7 585.6,150.1 586.8,150.6 588.0,151.1 589.1,151.5 590.3,151.9 591.5,152.4 592.6,152.8 593.8,153.2 595.0,153.6 596.1,154.0 597.3,154.4 598.5,154.9 599.6,155.2 600.8,155.6 602.0,156.0 603.1,156.4 604.3,156.8 605.5,157.2 606.6,157.5 607.8,157.9 609.0,158.3 610.1,158.6 611.3,159.0 612.5,159.3 613.6,159.7 614.8,160.0 616.0,160.3 617.1,160.7 618.3,161.0 619.5,161.3 620.6,161.6 621.8,162.0 623.0,162.3 624.1,162.6 625.3,162.9 626.5,163.2 627.6,163.5 628.8,163.8 630.0,164.1 631.1,164.4 632.3,164.7 633.5,164.9 634.6,165.2 635.8,165.5 637.0,165.8 638.1,166.0 639.3,166.3 640.5,166.5 641.6,166.8 642.8,167.1 644.0,167.3 645.1,167.6 646.3,167.8 647.5,168.1 648.6,168.3 649.8,168.5 651.0,168.8 652.1,169.0 653.3,169.2 654.5,169.5 655.6,169.7 656.8,169.9 658.0,170.1 659.1,170.3 660.3,170.5 661.5,170.8 662.6,171.0 663.8,171.2 665.0,171.4 666.1,171.6 667.3,171.8 668.5,172.0 669.6,172.2 670.8,172.4 672.0,172.5 673.1,172.7 674.3,172.9 675.5,173.1 676.7,173.3" fill="none" stroke="#5589c4" stroke-width="1.0"/>
<rect x="490.4" y="4.5" width="185.9" height="186.7" fill="none" stroke="#2a2a2a" stroke-width="1"/>
<line x1="487.8" y1="188.3" x2="490.4" y2="188.3" stroke="#2a2a2a" stroke-width="1.0" />
<text x="485.2" y="192.2" font-size="11.2" text-anchor="end" fill="#111" >0.0</text>
<line x1="488.9" y1="165.33" x2="490.4" y2="165.33" stroke="#2a2a2a" stroke-width="1.0" />
<line x1="487.8" y1="142.35" x2="490.4" y2="142.35" stroke="#2a2a2a" stroke-width="1.0" />
<text x="485.2" y="146.25" font-size="11.2" text-anchor="end" fill="#111" >0.3</text>
<line x1="488.9" y1="119.38" x2="490.4" y2="119.38" stroke="#2a2a2a" stroke-width="1.0" />
<line x1="487.8" y1="96.4" x2="490.4" y2="96.4" stroke="#2a2a2a" stroke-width="1.0" />
<text x="485.2" y="100.3" font-size="11.2" text-anchor="end" fill="#111" >0.6</text>
<line x1="488.9" y1="73.42" x2="490.4" y2="73.42" stroke="#2a2a2a" stroke-width="1.0" />
<line x1="487.8" y1="50.45" x2="490.4" y2="50.45" stroke="#2a2a2a" stroke-width="1.0" />
<text x="485.2" y="54.35" font-size="11.2" text-anchor="end" fill="#111" >0.9</text>
<line x1="488.9" y1="27.47" x2="490.4" y2="27.47" stroke="#2a2a2a" stroke-width="1.0" />
<line x1="487.8" y1="4.5" x2="490.4" y2="4.5" stroke="#2a2a2a" stroke-width="1.0" />
<text x="485.2" y="8.4" font-size="11.2" text-anchor="end" fill="#111" >1.2</text>
<line x1="501.6" y1="191.2" x2="501.6" y2="193.8" stroke="#2a2a2a" stroke-width="1.0" />
<text x="501.6" y="204.8" font-size="11.2" text-anchor="middle" fill="#111" >0</text>
<line x1="530.77" y1="191.2" x2="530.77" y2="192.7" stroke="#2a2a2a" stroke-width="1.0" />
<line x1="559.95" y1="191.2" x2="559.95" y2="193.8" stroke="#2a2a2a" stroke-width="1.0" />
<text x="559.95" y="204.8" font-size="11.2" text-anchor="middle" fill="#111" >100</text>
<line x1="589.12" y1="191.2" x2="589.12" y2="192.7" stroke="#2a2a2a" stroke-width="1.0" />
<line x1="618.3" y1="191.2" x2="618.3" y2="193.8" stroke="#2a2a2a" stroke-width="1.0" />
<text x="618.3" y="204.8" font-size="11.2" text-anchor="middle" fill="#111" >200</text>
<line x1="647.48" y1="191.2" x2="647.48" y2="192.7" stroke="#2a2a2a" stroke-width="1.0" />
<line x1="676.3" y1="191.2" x2="676.3" y2="193.8" stroke="#2a2a2a" stroke-width="1.0" />
<text x="676.3" y="204.8" font-size="11.2" text-anchor="middle" fill="#111" >300</text>
<text x="583.35" y="216.1" font-size="11.2" text-anchor="middle" fill="#111" >Time decay (ps)</text>
<text x="467.7" y="97.4" font-size="11.2" text-anchor="middle" fill="#111" transform="rotate(-90 467.7 97.4)">ΔA (Normalized)</text>
<circle cx="583.6" cy="13.6" r="1.35" fill="#afc9e8"/>
<line x1="571.3" y1="27.3" x2="596.5" y2="27.3" stroke="#5589c4" stroke-width="1.0" />
<text x="599.7" y="17" font-size="11.2" fill="#3d6fad" >Decay kinetics</text>
<text x="599.7" y="31.3" font-size="11.2" fill="#3d6fad" >Fitted curve</text>
<rect x="531.2" y="279.7" width="137.2" height="13.7" fill="#fbe5d6"/>
<line x1="531.2" y1="265.9" x2="668.4" y2="265.9" stroke="#f8cbad" stroke-width="1.0" />
<line x1="531.2" y1="279.7" x2="668.4" y2="279.7" stroke="#f8cbad" stroke-width="1.0" />
<line x1="531.2" y1="307.1" x2="668.4" y2="307.1" stroke="#f8cbad" stroke-width="1.0" />
<text x="583.4" y="276.5" font-size="8.8" text-anchor="middle" fill="#111" font-weight="bold">t<tspan font-size="5.8" dy="1.6">1</tspan></text>
<text x="617.2" y="276.5" font-size="8.8" text-anchor="middle" fill="#111" font-weight="bold">t<tspan font-size="5.8" dy="1.6">2</tspan></text>
<text x="650.4" y="276.5" font-size="8.8" text-anchor="middle" fill="#111" font-weight="bold">t<tspan font-size="5.8" dy="1.6">ave</tspan></text>
<text x="548.3" y="289.5" font-size="8.3" text-anchor="middle" fill="#111" >t (ps)</text>
<text x="548.3" y="303" font-size="8.3" text-anchor="middle" fill="#111" >A</text>
<text x="582.8" y="289.5" font-size="8.3" text-anchor="middle" fill="#111" >29.6</text>
<text x="582.8" y="303" font-size="8.3" text-anchor="middle" fill="#111" >0.58</text>
<text x="616.6" y="289.5" font-size="8.3" text-anchor="middle" fill="#111" >212.4</text>
<text x="616.6" y="303" font-size="8.3" text-anchor="middle" fill="#111" >0.42</text>
<text x="651" y="289.5" font-size="8.3" text-anchor="middle" fill="#111" >106</text>
<text x="651" y="303" font-size="8.3" text-anchor="middle" fill="#111" ></text>
<g fill="#f9c99e"><circle cx="501.6" cy="405.9" r="1.6"/><circle cx="501.6" cy="403.6" r="1.6"/><circle cx="501.6" cy="402.1" r="1.6"/><circle cx="501.6" cy="385.5" r="1.6"/><circle cx="501.6" cy="364.7" r="1.6"/><circle cx="501.6" cy="342.6" r="1.6"/><circle cx="501.6" cy="323.7" r="1.6"/><circle cx="501.6" cy="306.0" r="1.6"/><circle cx="501.6" cy="297.7" r="1.6"/><circle cx="501.6" cy="292.9" r="1.6"/><circle cx="501.6" cy="280.8" r="1.6"/><circle cx="501.6" cy="268.6" r="1.6"/><circle cx="501.6" cy="257.9" r="1.6"/><circle cx="501.7" cy="263.0" r="1.6"/><circle cx="501.8" cy="266.9" r="1.6"/><circle cx="502.0" cy="271.0" r="1.6"/><circle cx="502.1" cy="258.1" r="1.6"/><circle cx="502.2" cy="262.8" r="1.6"/><circle cx="502.4" cy="265.1" r="1.6"/><circle cx="502.5" cy="262.5" r="1.6"/><circle cx="502.6" cy="268.1" r="1.6"/><circle cx="502.7" cy="262.7" r="1.6"/><circle cx="502.9" cy="265.1" r="1.6"/><circle cx="503.0" cy="264.1" r="1.6"/><circle cx="503.1" cy="269.9" r="1.6"/><circle cx="503.3" cy="269.6" r="1.6"/><circle cx="503.4" cy="268.0" r="1.6"/><circle cx="503.5" cy="269.9" r="1.6"/><circle cx="503.6" cy="274.5" r="1.6"/><circle cx="503.8" cy="275.4" r="1.6"/><circle cx="503.9" cy="278.9" r="1.6"/><circle cx="504.0" cy="270.2" r="1.6"/><circle cx="504.2" cy="278.3" r="1.6"/><circle cx="504.3" cy="276.5" r="1.6"/><circle cx="504.4" cy="276.7" r="1.6"/><circle cx="504.5" cy="273.5" r="1.6"/><circle cx="504.7" cy="275.3" r="1.6"/><circle cx="504.8" cy="283.0" r="1.6"/><circle cx="504.9" cy="284.4" r="1.6"/><circle cx="505.1" cy="277.7" r="1.6"/><circle cx="505.2" cy="281.0" r="1.6"/><circle cx="505.3" cy="283.5" r="1.6"/><circle cx="505.4" cy="279.8" r="1.6"/><circle cx="505.6" cy="279.9" r="1.6"/><circle cx="505.7" cy="280.0" r="1.6"/><circle cx="505.8" cy="284.3" r="1.6"/><circle cx="506.0" cy="280.9" r="1.6"/><circle cx="506.1" cy="286.4" r="1.6"/><circle cx="506.2" cy="284.0" r="1.6"/><circle cx="506.3" cy="283.0" r="1.6"/><circle cx="506.5" cy="285.9" r="1.6"/><circle cx="506.6" cy="286.0" r="1.6"/><circle cx="506.7" cy="283.6" r="1.6"/><circle cx="503.4" cy="266.4" r="1.6"/><circle cx="503.8" cy="280.4" r="1.6"/><circle cx="504.3" cy="273.1" r="1.6"/><circle cx="504.8" cy="276.8" r="1.6"/><circle cx="505.2" cy="281.3" r="1.6"/><circle cx="505.7" cy="289.4" r="1.6"/><circle cx="506.2" cy="283.4" r="1.6"/><circle cx="506.6" cy="289.0" r="1.6"/><circle cx="507.1" cy="288.3" r="1.6"/><circle cx="507.6" cy="289.9" r="1.6"/><circle cx="508.0" cy="294.8" r="1.6"/><circle cx="508.5" cy="297.5" r="1.6"/><circle cx="509.0" cy="293.7" r="1.6"/><circle cx="509.4" cy="296.3" r="1.6"/><circle cx="510.4" cy="300.7" r="1.6"/><circle cx="511.8" cy="304.1" r="1.6"/><circle cx="513.2" cy="308.8" r="1.6"/><circle cx="515.2" cy="314.3" r="1.6"/><circle cx="516.6" cy="317.7" r="1.6"/><circle cx="517.2" cy="320.4" r="1.6"/><circle cx="518.6" cy="325.2" r="1.6"/><circle cx="520.0" cy="326.5" r="1.6"/><circle cx="523.4" cy="331.3" r="1.6"/><circle cx="527.4" cy="335.4" r="1.6"/><circle cx="532.9" cy="343.5" r="1.6"/><circle cx="537.0" cy="347.6" r="1.6"/><circle cx="541.7" cy="349.7" r="1.6"/><circle cx="542.0" cy="349.8" r="1.6"/><circle cx="544.8" cy="355.4" r="1.6"/><circle cx="547.7" cy="356.4" r="1.6"/><circle cx="550.8" cy="357.3" r="1.6"/><circle cx="553.6" cy="360.3" r="1.6"/><circle cx="559.5" cy="362.6" r="1.6"/><circle cx="565.2" cy="369.7" r="1.6"/><circle cx="570.9" cy="368.3" r="1.6"/><circle cx="576.9" cy="372.8" r="1.6"/><circle cx="582.6" cy="373.4" r="1.6"/><circle cx="588.6" cy="375.4" r="1.6"/><circle cx="594.3" cy="375.4" r="1.6"/><circle cx="600.2" cy="378.7" r="1.6"/><circle cx="606.1" cy="381.3" r="1.6"/><circle cx="611.8" cy="382.0" r="1.6"/><circle cx="623.4" cy="384.2" r="1.6"/><circle cx="635.2" cy="387.2" r="1.6"/><circle cx="647.0" cy="386.4" r="1.6"/><circle cx="658.5" cy="391.0" r="1.6"/><circle cx="670.3" cy="389.9" r="1.6"/></g>
<path d="M501.6,410.5 501.6,334.2 502.3,257.4 502.5,259.4 502.8,261.4 503.0,263.2 503.2,264.9 503.5,266.5 503.7,268.1 503.9,269.5 504.2,270.9 504.4,272.3 504.6,273.6 504.9,274.8 505.1,276.0 505.3,277.2 505.6,278.3 505.8,279.4 506.0,280.4 506.3,281.5 506.5,282.4 506.7,283.4 507.0,284.4 507.2,285.3 507.4,286.2 507.7,287.1 507.9,288.0 508.1,288.8 508.4,289.7 508.6,290.5 508.8,291.3 509.1,292.1 509.3,292.9 509.5,293.7 509.8,294.4 510.0,295.2 510.2,295.9 510.5,296.7 510.7,297.4 510.9,298.1 511.2,298.8 511.4,299.5 511.6,300.2 511.9,300.9 512.1,301.6 512.3,302.3 512.6,302.9 512.8,303.6 513.0,304.2 513.3,304.9 514.4,308.0 515.6,310.9 516.8,313.7 517.9,316.4 519.1,318.9 520.3,321.4 521.4,323.7 522.6,325.9 523.8,328.0 524.9,330.0 526.1,331.9 527.3,333.8 528.4,335.5 529.6,337.2 530.8,338.8 531.9,340.4 533.1,341.8 534.3,343.3 535.4,344.6 536.6,345.9 537.8,347.1 538.9,348.3 540.1,349.5 541.3,350.6 542.4,351.6 543.6,352.7 544.8,353.6 545.9,354.6 547.1,355.5 548.3,356.3 549.4,357.2 550.6,358.0 551.8,358.8 552.9,359.5 554.1,360.3 555.3,361.0 556.4,361.6 557.6,362.3 558.8,362.9 560.0,363.5 561.1,364.1 562.3,364.7 563.5,365.3 564.6,365.8 565.8,366.4 567.0,366.9 568.1,367.4 569.3,367.9 570.5,368.3 571.6,368.8 572.8,369.3 574.0,369.7 575.1,370.1 576.3,370.5 577.5,370.9 578.6,371.3 579.8,371.7 581.0,372.1 582.1,372.5 583.3,372.8 584.5,373.2 585.6,373.6 586.8,373.9 588.0,374.2 589.1,374.6 590.3,374.9 591.5,375.2 592.6,375.5 593.8,375.8 595.0,376.1 596.1,376.4 597.3,376.7 598.5,377.0 599.6,377.3 600.8,377.6 602.0,377.8 603.1,378.1 604.3,378.4 605.5,378.6 606.6,378.9 607.8,379.2 609.0,379.4 610.1,379.7 611.3,379.9 612.5,380.1 613.6,380.4 614.8,380.6 616.0,380.9 617.1,381.1 618.3,381.3 619.5,381.5 620.6,381.8 621.8,382.0 623.0,382.2 624.1,382.4 625.3,382.6 626.5,382.8 627.6,383.1 628.8,383.3 630.0,383.5 631.1,383.7 632.3,383.9 633.5,384.1 634.6,384.3 635.8,384.5 637.0,384.7 638.1,384.9 639.3,385.0 640.5,385.2 641.6,385.4 642.8,385.6 644.0,385.8 645.1,386.0 646.3,386.1 647.5,386.3 648.6,386.5 649.8,386.7 651.0,386.9 652.1,387.0 653.3,387.2 654.5,387.4 655.6,387.5 656.8,387.7 658.0,387.9 659.1,388.0 660.3,388.2 661.5,388.4 662.6,388.5 663.8,388.7 665.0,388.8 666.1,389.0 667.3,389.2 668.5,389.3 669.6,389.5 670.8,389.6 672.0,389.8 673.1,389.9 674.3,390.1 675.5,390.2 676.7,390.4" fill="none" stroke="#f39a4a" stroke-width="1.3"/>
<rect x="490.4" y="227.4" width="185.9" height="186" fill="none" stroke="#2a2a2a" stroke-width="1"/>
<line x1="487.8" y1="410.5" x2="490.4" y2="410.5" stroke="#2a2a2a" stroke-width="1.0" />
<text x="485.2" y="414.4" font-size="11.2" text-anchor="end" fill="#111" >0.0</text>
<line x1="488.9" y1="387.61" x2="490.4" y2="387.61" stroke="#2a2a2a" stroke-width="1.0" />
<line x1="487.8" y1="364.73" x2="490.4" y2="364.73" stroke="#2a2a2a" stroke-width="1.0" />
<text x="485.2" y="368.62" font-size="11.2" text-anchor="end" fill="#111" >0.3</text>
<line x1="488.9" y1="341.84" x2="490.4" y2="341.84" stroke="#2a2a2a" stroke-width="1.0" />
<line x1="487.8" y1="318.95" x2="490.4" y2="318.95" stroke="#2a2a2a" stroke-width="1.0" />
<text x="485.2" y="322.85" font-size="11.2" text-anchor="end" fill="#111" >0.6</text>
<line x1="488.9" y1="296.06" x2="490.4" y2="296.06" stroke="#2a2a2a" stroke-width="1.0" />
<line x1="487.8" y1="273.18" x2="490.4" y2="273.18" stroke="#2a2a2a" stroke-width="1.0" />
<text x="485.2" y="277.07" font-size="11.2" text-anchor="end" fill="#111" >0.9</text>
<line x1="488.9" y1="250.29" x2="490.4" y2="250.29" stroke="#2a2a2a" stroke-width="1.0" />
<line x1="487.8" y1="227.4" x2="490.4" y2="227.4" stroke="#2a2a2a" stroke-width="1.0" />
<text x="485.2" y="231.3" font-size="11.2" text-anchor="end" fill="#111" >1.2</text>
<line x1="501.6" y1="413.4" x2="501.6" y2="416" stroke="#2a2a2a" stroke-width="1.0" />
<text x="501.6" y="427" font-size="11.2" text-anchor="middle" fill="#111" >0</text>
<line x1="530.77" y1="413.4" x2="530.77" y2="414.9" stroke="#2a2a2a" stroke-width="1.0" />
<line x1="559.95" y1="413.4" x2="559.95" y2="416" stroke="#2a2a2a" stroke-width="1.0" />
<text x="559.95" y="427" font-size="11.2" text-anchor="middle" fill="#111" >100</text>
<line x1="589.12" y1="413.4" x2="589.12" y2="414.9" stroke="#2a2a2a" stroke-width="1.0" />
<line x1="618.3" y1="413.4" x2="618.3" y2="416" stroke="#2a2a2a" stroke-width="1.0" />
<text x="618.3" y="427" font-size="11.2" text-anchor="middle" fill="#111" >200</text>
<line x1="647.48" y1="413.4" x2="647.48" y2="414.9" stroke="#2a2a2a" stroke-width="1.0" />
<line x1="676.3" y1="413.4" x2="676.3" y2="416" stroke="#2a2a2a" stroke-width="1.0" />
<text x="676.3" y="427" font-size="11.2" text-anchor="middle" fill="#111" >300</text>
<text x="583.35" y="438.3" font-size="11.2" text-anchor="middle" fill="#111" >Time decay (ps)</text>
<text x="467.7" y="320" font-size="11.2" text-anchor="middle" fill="#111" transform="rotate(-90 467.7 320)">ΔA (Normalized)</text>
<circle cx="583.6" cy="236.2" r="1.35" fill="#f9c99e"/>
<line x1="571.3" y1="249.9" x2="596.5" y2="249.9" stroke="#f39a4a" stroke-width="1.0" />
<text x="599.7" y="239.6" font-size="11.2" fill="#f0954f" >Decay kinetics</text>
<text x="599.7" y="253.9" font-size="11.2" fill="#f0954f" >Fitted curve</text>
<text x="3.5" y="14.3" font-size="17" fill="#000" >a</text>
<text x="5.5" y="235.3" font-size="17" fill="#000" >b</text>
<text x="224.5" y="14.3" font-size="17" fill="#000" >c</text>
<text x="224.8" y="234.8" font-size="17" fill="#000" >d</text>
<text x="450.5" y="14.3" font-size="17" fill="#000" >e</text>
<text x="452" y="235" font-size="17" fill="#000" >f</text>
</svg></body></html>
